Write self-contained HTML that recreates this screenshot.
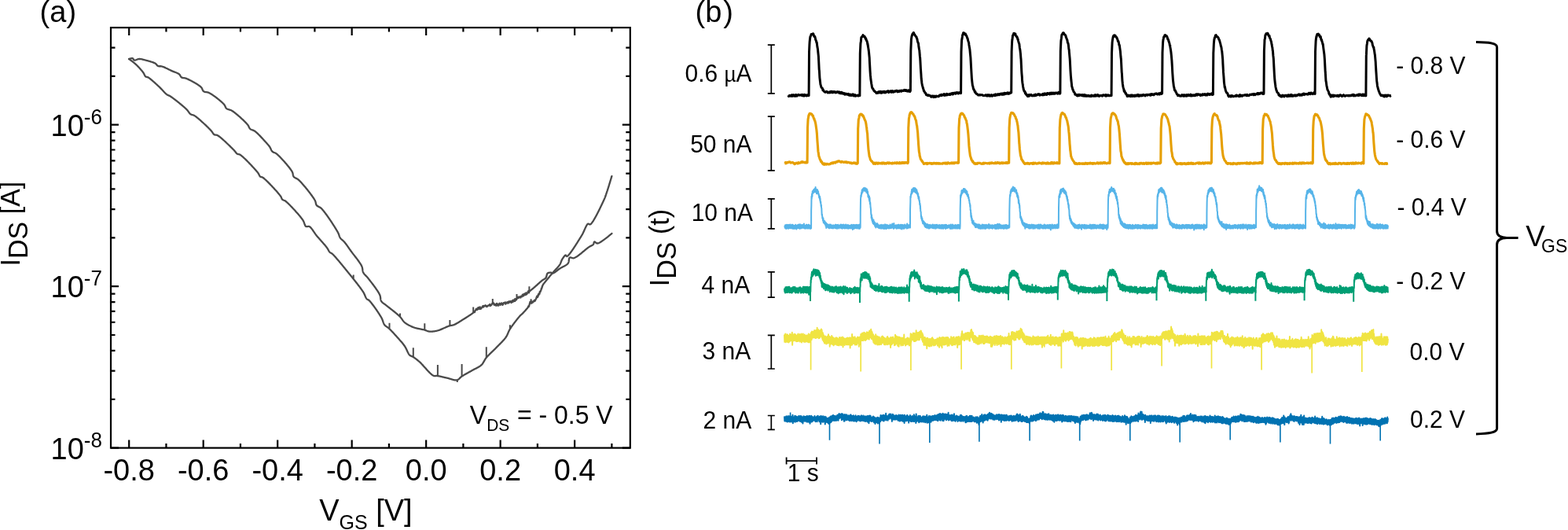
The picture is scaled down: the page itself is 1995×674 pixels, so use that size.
<!DOCTYPE html>
<html><head><meta charset="utf-8"><title>Figure</title>
<style>html,body{margin:0;padding:0;background:#fff;width:1995px;height:674px;overflow:hidden}svg{display:block}</style>
</head><body>
<svg width="1995" height="674" viewBox="0 0 1995 674">
<g stroke="#000" stroke-width="2.2" fill="none" stroke-linecap="butt">
<rect x="141" y="35.1" width="660.8" height="534.5"/>
<path d="M164.2 569.6v-10M164.2 35.1v10M211.45 569.6v-5.5M211.45 35.1v5.5M258.69 569.6v-10M258.69 35.1v10M305.94 569.6v-5.5M305.94 35.1v5.5M353.18 569.6v-10M353.18 35.1v10M400.42 569.6v-5.5M400.42 35.1v5.5M447.67 569.6v-10M447.67 35.1v10M494.92 569.6v-5.5M494.92 35.1v5.5M542.16 569.6v-10M542.16 35.1v10M589.4 569.6v-5.5M589.4 35.1v5.5M636.65 569.6v-10M636.65 35.1v10M683.89 569.6v-5.5M683.89 35.1v5.5M731.14 569.6v-10M731.14 35.1v10M778.38 569.6v-5.5M778.38 35.1v5.5M141 569.6h10M801.8 569.6h-10M141 507.75h5.5M801.8 507.75h-5.5M141 471.58h5.5M801.8 471.58h-5.5M141 445.91h5.5M801.8 445.91h-5.5M141 426h5.5M801.8 426h-5.5M141 409.73h5.5M801.8 409.73h-5.5M141 395.97h5.5M801.8 395.97h-5.5M141 384.06h5.5M801.8 384.06h-5.5M141 373.55h5.5M801.8 373.55h-5.5M141 364.15h10M801.8 364.15h-10M141 302.3h5.5M801.8 302.3h-5.5M141 266.13h5.5M801.8 266.13h-5.5M141 240.46h5.5M801.8 240.46h-5.5M141 220.55h5.5M801.8 220.55h-5.5M141 204.28h5.5M801.8 204.28h-5.5M141 190.52h5.5M801.8 190.52h-5.5M141 178.61h5.5M801.8 178.61h-5.5M141 168.1h5.5M801.8 168.1h-5.5M141 158.7h10M801.8 158.7h-10M141 96.85h5.5M801.8 96.85h-5.5M141 60.68h5.5M801.8 60.68h-5.5M141 35.01h5.5M801.8 35.01h-5.5"/>
</g>
<g stroke="#4a4a4a" stroke-width="2.3" fill="none" stroke-linejoin="round" stroke-linecap="round">
<path d="M164.1 75 164.29 74.93 164.81 74.75 165.55 74.52 166.4 74.28 167.28 74.1 168.08 74.02 168.7 74.1 169.19 74.46 169.56 75.03 169.9 75.68 170.28 76.25 170.8 76.6 171.26 76.67 171.78 76.62 172.35 76.47 172.96 76.25 173.6 76 174.27 75.73 174.95 75.46 175.64 75.24 176.32 75.07 177 75 177.55 75 178.11 75.02 178.67 75.07 179.24 75.14 179.81 75.24 180.39 75.35 180.98 75.47 181.57 75.61 182.17 75.76 182.78 75.92 183.4 76.09 184.02 76.26 184.66 76.43 185.3 76.6 185.85 76.75 186.44 76.9 187.04 77.06 187.67 77.23 188.31 77.4 188.96 77.58 189.63 77.76 190.29 77.95 190.97 78.15 191.63 78.35 192.3 78.56 192.95 78.77 193.59 78.98 194.21 79.2 194.82 79.42 195.4 79.64 195.95 79.87 196.47 80.1 196.95 80.33 197.4 80.57 197.8 80.8 198.39 81.24 198.86 81.72 199.26 82.22 199.62 82.72 199.99 83.18 200.4 83.58 200.9 83.9 201.45 84.1 202.02 84.2 202.63 84.24 203.26 84.24 203.93 84.24 204.62 84.26 205.35 84.34 206.1 84.5 206.56 84.64 207.05 84.8 207.55 84.98 208.08 85.18 208.62 85.4 209.17 85.64 209.74 85.89 210.32 86.15 210.9 86.42 211.5 86.71 212.1 86.99 212.7 87.29 213.3 87.59 213.91 87.88 214.51 88.18 215.11 88.48 215.7 88.77 216.28 89.05 216.86 89.33 217.42 89.6 217.97 89.86 218.5 90.1 219.1 90.36 219.7 90.61 220.31 90.85 220.92 91.09 221.54 91.32 222.15 91.55 222.76 91.78 223.35 92.01 223.94 92.24 224.51 92.47 225.07 92.7 225.61 92.95 226.12 93.2 226.61 93.45 227.07 93.72 227.5 94.01 227.9 94.3 228.41 94.79 228.83 95.32 229.17 95.88 229.49 96.45 229.8 97.01 230.13 97.54 230.52 98.01 231 98.4 231.49 98.67 232.01 98.86 232.56 98.99 233.14 99.08 233.75 99.16 234.38 99.23 235.05 99.32 235.74 99.45 236.45 99.64 237.2 99.9 237.6 100.07 238.03 100.25 238.48 100.45 238.96 100.66 239.45 100.89 239.97 101.13 240.5 101.39 241.04 101.66 241.61 101.93 242.18 102.22 242.76 102.52 243.36 102.83 243.96 103.15 244.56 103.47 245.17 103.8 245.79 104.14 246.4 104.48 247.01 104.83 247.62 105.18 248.22 105.53 248.82 105.88 249.41 106.24 249.99 106.59 250.56 106.95 251.12 107.3 251.66 107.66 252.18 108.01 252.69 108.35 253.18 108.69 253.65 109.03 254.09 109.36 254.51 109.69 254.9 110 255.26 110.31 255.6 110.61 255.9 110.9 256.39 111.45 256.77 112.02 257.07 112.59 257.32 113.16 257.54 113.72 257.75 114.27 257.98 114.78 258.25 115.27 258.58 115.71 259 116.1 259.46 116.4 259.96 116.63 260.48 116.8 261.05 116.93 261.63 117.03 262.25 117.12 262.88 117.21 263.54 117.32 264.21 117.46 264.9 117.64 265.6 117.88 266.3 118.2 266.69 118.41 267.11 118.63 267.54 118.88 267.99 119.14 268.46 119.43 268.94 119.73 269.43 120.04 269.93 120.38 270.45 120.72 270.98 121.08 271.51 121.45 272.05 121.83 272.6 122.22 273.15 122.62 273.71 123.03 274.27 123.44 274.83 123.87 275.39 124.29 275.95 124.72 276.51 125.16 277.06 125.59 277.61 126.03 278.15 126.47 278.69 126.9 279.21 127.34 279.73 127.77 280.23 128.2 280.73 128.62 281.21 129.04 281.67 129.45 282.12 129.86 282.55 130.25 282.97 130.64 283.36 131.02 283.74 131.38 284.09 131.73 284.42 132.07 284.72 132.39 285 132.7 285.47 133.29 285.84 133.87 286.15 134.44 286.4 134.99 286.63 135.53 286.84 136.06 287.08 136.56 287.35 137.03 287.69 137.48 288.1 137.9 288.52 138.23 288.98 138.5 289.46 138.73 289.97 138.93 290.5 139.1 291.06 139.27 291.64 139.43 292.23 139.61 292.84 139.8 293.46 140.03 294.1 140.3 294.75 140.62 295.4 141 295.76 141.23 296.14 141.49 296.54 141.76 296.95 142.05 297.37 142.36 297.81 142.69 298.26 143.03 298.72 143.38 299.19 143.75 299.68 144.13 300.16 144.53 300.66 144.93 301.17 145.35 301.68 145.77 302.19 146.21 302.71 146.65 303.23 147.09 303.76 147.55 304.28 148.01 304.81 148.47 305.33 148.94 305.85 149.41 306.37 149.88 306.89 150.35 307.4 150.82 307.91 151.29 308.41 151.76 308.91 152.22 309.39 152.68 309.87 153.14 310.34 153.59 310.79 154.04 311.24 154.48 311.67 154.91 312.09 155.33 312.5 155.75 312.88 156.15 313.26 156.54 313.61 156.92 313.95 157.28 314.27 157.64 314.57 157.97 314.84 158.3 315.1 158.6 315.56 159.21 315.94 159.81 316.25 160.38 316.51 160.93 316.74 161.46 316.97 161.98 317.21 162.46 317.48 162.93 317.8 163.38 318.2 163.8 318.65 164.17 319.14 164.48 319.66 164.75 320.21 164.99 320.78 165.21 321.37 165.43 321.98 165.67 322.6 165.93 323.23 166.22 323.87 166.58 324.5 167 324.88 167.28 325.27 167.59 325.68 167.93 326.09 168.28 326.52 168.65 326.95 169.04 327.39 169.45 327.84 169.88 328.29 170.31 328.75 170.76 329.21 171.22 329.68 171.69 330.15 172.17 330.61 172.65 331.08 173.14 331.55 173.63 332.01 174.13 332.47 174.62 332.93 175.11 333.38 175.6 333.83 176.08 334.27 176.56 334.7 177.03 335.12 177.5 335.53 177.95 335.93 178.39 336.32 178.82 336.69 179.23 337.05 179.62 337.4 180 337.89 180.54 338.37 181.06 338.83 181.56 339.28 182.05 339.71 182.53 340.13 183 340.54 183.46 340.93 183.92 341.32 184.38 341.69 184.83 342.06 185.29 342.41 185.76 342.76 186.22 343.1 186.7 343.46 187.25 343.78 187.83 344.07 188.41 344.35 189 344.62 189.59 344.88 190.17 345.15 190.74 345.44 191.28 345.76 191.79 346.11 192.27 346.5 192.7 346.94 193.08 347.41 193.38 347.89 193.62 348.4 193.83 348.93 194.03 349.48 194.24 350.05 194.48 350.65 194.77 351.26 195.14 351.9 195.6 352.2 195.84 352.51 196.11 352.84 196.39 353.18 196.7 353.54 197.02 353.91 197.37 354.29 197.73 354.69 198.11 355.09 198.51 355.51 198.92 355.93 199.35 356.37 199.79 356.81 200.24 357.26 200.71 357.71 201.18 358.18 201.67 358.64 202.17 359.11 202.67 359.58 203.19 360.06 203.71 360.54 204.23 361.02 204.76 361.49 205.3 361.97 205.84 362.45 206.38 362.92 206.93 363.4 207.48 363.86 208.02 364.33 208.57 364.79 209.11 365.24 209.65 365.68 210.19 366.12 210.73 366.55 211.26 366.98 211.78 367.39 212.3 367.79 212.81 368.18 213.32 368.56 213.81 368.92 214.29 369.27 214.77 369.61 215.23 369.93 215.68 370.24 216.11 370.53 216.53 370.8 216.94 371.05 217.33 371.29 217.71 371.51 218.06 371.7 218.4 372.04 219.09 372.29 219.75 372.48 220.38 372.61 221 372.71 221.59 372.8 222.15 372.89 222.7 373.01 223.23 373.17 223.74 373.39 224.23 373.7 224.7 374.07 225.12 374.47 225.48 374.92 225.79 375.4 226.07 375.9 226.33 376.44 226.59 377 226.85 377.57 227.14 378.16 227.46 378.77 227.84 379.38 228.28 380 228.8 380.29 229.07 380.6 229.36 380.91 229.67 381.24 230 381.59 230.34 381.94 230.7 382.3 231.09 382.67 231.48 383.06 231.89 383.45 232.32 383.85 232.76 384.25 233.21 384.67 233.68 385.09 234.15 385.52 234.64 385.95 235.14 386.38 235.65 386.82 236.17 387.27 236.69 387.71 237.22 388.16 237.76 388.61 238.3 389.07 238.85 389.52 239.41 389.97 239.96 390.42 240.52 390.88 241.09 391.33 241.65 391.77 242.22 392.22 242.78 392.66 243.35 393.1 243.91 393.53 244.47 393.95 245.03 394.38 245.58 394.79 246.13 395.2 246.68 395.6 247.22 395.99 247.75 396.38 248.27 396.75 248.79 397.12 249.3 397.47 249.8 397.81 250.29 398.15 250.77 398.47 251.24 398.77 251.69 399.07 252.13 399.35 252.56 399.61 252.97 399.86 253.37 400.1 253.75 400.31 254.12 400.52 254.47 400.7 254.8 401.07 255.56 401.34 256.29 401.54 256.97 401.68 257.62 401.8 258.24 401.91 258.84 402.04 259.4 402.22 259.95 402.46 260.48 402.8 261 403.17 261.42 403.57 261.78 404.02 262.09 404.49 262.37 404.99 262.63 405.52 262.89 406.07 263.16 406.63 263.46 407.21 263.8 407.8 264.19 408.4 264.65 409 265.2 409.27 265.47 409.55 265.77 409.84 266.08 410.14 266.42 410.45 266.77 410.77 267.14 411.1 267.53 411.43 267.93 411.77 268.35 412.12 268.79 412.48 269.24 412.84 269.7 413.21 270.18 413.59 270.67 413.96 271.18 414.35 271.69 414.74 272.21 415.13 272.75 415.52 273.29 415.92 273.85 416.33 274.41 416.73 274.98 417.13 275.55 417.54 276.13 417.95 276.72 418.36 277.31 418.77 277.9 419.18 278.5 419.59 279.1 419.99 279.7 420.4 280.3 420.81 280.91 421.21 281.51 421.61 282.12 422.01 282.72 422.4 283.32 422.79 283.91 423.18 284.51 423.56 285.09 423.93 285.68 424.3 286.26 424.67 286.83 425.03 287.39 425.38 287.95 425.73 288.5 426.06 289.04 426.4 289.57 426.72 290.09 427.03 290.6 427.34 291.1 427.63 291.59 427.92 292.06 428.19 292.52 428.46 292.97 428.71 293.4 428.95 293.81 429.18 294.21 429.4 294.59 429.61 294.95 429.8 295.3 430.17 296 430.48 296.66 430.75 297.29 430.98 297.89 431.19 298.46 431.37 299.01 431.55 299.55 431.73 300.06 431.91 300.56 432.11 301.05 432.34 301.54 432.6 302.02 432.9 302.5 433.26 302.99 433.63 303.44 434.03 303.86 434.45 304.27 434.88 304.66 435.32 305.05 435.78 305.44 436.24 305.84 436.7 306.26 437.17 306.71 437.64 307.18 438.1 307.7 438.43 308.1 438.77 308.5 439.1 308.92 439.44 309.36 439.78 309.8 440.12 310.25 440.47 310.71 440.81 311.18 441.16 311.67 441.51 312.16 441.86 312.65 442.22 313.16 442.58 313.67 442.95 314.19 443.31 314.72 443.68 315.25 444.06 315.79 444.44 316.33 444.82 316.88 445.21 317.43 445.6 317.98 446 318.54 446.4 319.1 446.72 319.54 447.04 319.98 447.38 320.44 447.73 320.9 448.09 321.38 448.46 321.86 448.84 322.35 449.22 322.84 449.61 323.35 450.01 323.85 450.41 324.37 450.82 324.89 451.22 325.41 451.63 325.94 452.04 326.46 452.46 326.99 452.87 327.53 453.28 328.06 453.69 328.59 454.09 329.13 454.5 329.66 454.89 330.19 455.29 330.72 455.67 331.24 456.05 331.77 456.43 332.29 456.79 332.8 457.15 333.31 457.49 333.81 457.82 334.31 458.15 334.8 458.46 335.28 458.75 335.76 459.03 336.22 459.3 336.68 459.55 337.13 459.79 337.56 460 337.99 460.2 338.4 460.48 339.07 460.71 339.73 460.89 340.37 461.03 340.99 461.14 341.6 461.23 342.2 461.31 342.79 461.39 343.37 461.47 343.94 461.57 344.5 461.69 345.06 461.85 345.61 462.05 346.15 462.3 346.7 462.59 347.22 462.91 347.72 463.24 348.19 463.61 348.65 463.99 349.09 464.38 349.53 464.8 349.97 465.23 350.41 465.67 350.85 466.13 351.31 466.59 351.79 467.06 352.3 467.54 352.83 468.02 353.4 468.5 354 468.79 354.37 469.09 354.76 469.4 355.17 469.73 355.58 470.07 356.02 470.41 356.46 470.77 356.92 471.14 357.39 471.51 357.88 471.89 358.37 472.28 358.87 472.67 359.38 473.07 359.9 473.47 360.42 473.87 360.95 474.28 361.49 474.69 362.03 475.1 362.57 475.51 363.12 475.91 363.67 476.32 364.22 476.72 364.78 477.13 365.33 477.52 365.88 477.92 366.43 478.3 366.98 478.68 367.53 479.06 368.07 479.42 368.6 479.78 369.13 480.13 369.66 480.46 370.18 480.79 370.69 481.1 371.19 481.41 371.68 481.69 372.16 481.97 372.63 482.23 373.09 482.47 373.54 482.7 373.98 482.91 374.4 483.1 374.8 483.38 375.49 483.61 376.16 483.78 376.82 483.91 377.46 484.02 378.09 484.1 378.71 484.17 379.31 484.24 379.9 484.32 380.47 484.42 381.03 484.55 381.57 484.71 382.1 484.93 382.61 485.2 383.1 485.53 383.59 485.9 384.03 486.29 384.44 486.7 384.83 487.14 385.19 487.61 385.55 488.09 385.9 488.6 386.25 489.13 386.61 489.67 386.99 490.23 387.39 490.81 387.83 491.4 388.3 491.77 388.6 492.15 388.92 492.55 389.24 492.98 389.58 493.41 389.92 493.86 390.28 494.32 390.64 494.8 391.01 495.29 391.4 495.78 391.78 496.29 392.18 496.8 392.58 497.32 392.98 497.85 393.39 498.38 393.8 498.91 394.22 499.45 394.64 499.99 395.06 500.52 395.49 501.06 395.91 501.59 396.33 502.12 396.76 502.64 397.18 503.16 397.6 503.67 398.02 504.17 398.44 504.66 398.85 505.15 399.26 505.62 399.66 506.08 400.06 506.52 400.45 506.95 400.84 507.37 401.21 507.76 401.59 508.14 401.95 508.5 402.3 509.01 402.83 509.48 403.35 509.91 403.88 510.31 404.4 510.69 404.91 511.05 405.42 511.4 405.92 511.75 406.42 512.09 406.91 512.43 407.39 512.79 407.87 513.16 408.34 513.55 408.79 513.96 409.24 514.41 409.68 514.9 410.1 515.35 410.46 515.81 410.81 516.28 411.16 516.77 411.5 517.27 411.84 517.79 412.17 518.31 412.49 518.85 412.8 519.39 413.11 519.94 413.42 520.5 413.71 521.07 414 521.64 414.29 522.22 414.56 522.8 414.83 523.38 415.1 523.96 415.35 524.55 415.6 525.13 415.84 525.72 416.07 526.3 416.3 526.86 416.5 527.43 416.7 528.01 416.88 528.61 417.05 529.21 417.22 529.83 417.38 530.45 417.53 531.07 417.67 531.7 417.81 532.33 417.94 532.95 418.06 533.58 418.19 534.2 418.31 534.81 418.43 535.42 418.54 536.02 418.66 536.6 418.77 537.18 418.89 537.74 419.01 538.28 419.12 538.81 419.25 539.31 419.37 539.8 419.5 540.46 419.7 541.07 419.91 541.65 420.12 542.2 420.34 542.73 420.56 543.26 420.77 543.78 420.96 544.32 421.14 544.88 421.29 545.47 421.41 546.1 421.5 546.64 421.55 547.19 421.58 547.75 421.6 548.32 421.61 548.91 421.6 549.5 421.58 550.1 421.54 550.72 421.49 551.34 421.43 551.96 421.35 552.6 421.27 553.24 421.17 553.88 421.06 554.53 420.93 555.18 420.8 555.84 420.66 556.5 420.5 557.03 420.36 557.59 420.2 558.15 420.02 558.73 419.83 559.32 419.61 559.92 419.39 560.53 419.15 561.15 418.9 561.77 418.64 562.39 418.37 563.02 418.1 563.65 417.82 564.28 417.54 564.9 417.26 565.52 416.99 566.13 416.71 566.74 416.44 567.33 416.17 567.92 415.91 568.49 415.66 569.05 415.42 569.59 415.19 570.11 414.98 570.62 414.78 571.1 414.6 571.56 414.44 572 414.3 572.76 414.1 573.44 413.96 574.06 413.87 574.65 413.8 575.23 413.72 575.83 413.61 576.48 413.44 577.2 413.2 577.63 413.03 578.07 412.84 578.53 412.63 579 412.4 579.49 412.15 579.99 411.89 580.5 411.62 581.02 411.33 581.54 411.03 582.08 410.72 582.62 410.41 583.16 410.08 583.71 409.75 584.27 409.41 584.82 409.06 585.37 408.72 585.93 408.37 586.48 408.02 587.03 407.68 587.58 407.33 588.12 406.99 588.65 406.65 589.18 406.32 589.7 406 590.23 405.67 590.77 405.34 591.31 405 591.87 404.65 592.42 404.3 592.99 403.95 593.55 403.59 594.12 403.23 594.68 402.87 595.25 402.51 595.81 402.15 596.36 401.79 596.91 401.42 597.45 401.07 597.98 400.71 598.5 400.35 599.01 400 599.5 399.66 599.98 399.31 600.44 398.98 600.89 398.65 601.31 398.32 601.72 398.01 602.1 397.7 602.67 397.19 603.16 396.55 603.58 396.38 603.97 396.99 604.36 395.14 604.75 394.81 605.19 394.61 605.7 392.97 606.3 393.54 606.74 393.64 607.21 393.88 607.72 391.55 608.25 391.94 608.82 391.08 609.4 393.02 610.01 392.47 610.63 390.31 611.27 392.93 611.92 392.68 612.57 391.56 613.23 391.26 613.89 389.7 614.55 389.09 615.2 390.45 615.84 388.87 616.47 389.08 617.08 389.06 617.68 388.25 618.25 389.37 618.8 389.12 619.45 390.1 620.1 388.89 620.74 389 621.38 388.32 622 388.55 622.62 387.69 623.23 386.91 623.83 388.84 624.41 388.62 624.98 387.96 625.54 387.4 626.08 386.1 626.6 385.74 627.1 385.87 627.83 385.23 628.47 387.45 629.08 386.55 629.7 388.09 630.39 386.88 631.2 388.67 631.64 388.35 632.11 385.8 632.62 386.41 633.15 388.48 633.71 387.12 634.29 388.6 634.88 386.79 635.5 385.75 636.13 387.34 636.78 387.7 637.43 386.08 638.09 385.44 638.75 386.07 639.41 387.85 640.07 387.12 640.73 385.08 641.38 385.34 642.03 384.77 642.66 384.52 643.27 386.6 643.87 384.61 644.45 385.61 645 385.14 645.63 384.21 646.26 385.66 646.89 383.67 647.51 385.02 648.13 383.24 648.74 383.95 649.34 383.12 649.94 383.07 650.52 384.96 651.1 384.23 651.67 382.51 652.22 384.02 652.76 381.77 653.29 382.09 653.81 383.23 654.31 382.36 654.8 380.5 655.41 382.85 655.99 380.2 656.54 380 657.07 381.21 657.59 379.53 658.09 379.09 658.59 378.09 659.09 377.8 659.59 378.96 660.1 377.63 660.69 378.36 661.27 377.35 661.84 377.28 662.41 378.48 662.99 376.74 663.57 376.7 664.17 377.25 664.8 374.85 665.32 374.48 665.85 376.45 666.4 375.88 666.96 373.88 667.52 373.4 668.1 374.74 668.67 375.02 669.25 372.47 669.82 374.4 670.39 373.85 670.95 372.67 671.5 371.76 671.98 370.48 672.46 369.96 672.93 372.39 673.39 370.66 673.85 370.32 674.31 369.97 674.76 369.61 675.23 369.24 675.7 368.86 676.17 368.47 676.66 368.07 677.16 367.66 677.67 367.24 678.2 366.8 678.61 366.46 679.03 366.11 679.46 365.73 679.91 365.34 680.37 364.94 680.84 364.52 681.32 364.1 681.81 363.66 682.3 363.22 682.79 362.78 683.29 362.33 683.79 361.88 684.29 361.42 684.79 360.98 685.29 360.53 685.78 360.09 686.26 359.66 686.74 359.24 687.2 358.82 687.66 358.43 688.11 358.04 688.54 357.67 688.96 357.32 689.36 356.99 689.74 356.68 690.1 356.4 690.75 355.93 691.38 355.55 691.98 355.21 692.56 354.91 693.1 354.6 693.6 354.26 694.07 353.87 694.5 353.4 694.81 352.9 695.06 352.31 695.25 351.66 695.41 350.98 695.56 350.29 695.71 349.61 695.88 348.96 696.09 348.38 696.36 347.89 696.7 347.5 697.23 347.16 697.86 346.92 698.55 346.77 699.26 346.68 699.97 346.65 700.62 346.66 701.2 346.7 701.95 346.97 702.61 347.36 703.4 347.5 703.77 347.42 704.18 347.28 704.62 347.07 705.08 346.81 705.58 346.51 706.09 346.17 706.62 345.79 707.17 345.38 707.73 344.95 708.29 344.51 708.87 344.05 709.45 343.6 710.03 343.15 710.61 342.7 711.18 342.28 711.75 341.87 712.3 341.5 712.81 341.18 713.34 340.86 713.89 340.55 714.46 340.24 715.04 339.93 715.62 339.63 716.21 339.33 716.8 339.02 717.39 338.71 717.98 338.4 718.55 338.09 719.11 337.77 719.65 337.44 720.18 337.11 720.68 336.77 721.15 336.42 721.59 336.06 722 335.69 722.37 335.3 722.7 334.9 723.06 334.32 723.32 333.67 723.52 332.97 723.66 332.24 723.77 331.5 723.85 330.75 723.93 330.04 724.03 329.37 724.16 328.76 724.33 328.23 724.58 327.81 724.9 327.5 725.39 327.33 725.93 327.35 726.52 327.52 727.16 327.76 727.84 328.01 728.56 328.21 729.31 328.29 730.1 328.2 730.46 328.09 730.85 327.95 731.25 327.78 731.67 327.58 732.11 327.35 732.57 327.1 733.04 326.82 733.53 326.51 734.03 326.19 734.54 325.84 735.06 325.48 735.59 325.09 736.13 324.7 736.68 324.28 737.23 323.86 737.79 323.43 738.35 322.98 738.92 322.53 739.48 322.07 740.05 321.61 740.62 321.14 741.18 320.68 741.74 320.21 742.3 319.75 742.85 319.29 743.4 318.83 743.94 318.38 744.47 317.94 744.99 317.51 745.5 317.09 746 316.69 746.48 316.3 746.95 315.92 747.4 315.56 747.84 315.23 748.26 314.91 748.66 314.61 749.04 314.34 749.4 314.1 750.09 313.67 750.77 313.29 751.41 312.95 752.03 312.65 752.61 312.36 753.16 312.08 753.66 311.8 754.12 311.5 754.54 311.17 754.9 310.8 755.28 310.11 755.49 309.3 755.64 308.51 755.84 307.87 756.2 307.5 756.61 307.51 757.07 307.77 757.59 308.18 758.16 308.66 758.79 309.1 759.47 309.41 760.2 309.5 760.55 309.45 760.95 309.35 761.38 309.19 761.86 308.99 762.37 308.75 762.91 308.47 763.48 308.15 764.08 307.8 764.7 307.41 765.34 307 766 306.57 766.66 306.11 767.34 305.63 768.03 305.14 768.72 304.64 769.41 304.13 770.09 303.61 770.77 303.1 771.44 302.58 772.1 302.06 772.75 301.56 773.37 301.06 773.98 300.57 774.55 300.11 775.1 299.66 775.62 299.23 776.11 298.83 776.56 298.46 776.96 298.12 777.32 297.81 777.64 297.55 777.9 297.32 778.12 297.14 778.27 297.01 778.37 296.93 778.4 296.9"/>
<path d="M164.1 75 164.15 75.04 164.3 75.15 164.55 75.32 164.87 75.55 165.27 75.84 165.72 76.17 166.24 76.55 166.79 76.96 167.38 77.41 168 77.88 168.64 78.36 169.28 78.86 169.92 79.37 170.56 79.87 171.17 80.38 171.75 80.87 172.3 81.35 172.8 81.8 173.22 82.2 173.65 82.61 174.09 83.04 174.53 83.47 174.98 83.92 175.42 84.38 175.87 84.85 176.32 85.32 176.77 85.8 177.22 86.28 177.66 86.76 178.1 87.25 178.53 87.73 178.95 88.21 179.37 88.69 179.77 89.16 180.16 89.63 180.54 90.09 180.91 90.53 181.26 90.97 181.59 91.39 181.9 91.8 182.2 92.2 182.6 92.79 182.96 93.39 183.27 93.99 183.55 94.59 183.82 95.16 184.08 95.7 184.35 96.21 184.64 96.66 184.95 97.07 185.3 97.4 185.85 97.71 186.41 97.86 187.01 97.95 187.67 98.09 188.4 98.4 188.73 98.59 189.07 98.81 189.44 99.05 189.83 99.32 190.24 99.62 190.66 99.93 191.1 100.27 191.55 100.63 192.01 101 192.49 101.39 192.98 101.8 193.47 102.21 193.97 102.64 194.48 103.08 195 103.53 195.51 103.99 196.03 104.45 196.55 104.91 197.07 105.37 197.58 105.84 198.09 106.31 198.6 106.77 199.1 107.23 199.59 107.68 200.08 108.12 200.55 108.56 201.02 108.99 201.46 109.4 201.9 109.8 202.37 110.24 202.84 110.69 203.31 111.16 203.78 111.63 204.25 112.11 204.72 112.6 205.18 113.09 205.64 113.58 206.1 114.08 206.55 114.57 207.01 115.05 207.45 115.53 207.89 116.01 208.33 116.47 208.76 116.93 209.18 117.37 209.6 117.79 210.01 118.2 210.41 118.59 210.81 118.96 211.19 119.31 211.57 119.63 211.94 119.93 212.3 120.2 212.94 120.62 213.51 120.91 214.04 121.14 214.58 121.34 215.14 121.57 215.77 121.87 216.5 122.3 216.81 122.5 217.14 122.72 217.5 122.96 217.87 123.22 218.26 123.5 218.67 123.79 219.1 124.1 219.54 124.42 220 124.75 220.47 125.1 220.96 125.46 221.45 125.84 221.96 126.22 222.47 126.61 223 127.01 223.53 127.42 224.07 127.84 224.61 128.27 225.16 128.7 225.71 129.13 226.26 129.57 226.82 130.01 227.37 130.46 227.92 130.9 228.48 131.35 229.02 131.8 229.57 132.24 230.11 132.69 230.64 133.13 231.17 133.57 231.69 134 232.2 134.43 232.69 134.85 233.18 135.27 233.66 135.68 234.12 136.08 234.56 136.47 235 136.86 235.41 137.23 235.81 137.59 236.19 137.94 236.55 138.27 236.88 138.59 237.2 138.9 237.74 139.46 238.23 140.01 238.68 140.56 239.09 141.09 239.47 141.62 239.83 142.13 240.18 142.63 240.52 143.1 240.86 143.56 241.21 143.99 241.58 144.39 241.97 144.76 242.4 145.1 242.93 145.43 243.45 145.68 243.98 145.86 244.52 146.01 245.07 146.15 245.65 146.32 246.26 146.53 246.91 146.81 247.6 147.2 247.92 147.41 248.27 147.64 248.63 147.89 249.01 148.16 249.4 148.45 249.81 148.76 250.23 149.09 250.67 149.44 251.12 149.8 251.58 150.18 252.06 150.57 252.54 150.97 253.03 151.39 253.53 151.81 254.04 152.25 254.55 152.7 255.07 153.15 255.59 153.62 256.12 154.09 256.65 154.56 257.18 155.04 257.72 155.53 258.25 156.01 258.78 156.5 259.31 156.99 259.83 157.48 260.36 157.97 260.88 158.46 261.39 158.95 261.9 159.43 262.4 159.91 262.89 160.38 263.37 160.84 263.84 161.3 264.3 161.75 264.75 162.19 265.19 162.63 265.61 163.05 266.02 163.45 266.41 163.85 266.79 164.23 267.15 164.6 267.49 164.95 267.82 165.28 268.12 165.6 268.4 165.9 268.92 166.49 269.37 167.06 269.77 167.62 270.13 168.16 270.46 168.68 270.78 169.18 271.09 169.64 271.4 170.07 271.73 170.46 272.1 170.8 272.5 171.1 273.04 171.36 273.58 171.49 274.13 171.54 274.7 171.57 275.31 171.64 275.98 171.79 276.7 172.1 277 172.27 277.33 172.46 277.67 172.68 278.04 172.92 278.42 173.19 278.81 173.48 279.22 173.79 279.65 174.12 280.09 174.47 280.54 174.83 281.01 175.21 281.48 175.61 281.97 176.02 282.46 176.45 282.97 176.89 283.48 177.34 283.99 177.8 284.51 178.27 285.04 178.74 285.57 179.23 286.1 179.72 286.63 180.21 287.17 180.71 287.7 181.22 288.23 181.72 288.76 182.22 289.29 182.73 289.82 183.23 290.33 183.73 290.85 184.22 291.35 184.72 291.85 185.2 292.34 185.68 292.82 186.15 293.29 186.61 293.75 187.07 294.19 187.51 294.63 187.94 295.05 188.35 295.45 188.75 295.84 189.14 296.21 189.51 296.56 189.86 296.89 190.19 297.21 190.51 297.5 190.8 298.05 191.37 298.55 191.94 299 192.48 299.41 193.01 299.79 193.51 300.16 193.99 300.52 194.43 300.87 194.84 301.23 195.2 301.6 195.53 302 195.8 302.61 196.05 303.18 196.13 303.78 196.16 304.43 196.27 305.2 196.6 305.46 196.75 305.74 196.93 306.04 197.14 306.35 197.37 306.69 197.63 307.04 197.9 307.41 198.2 307.8 198.52 308.2 198.86 308.61 199.22 309.04 199.6 309.48 199.99 309.93 200.4 310.39 200.83 310.86 201.27 311.34 201.72 311.83 202.19 312.33 202.67 312.83 203.16 313.34 203.66 313.85 204.16 314.37 204.68 314.89 205.2 315.42 205.73 315.94 206.26 316.47 206.8 317 207.34 317.52 207.88 318.05 208.43 318.57 208.97 319.09 209.52 319.6 210.06 320.11 210.6 320.62 211.14 321.11 211.67 321.6 212.2 322.08 212.72 322.56 213.24 323.02 213.75 323.47 214.25 323.91 214.74 324.34 215.21 324.75 215.68 325.16 216.13 325.54 216.57 325.91 217 326.27 217.41 326.6 217.8 326.92 218.18 327.22 218.54 327.5 218.88 327.76 219.2 328 219.5 328.48 220.16 328.88 220.8 329.22 221.41 329.51 222 329.78 222.56 330.03 223.08 330.28 223.56 330.55 223.99 330.85 224.37 331.2 224.7 331.75 225 332.3 225.12 332.89 225.19 333.55 225.34 334.3 225.7 334.55 225.86 334.81 226.05 335.1 226.26 335.4 226.5 335.73 226.76 336.07 227.04 336.42 227.35 336.8 227.67 337.18 228.02 337.59 228.38 338 228.76 338.43 229.16 338.87 229.58 339.32 230.01 339.78 230.45 340.24 230.91 340.72 231.38 341.21 231.86 341.7 232.36 342.19 232.86 342.7 233.37 343.2 233.89 343.71 234.42 344.23 234.95 344.74 235.49 345.26 236.03 345.78 236.58 346.29 237.13 346.81 237.68 347.32 238.23 347.83 238.78 348.33 239.33 348.84 239.88 349.33 240.43 349.82 240.97 350.31 241.5 350.78 242.04 351.25 242.56 351.71 243.08 352.15 243.59 352.59 244.09 353.01 244.58 353.43 245.05 353.83 245.52 354.21 245.97 354.58 246.41 354.93 246.84 355.27 247.25 355.59 247.64 355.89 248.02 356.18 248.37 356.44 248.71 356.68 249.03 356.9 249.33 357.1 249.6 357.57 250.34 357.9 251.02 358.14 251.65 358.34 252.22 358.56 252.75 358.83 253.24 359.2 253.7 359.66 254.07 360.16 254.34 360.7 254.54 361.28 254.74 361.9 254.98 362.58 255.32 363.3 255.8 363.57 256.01 363.85 256.24 364.15 256.48 364.46 256.75 364.79 257.04 365.13 257.35 365.49 257.67 365.86 258.01 366.24 258.37 366.63 258.74 367.03 259.13 367.45 259.53 367.87 259.95 368.3 260.37 368.74 260.81 369.19 261.27 369.64 261.73 370.1 262.2 370.57 262.68 371.04 263.17 371.51 263.67 371.99 264.17 372.47 264.68 372.95 265.19 373.44 265.72 373.92 266.24 374.41 266.77 374.89 267.3 375.38 267.83 375.86 268.37 376.34 268.9 376.82 269.43 377.29 269.97 377.76 270.5 378.22 271.03 378.68 271.56 379.13 272.08 379.58 272.6 380.01 273.11 380.44 273.62 380.86 274.12 381.27 274.61 381.67 275.1 382.06 275.57 382.44 276.04 382.8 276.5 383.15 276.94 383.49 277.38 383.82 277.8 384.13 278.21 384.42 278.6 384.7 278.98 384.96 279.35 385.2 279.7 385.62 280.36 385.99 281.04 386.32 281.72 386.61 282.4 386.86 283.06 387.1 283.72 387.32 284.36 387.52 284.97 387.73 285.54 387.94 286.08 388.16 286.58 388.4 287.02 388.67 287.41 388.96 287.74 389.3 288 389.93 288.21 390.59 288.17 391.29 288.01 392.02 287.85 392.75 287.8 393.5 288 393.84 288.19 394.19 288.42 394.55 288.7 394.9 289.02 395.26 289.38 395.63 289.77 396 290.19 396.37 290.64 396.74 291.12 397.12 291.62 397.5 292.14 397.88 292.68 398.27 293.24 398.66 293.8 399.05 294.38 399.45 294.96 399.84 295.54 400.24 296.13 400.65 296.71 401.05 297.29 401.46 297.86 401.86 298.42 402.27 298.96 402.69 299.49 403.1 300 403.48 300.45 403.87 300.91 404.27 301.38 404.67 301.85 405.09 302.33 405.51 302.82 405.94 303.3 406.37 303.79 406.81 304.29 407.25 304.78 407.69 305.28 408.14 305.78 408.58 306.28 409.03 306.77 409.47 307.27 409.91 307.77 410.35 308.26 410.78 308.75 411.21 309.23 411.63 309.71 412.04 310.19 412.45 310.66 412.85 311.12 413.24 311.57 413.61 312.02 413.98 312.46 414.33 312.89 414.67 313.31 415 313.72 415.31 314.11 415.6 314.5 416.04 315.11 416.45 315.72 416.82 316.32 417.17 316.91 417.49 317.48 417.81 318.04 418.11 318.57 418.41 319.08 418.72 319.56 419.03 320.01 419.35 320.42 419.7 320.8 420.18 321.21 420.64 321.49 421.11 321.72 421.6 321.96 422.16 322.3 422.8 322.8 423.03 323 423.27 323.23 423.53 323.48 423.8 323.75 424.09 324.04 424.39 324.36 424.71 324.69 425.04 325.04 425.38 325.41 425.74 325.8 426.1 326.21 426.48 326.63 426.87 327.06 427.26 327.51 427.67 327.97 428.08 328.45 428.5 328.94 428.93 329.44 429.37 329.94 429.81 330.46 430.26 330.99 430.71 331.53 431.17 332.07 431.63 332.62 432.09 333.17 432.56 333.73 433.03 334.29 433.5 334.86 433.97 335.43 434.44 336 434.91 336.57 435.38 337.15 435.85 337.72 436.32 338.29 436.79 338.86 437.25 339.42 437.71 339.98 438.16 340.54 438.61 341.09 439.05 341.64 439.49 342.17 439.92 342.71 440.35 343.23 440.76 343.74 441.17 344.24 441.57 344.74 441.96 345.22 442.34 345.69 442.71 346.14 443.07 346.58 443.42 347.01 443.75 347.42 444.07 347.82 444.38 348.19 444.68 348.55 444.96 348.89 445.22 349.22 445.47 349.52 445.7 349.8 446.2 350.41 446.64 350.93 447.02 351.39 447.36 351.81 447.68 352.2 447.99 352.58 448.31 352.98 448.66 353.43 449.05 353.92 449.5 354.5 449.77 354.85 450.06 355.21 450.36 355.6 450.68 356 451.01 356.42 451.35 356.86 451.71 357.31 452.08 357.78 452.46 358.26 452.85 358.75 453.24 359.26 453.64 359.77 454.05 360.29 454.46 360.82 454.88 361.35 455.3 361.89 455.71 362.44 456.13 362.98 456.55 363.53 456.97 364.08 457.39 364.63 457.8 365.17 458.2 365.71 458.6 366.25 458.99 366.79 459.38 367.32 459.75 367.84 460.12 368.35 460.47 368.85 460.81 369.34 461.14 369.82 461.46 370.29 461.75 370.74 462.04 371.18 462.3 371.6 462.68 372.24 463.02 372.89 463.34 373.53 463.64 374.18 463.92 374.81 464.18 375.44 464.43 376.05 464.68 376.64 464.92 377.21 465.16 377.76 465.4 378.28 465.66 378.77 465.92 379.22 466.2 379.63 466.5 380 466.98 380.44 467.45 380.73 467.94 380.95 468.45 381.18 469 381.51 469.6 382 469.84 382.24 470.1 382.5 470.37 382.8 470.66 383.11 470.96 383.46 471.28 383.82 471.61 384.21 471.94 384.62 472.29 385.05 472.65 385.49 473.02 385.96 473.39 386.44 473.78 386.94 474.16 387.45 474.56 387.97 474.96 388.51 475.37 389.06 475.78 389.61 476.19 390.18 476.6 390.75 477.02 391.33 477.43 391.91 477.85 392.5 478.26 393.09 478.68 393.69 479.09 394.28 479.5 394.87 479.9 395.47 480.3 396.06 480.69 396.64 481.08 397.22 481.46 397.8 481.83 398.36 482.2 398.92 482.55 399.47 482.9 400.01 483.23 400.54 483.55 401.05 483.86 401.55 484.16 402.03 484.44 402.5 484.71 402.95 484.96 403.39 485.2 403.8 485.55 404.44 485.86 405.08 486.14 405.71 486.4 406.33 486.64 406.94 486.85 407.54 487.06 408.13 487.25 408.71 487.45 409.27 487.64 409.82 487.83 410.36 488.03 410.88 488.24 411.38 488.47 411.87 488.72 412.33 489 412.78 489.3 413.2 489.7 413.68 490.13 414.1 490.56 414.47 491.01 414.82 491.48 415.14 491.96 415.45 492.45 415.76 492.95 416.09 493.46 416.45 493.97 416.85 494.5 417.3 494.86 417.64 495.24 417.99 495.62 418.35 496.01 418.73 496.41 419.12 496.81 419.52 497.22 419.94 497.64 420.36 498.06 420.8 498.48 421.24 498.91 421.69 499.34 422.14 499.77 422.61 500.2 423.07 500.64 423.54 501.08 424.01 501.51 424.49 501.95 424.97 502.38 425.44 502.81 425.92 503.24 426.39 503.66 426.87 504.08 427.34 504.5 427.8 504.91 428.25 505.32 428.71 505.73 429.17 506.14 429.63 506.56 430.1 506.98 430.56 507.41 431.03 507.83 431.51 508.25 431.98 508.67 432.46 509.1 432.93 509.52 433.41 509.93 433.9 510.35 434.38 510.76 434.86 511.17 435.35 511.57 435.83 511.97 436.32 512.36 436.8 512.75 437.29 513.13 437.77 513.5 438.26 513.86 438.75 514.22 439.23 514.56 439.72 514.9 440.2 515.26 440.75 515.61 441.32 515.94 441.9 516.27 442.5 516.58 443.11 516.89 443.73 517.18 444.35 517.48 444.97 517.76 445.59 518.04 446.2 518.32 446.8 518.6 447.39 518.87 447.97 519.15 448.52 519.43 449.05 519.71 449.56 520 450.04 520.29 450.49 520.58 450.9 520.89 451.27 521.2 451.6 521.76 452.07 522.32 452.41 522.88 452.66 523.45 452.87 524.04 453.08 524.65 453.34 525.3 453.7 525.72 453.97 526.14 454.24 526.58 454.53 527.02 454.84 527.48 455.15 527.94 455.48 528.41 455.83 528.89 456.18 529.38 456.55 529.88 456.93 530.39 457.33 530.9 457.74 531.42 458.16 531.96 458.6 532.5 459.05 533.04 459.52 533.6 460 533.97 460.33 534.34 460.67 534.73 461.05 535.13 461.44 535.54 461.85 535.96 462.28 536.38 462.72 536.81 463.18 537.25 463.66 537.7 464.14 538.15 464.64 538.61 465.15 539.07 465.66 539.54 466.18 540.01 466.71 540.48 467.24 540.96 467.78 541.43 468.31 541.91 468.84 542.39 469.37 542.86 469.9 543.34 470.43 543.81 470.94 544.28 471.45 544.75 471.95 545.21 472.44 545.67 472.92 546.13 473.39 546.58 473.84 547.02 474.28 547.46 474.69 547.88 475.09 548.3 475.47 548.72 475.83 549.12 476.16 549.51 476.47 549.89 476.75 550.26 477.01 550.62 477.24 550.97 477.43 551.3 477.6 552.02 477.87 552.68 478.01 553.29 478.06 553.88 478.03 554.47 477.98 555.09 477.94 555.76 477.93 556.5 478 556.98 478.07 557.48 478.16 558 478.25 558.53 478.36 559.09 478.47 559.66 478.59 560.24 478.72 560.84 478.85 561.45 478.99 562.06 479.13 562.68 479.27 563.31 479.42 563.94 479.57 564.57 479.71 565.2 479.86 565.83 480.01 566.46 480.16 567.08 480.3 567.7 480.44 568.3 480.57 568.9 480.7 569.5 480.84 570.11 480.99 570.73 481.16 571.35 481.34 571.98 481.54 572.62 481.73 573.25 481.93 573.89 482.13 574.52 482.33 575.15 482.52 575.78 482.7 576.4 482.87 577.01 483.02 577.61 483.15 578.2 483.27 578.78 483.35 579.34 483.41 579.88 483.44 580.41 483.43 580.92 483.39 581.4 483.3 582.02 483.12 582.58 482.86 583.11 482.55 583.6 482.19 584.08 481.79 584.54 481.35 585 480.89 585.46 480.42 585.95 479.95 586.46 479.48 587 479.03 587.6 478.6 588.03 478.32 588.48 478.03 588.94 477.74 589.41 477.45 589.9 477.16 590.4 476.87 590.91 476.57 591.42 476.27 591.95 475.97 592.48 475.67 593.02 475.37 593.56 475.06 594.11 474.76 594.66 474.45 595.21 474.15 595.77 473.84 596.32 473.54 596.87 473.23 597.42 472.92 597.97 472.62 598.51 472.31 599.05 472.01 599.58 471.7 600.1 471.4 600.65 471.09 601.2 470.78 601.76 470.48 602.33 470.18 602.9 469.88 603.48 469.59 604.06 469.3 604.64 469 605.22 468.71 605.8 468.42 606.37 468.12 606.94 467.82 607.5 467.52 608.06 467.21 608.6 466.9 609.14 466.58 609.67 466.25 610.18 465.92 610.68 465.57 611.16 465.22 611.62 464.86 612.07 464.49 612.5 464.1 612.95 463.65 613.37 463.19 613.77 462.71 614.13 462.22 614.48 461.73 614.81 461.22 615.12 460.71 615.42 460.18 615.72 459.66 616.02 459.12 616.32 458.58 616.62 458.04 616.94 457.5 617.27 456.96 617.62 456.42 617.98 455.87 618.38 455.34 618.8 454.8 619.15 454.38 619.51 453.97 619.87 453.55 620.25 453.13 620.64 452.71 621.04 452.29 621.45 451.86 621.86 451.44 622.28 451.01 622.71 450.59 623.14 450.16 623.58 449.73 624.03 449.3 624.47 448.87 624.92 448.44 625.37 448 625.83 447.57 626.28 447.13 626.74 446.7 627.2 446.26 627.65 445.83 628.11 445.39 628.56 444.95 629.01 444.51 629.46 444.07 629.9 443.63 630.34 443.19 630.77 442.74 631.2 442.3 631.62 441.86 632.05 441.42 632.49 440.98 632.93 440.53 633.37 440.09 633.82 439.64 634.27 439.19 634.72 438.74 635.17 438.29 635.63 437.84 636.08 437.38 636.53 436.93 636.98 436.48 637.43 436.02 637.88 435.57 638.32 435.11 638.75 434.66 639.19 434.2 639.61 433.75 640.03 433.29 640.44 432.84 640.85 432.39 641.24 431.93 641.63 431.48 642 431.03 642.37 430.58 642.72 430.13 643.06 429.69 643.39 429.24 643.7 428.8 644.07 428.25 644.41 427.7 644.72 427.16 645 426.63 645.27 426.09 645.52 425.56 645.76 425.03 645.99 424.5 646.21 423.97 646.43 423.44 646.65 422.9 646.88 422.36 647.12 421.82 647.36 421.27 647.63 420.71 647.91 420.15 648.21 419.58 648.54 418.99 648.9 418.4 649.18 417.95 649.49 417.49 649.81 417 650.15 416.5 650.5 415.98 650.87 415.45 651.25 414.91 651.64 414.36 652.05 413.79 652.46 413.23 652.88 412.65 653.31 412.07 653.75 411.49 654.19 410.9 654.63 410.32 655.07 409.74 655.52 409.16 655.96 408.58 656.4 408.02 656.84 407.46 657.28 406.9 657.71 406.36 658.13 405.84 658.54 405.32 658.95 404.83 659.34 404.34 659.72 403.88 660.09 403.44 660.44 403.02 660.78 402.62 661.1 402.25 661.4 401.9 661.68 401.58 661.94 401.29 662.18 401.03 662.4 400.8 663.02 400.24 663.5 399.91 664.1 399.4 664.37 399.13 664.68 398.82 665.03 398.46 665.4 398.08 665.8 397.66 666.23 397.21 666.67 396.74 667.13 396.24 667.6 395.73 668.07 395.2 668.55 394.66 669.03 394.12 669.51 393.57 669.98 393.02 670.43 392.47 670.88 391.93 671.3 391.39 671.7 390.87 672.07 389.74 672.42 390.38 672.73 388.85 673 389.78 673.37 388.52 673.67 387.02 673.92 385.95 674.13 386.48 674.33 384.19 674.51 383.92 674.71 384.19 674.94 384.53 675.2 383.77 675.74 383.32 676.31 385.62 677 384.29 677.26 383.78 677.54 384.25 677.85 384.48 678.18 383.3 678.53 383.26 678.9 383.36 679.28 383.44 679.68 381.93 680.08 382 680.5 382.74 680.92 382.41 681.34 381.06 681.77 380.55 682.19 379.69 682.62 378.01 683.03 377.14 683.44 376.48 683.84 378.01 684.22 376.9 684.6 376.94 684.95 374.11 685.29 375.04 685.6 374.16 685.92 374.21 686.22 372.65 686.52 373.7 686.8 370.88 687.08 371.4 687.35 371.23 687.62 370.99 687.87 369.97 688.12 369.26 688.36 368.84 688.6 368.51 688.83 366.54 689.06 366.74 689.29 366.67 689.51 366.03 689.73 364.4 689.94 364.77 690.16 363.58 690.37 363.12 690.59 362.69 690.8 362.3 691.17 361.69 691.5 361.2 691.81 360.77 692.15 360.36 692.53 359.89 693 359.3 693.25 358.98 693.52 358.63 693.82 358.27 694.13 357.88 694.45 357.47 694.8 357.05 695.16 356.61 695.53 356.15 695.91 355.68 696.31 355.2 696.71 354.71 697.12 354.21 697.54 353.7 697.97 353.19 698.39 352.67 698.83 352.16 699.26 351.63 699.69 351.11 700.13 350.6 700.56 350.08 700.98 349.57 701.41 349.07 701.82 348.57 702.23 348.09 702.63 347.61 703.02 347.15 703.4 346.7 703.82 346.21 704.25 345.72 704.69 345.23 705.13 344.74 705.57 344.25 706.02 343.77 706.47 343.29 706.91 342.81 707.36 342.34 707.8 341.86 708.23 341.39 708.66 340.93 709.08 340.46 709.5 340 709.9 339.54 710.29 339.08 710.67 338.63 711.03 338.17 711.37 337.73 711.7 337.28 712.01 336.84 712.3 336.4 712.65 335.81 712.95 335.23 713.22 334.64 713.46 334.06 713.68 333.49 713.89 332.92 714.09 332.36 714.29 331.81 714.51 331.26 714.74 330.73 715 330.21 715.3 329.7 715.65 329.14 716.04 328.54 716.45 327.92 716.88 327.29 717.32 326.68 717.77 326.11 718.2 325.59 718.62 325.15 719.01 324.81 719.38 324.59 719.7 324.5 720.2 324.89 720.63 325.63 721.2 326 721.37 325.97 721.55 325.9 721.75 325.79 721.97 325.65 722.2 325.48 722.45 325.28 722.71 325.04 722.98 324.77 723.27 324.47 723.57 324.15 723.88 323.8 724.2 323.42 724.53 323.02 724.87 322.6 725.23 322.15 725.59 321.68 725.95 321.2 726.33 320.69 726.71 320.17 727.1 319.63 727.5 319.07 727.9 318.5 728.3 317.92 728.71 317.32 729.13 316.72 729.54 316.1 729.96 315.48 730.38 314.84 730.8 314.21 731.23 313.56 731.65 312.92 732.07 312.27 732.49 311.62 732.91 310.97 733.33 310.31 733.74 309.67 734.15 309.02 734.56 308.38 734.96 307.74 735.36 307.11 735.75 306.48 736.14 305.87 736.52 305.26 736.89 304.67 737.25 304.09 737.6 303.52 737.95 302.96 738.29 302.43 738.61 301.9 738.93 301.4 739.23 300.91 739.52 300.45 739.8 300 740.16 299.4 740.52 298.78 740.87 298.15 741.21 297.5 741.55 296.85 741.88 296.18 742.2 295.51 742.51 294.83 742.82 294.15 743.13 293.48 743.43 292.81 743.72 292.15 744.01 291.5 744.29 290.86 744.57 290.23 744.85 289.63 745.12 289.04 745.39 288.48 745.66 287.94 745.92 287.44 746.18 286.96 746.44 286.52 746.69 286.11 746.95 285.75 747.2 285.42 747.45 285.14 747.7 284.91 747.95 284.73 748.2 284.6 748.88 284.62 749.51 285.01 750.17 285.4 750.9 285.4 751.1 285.3 751.31 285.17 751.53 285.01 751.76 284.81 752 284.58 752.25 284.32 752.51 284.04 752.77 283.72 753.05 283.38 753.33 283.01 753.62 282.61 753.92 282.19 754.22 281.75 754.53 281.29 754.84 280.8 755.16 280.29 755.48 279.77 755.81 279.23 756.14 278.67 756.48 278.09 756.82 277.5 757.16 276.9 757.51 276.28 757.86 275.65 758.21 275.01 758.56 274.36 758.91 273.71 759.26 273.04 759.61 272.37 759.97 271.69 760.32 271.01 760.67 270.32 761.02 269.64 761.37 268.95 761.71 268.26 762.06 267.57 762.4 266.88 762.73 266.2 763.07 265.52 763.4 264.84 763.72 264.17 764.04 263.51 764.36 262.86 764.67 262.21 764.97 261.58 765.27 260.95 765.56 260.34 765.84 259.74 766.12 259.16 766.39 258.59 766.65 258.03 766.9 257.5 767.14 256.98 767.37 256.48 767.59 256 767.81 255.54 768.01 255.11 768.2 254.7 768.51 254.03 768.8 253.38 769.06 252.77 769.31 252.19 769.54 251.62 769.76 251.08 769.96 250.54 770.16 250.03 770.34 249.51 770.52 249 770.7 248.5 770.87 247.99 771.05 247.47 771.22 246.94 771.4 246.39 771.59 245.83 771.78 245.25 771.98 244.64 772.2 244 772.38 243.48 772.56 242.92 772.76 242.33 772.96 241.69 773.18 241.03 773.4 240.34 773.63 239.62 773.86 238.88 774.1 238.13 774.34 237.36 774.58 236.58 774.82 235.8 775.06 235.01 775.31 234.22 775.55 233.44 775.78 232.66 776.02 231.9 776.25 231.15 776.47 230.41 776.69 229.7 776.89 229.02 777.09 228.36 777.28 227.73 777.46 227.15 777.62 226.6 777.77 226.09 777.91 225.63 778.04 225.22 778.14 224.86 778.23 224.56 778.3 224.32 778.36 224.14 778.39 224.04 778.4 224"/>
<path d="M509 402.5V398.5M540.3 419.8V411.2M572.4 414.2V407M602.2 397.5V390.4M626.8 386.4V380M657.5 380.4V374.1M673.4 370.5V364.2M449.7 354V349.6M495.5 417.6V410.8M525.8 453.9V442.3M556.9 478.1V464.1M581.8 483.4V486M587.6 478.6V463.1M618.8 454.8V441.3M648.9 418.4V413.2M675.6 383.5V380.2" stroke-linecap="butt" stroke-width="2"/>
</g>
<g font-family='"Liberation Sans", Arial, Helvetica, sans-serif' fill="#000">
<text x="50.6" y="28.4" font-size="38">(a)</text>
<text transform="translate(64.6 173) scale(1 1.035)" font-size="38" text-anchor="start">10</text>
<text transform="translate(106.8 158.2) scale(1 1.035)" font-size="26" text-anchor="start">-6</text>
<text transform="translate(64.6 378) scale(1 1.035)" font-size="38" text-anchor="start">10</text>
<text transform="translate(106.8 363.2) scale(1 1.035)" font-size="26" text-anchor="start">-7</text>
<text transform="translate(64.6 583.8) scale(1 1.035)" font-size="38" text-anchor="start">10</text>
<text transform="translate(106.8 569) scale(1 1.035)" font-size="26" text-anchor="start">-8</text>
<text transform="translate(164.2 611.2) scale(1 1.035)" font-size="38" text-anchor="middle">-0.8</text>
<text transform="translate(258.69 611.2) scale(1 1.035)" font-size="38" text-anchor="middle">-0.6</text>
<text transform="translate(353.18 611.2) scale(1 1.035)" font-size="38" text-anchor="middle">-0.4</text>
<text transform="translate(447.67 611.2) scale(1 1.035)" font-size="38" text-anchor="middle">-0.2</text>
<text transform="translate(542.16 611.2) scale(1 1.035)" font-size="38" text-anchor="middle">0.0</text>
<text transform="translate(636.65 611.2) scale(1 1.035)" font-size="38" text-anchor="middle">0.2</text>
<text transform="translate(731.14 611.2) scale(1 1.035)" font-size="38" text-anchor="middle">0.4</text>
<text transform="translate(406.2 662) scale(1 1.035)" font-size="38">V<tspan font-size="25" dy="10.6">GS</tspan><tspan dy="-10.6"> [V]</tspan></text>
<text transform="translate(24.9 338.4) rotate(-90) scale(1 1.045)" font-size="34">I<tspan dy="9.6">DS</tspan><tspan dy="-9.6"> [A]</tspan></text>
<text transform="translate(597.8 539) scale(1 1.03)" font-size="32">V<tspan font-size="21" dy="8.6">DS</tspan></text>
<text transform="translate(657.9 539) scale(1 1.03)" font-size="32">= - 0.5 V</text>
</g>
<path d="M1002.9 121.17 1003.4 122.57 1003.9 122.38 1004.4 121.34 1004.9 121.79 1005.4 121.68 1005.9 122.05 1006.4 122.3 1006.9 120.89 1007.4 120.73 1007.9 122.32 1008.4 121.49 1008.9 122.13 1009.4 120.58 1009.9 121.44 1010.4 121.97 1010.9 120.96 1011.4 122.37 1011.9 122.26 1012.4 120.49 1012.9 120.46 1013.4 121.46 1013.9 122.23 1014.4 121.09 1014.9 120.74 1015.4 121.14 1015.9 120.34 1016.4 120.71 1016.9 121.13 1017.4 121.24 1017.9 120.7 1018.4 120.68 1018.9 120.65 1019.4 121.12 1019.9 120.77 1020.4 120.22 1020.9 121.84 1021.4 121.27 1021.9 121.43 1022.4 120.5 1022.9 122.1 1023.4 121.83 1023.9 120.34 1024.4 120.75 1024.9 121.51 1025.4 121.48 1025.9 121.92 1026.4 120.88 1026.9 121.69 1027.4 121.35 1027.9 120.61 1028.4 121.1 1028.9 121.6 1029.1 121.49 1029.15 113.12 1029.4 80.33 1029.5 66.03 1029.9 57.16 1030.1 53.62 1030.4 50.75 1030.9 46.77 1031 46.82 1031.4 46.07 1031.9 44.7 1032.1 43.58 1032.4 43.54 1032.9 43.42 1033.2 43.8 1033.4 43.35 1033.9 43.28 1034.4 43.65 1034.6 42.81 1034.9 43.21 1035.4 45.16 1035.9 46.34 1036.2 45.94 1036.4 46.05 1036.9 46.88 1037.4 48.83 1037.6 50.3 1037.9 50.83 1038.4 51.95 1038.9 54.18 1039.2 53.88 1039.4 55.68 1039.9 59.67 1040.4 62.02 1040.9 67.07 1041.4 71.97 1041.9 82.04 1042.2 88.56 1042.4 89.69 1042.9 98.83 1043.4 103.04 1043.9 107.3 1044.4 108.84 1044.9 110.8 1045.1 110.95 1045.4 111.56 1045.9 112.15 1046.4 112.28 1046.9 114.77 1047.1 114.52 1047.4 114.19 1047.9 115.47 1048.4 116.11 1048.9 116.52 1049.1 116.79 1049.4 117.19 1049.9 117.37 1050.4 117.36 1050.9 117.06 1051.4 116.21 1051.9 116.62 1052.4 116.53 1052.9 117.36 1053.4 117.92 1053.9 117.81 1054.4 117.81 1054.9 117.86 1055.4 116.75 1055.9 117.94 1056.4 117.61 1056.9 116.44 1057.4 116.32 1057.9 116.33 1058.4 117.82 1058.9 116.82 1059.4 116.55 1059.9 117.59 1060.4 117.04 1060.9 116.5 1061.4 116.69 1061.9 117.44 1062.4 116.73 1062.9 116.95 1063.4 117.84 1063.9 117.34 1064.4 117.09 1064.9 117.4 1065.4 116.51 1065.9 117.25 1066.4 117.33 1066.9 116.87 1067.4 116.81 1067.9 118.5 1068.4 117.84 1068.9 117.35 1069.4 118.25 1069.9 118.79 1070.4 117.31 1070.9 117.41 1071.4 117.78 1071.9 119.04 1072.4 118.04 1072.9 119.24 1073.4 119.3 1073.9 119.14 1074.4 118.61 1074.9 120.23 1075.4 119.99 1075.9 119.54 1076.4 119.06 1076.9 120.02 1077.4 119.63 1077.9 120.1 1078.4 119.71 1078.9 120.44 1079.4 119.36 1079.9 119.9 1080.4 121.3 1080.9 121.17 1081.4 120.09 1081.9 121.25 1082.4 120.21 1082.9 121.53 1083.4 121.2 1083.9 120.6 1084.4 120.33 1084.9 119.9 1085.4 121.7 1085.9 120.07 1086.4 121.69 1086.9 122.04 1087.4 121.31 1087.9 120.57 1088.4 122.02 1088.9 122.29 1089.4 121.81 1089.9 121.48 1090.4 121.27 1090.9 121.27 1091.4 121.04 1091.9 122.04 1092.4 121.49 1092.9 120.92 1093.4 120.64 1093.9 121.67 1093.95 113.39 1094.3 68.53 1094.4 65.9 1094.9 55.59 1095.4 52.21 1095.8 47.69 1095.9 47.8 1096.4 46.76 1096.9 46.78 1097.4 46.11 1097.9 44.95 1098 44.65 1098.4 45.71 1098.9 46.21 1099.4 46.57 1099.9 46.01 1100.4 47.7 1100.9 47.92 1101 47.63 1101.4 49.64 1101.9 49.38 1102.4 51.62 1102.9 51.89 1103.4 53.61 1103.9 56.65 1104 55.56 1104.4 59.09 1104.9 61.82 1105.2 64.12 1105.4 65.25 1105.9 70.37 1106.2 73.38 1106.4 78.26 1106.9 87.06 1107 89.62 1107.4 95.44 1107.7 98.4 1107.9 100.85 1108.4 104.01 1108.7 106.3 1108.9 107.09 1109.4 110.46 1109.9 112.09 1110.4 113.02 1110.9 112.89 1111.4 114.29 1111.9 115.47 1112.4 115.37 1112.9 116.47 1113.4 116.5 1113.9 116.94 1114.4 117.27 1114.9 118.49 1115.4 117.8 1115.9 118.49 1116.4 117.52 1116.9 117.13 1117.4 118.11 1117.9 118.16 1118.4 116.5 1118.9 117.78 1119.4 116.59 1119.9 116.6 1120.4 118.11 1120.9 116.39 1121.4 116.75 1121.9 118.22 1122.4 117.05 1122.9 116.4 1123.4 116.47 1123.9 116.59 1124.4 117.56 1124.9 116.25 1125.4 117.83 1125.9 116.73 1126.4 117.88 1126.9 117.73 1127.4 116.46 1127.9 116.35 1128.4 116.76 1128.9 115.97 1129.4 117.04 1129.9 115.79 1130.4 115.69 1130.9 117.6 1131.4 116.19 1131.9 116.76 1132.4 116.43 1132.9 116.12 1133.4 115.59 1133.9 117.25 1134.4 117.33 1134.9 117.3 1135.4 115.54 1135.9 115.72 1136.4 116.49 1136.9 117.18 1137.4 116.27 1137.9 116.52 1138.4 116.44 1138.9 115.6 1139.4 116.13 1139.9 115.62 1140.4 115.46 1140.9 115.1 1141.4 115.46 1141.9 116.83 1142.4 115.73 1142.9 116.1 1143.4 116.05 1143.9 116.61 1144.4 115.47 1144.9 115.27 1145.4 115.28 1145.9 115.22 1146.4 116.25 1146.9 116.3 1147.4 115.09 1147.9 115.12 1148.4 115.5 1148.9 115.53 1149.4 115.53 1149.9 114.8 1150.4 114.35 1150.9 114.81 1151.4 114.48 1151.9 115.46 1152.4 114.51 1152.9 114.53 1153.4 115.67 1153.9 114.99 1154.4 116.01 1154.9 115.43 1155.4 116.18 1155.9 114.78 1156.4 115.49 1156.9 116.09 1157.4 114.75 1157.9 116.61 1158.4 115.17 1158.45 108.97 1158.8 64.93 1158.9 62.4 1159.4 50.38 1159.9 46.77 1160.3 45.04 1160.4 45.64 1160.9 43.32 1161.4 43.45 1161.9 41.9 1162.4 43.38 1162.5 41.61 1162.9 42.49 1163.4 44.04 1163.9 44.22 1164.4 45.24 1164.9 45.92 1165.4 46.54 1165.5 46.59 1165.9 46.72 1166.4 48.67 1166.9 49.57 1167.4 52.42 1167.9 54.07 1168.4 54.97 1168.5 54.95 1168.9 59.31 1169.4 62.21 1169.7 63.62 1169.9 65.73 1170.4 71.66 1170.7 74.05 1170.9 77.69 1171.4 86.97 1171.5 88.69 1171.9 94.25 1172.2 100.02 1172.4 101.24 1172.9 105.74 1173.2 107.25 1173.4 108.62 1173.9 110.16 1174.4 112.1 1174.9 113.42 1175.4 115.6 1175.9 115.78 1176.4 116.83 1176.9 118.11 1177.4 118.21 1177.9 118.62 1178.4 120.52 1178.9 120.58 1179.4 121.02 1179.9 120.76 1180.4 121.41 1180.9 121.66 1181.4 120.83 1181.9 121.5 1182.4 121.62 1182.9 121.27 1183.4 121.8 1183.9 122.25 1184.4 123.1 1184.9 123.28 1185.4 122.15 1185.9 123.05 1186.4 122.01 1186.9 122.21 1187.4 123.05 1187.9 123.69 1188.4 122.16 1188.9 123.28 1189.4 123.42 1189.9 122.19 1190.4 122.86 1190.9 123.08 1191.4 122.03 1191.9 122.6 1192.4 122.58 1192.9 122.2 1193.4 122.63 1193.9 122.62 1194.4 122.65 1194.9 121.78 1195.4 120.9 1195.9 120.96 1196.4 120.8 1196.9 121.41 1197.4 121.7 1197.9 120.19 1198.4 121.36 1198.9 121.34 1199.4 120.51 1199.9 120.75 1200.4 119.98 1200.9 121.05 1201.4 119.61 1201.9 121.43 1202.4 121.02 1202.9 120.6 1203.4 119.81 1203.9 121.04 1204.4 121.07 1204.9 119.37 1205.4 120.58 1205.9 120.65 1206.4 120.23 1206.9 120.25 1207.4 119.67 1207.9 120.57 1208.4 120.6 1208.9 119.36 1209.4 120.14 1209.9 119.34 1210.4 118.74 1210.9 119 1211.4 118.54 1211.9 120.04 1212.4 120.08 1212.9 118.34 1213.4 119.24 1213.9 118.8 1214.4 118.15 1214.9 118.45 1215.4 118.29 1215.9 119.23 1216.4 117.68 1216.9 117.99 1217.4 118.42 1217.9 117.53 1218.4 118.68 1218.9 118.57 1219.4 118.97 1219.9 117.65 1220.4 117.74 1220.9 118.2 1221.4 117.68 1221.9 118.35 1222.4 117.72 1222.6 118.61 1222.65 111.2 1222.9 78.59 1223 65.85 1223.4 55.88 1223.6 51.22 1223.9 49.94 1224.4 46.42 1224.5 45.36 1224.9 44.05 1225.4 42.68 1225.6 41.86 1225.9 43.18 1226.4 41.67 1226.7 42.85 1226.9 42.58 1227.4 43.73 1227.9 43.64 1228.1 44.19 1228.4 42.97 1228.9 44.46 1229.4 45.36 1229.7 45.29 1229.9 46.24 1230.4 47.35 1230.9 49.1 1231.1 48.61 1231.4 50.52 1231.9 52.24 1232.4 53.66 1232.7 54.88 1232.9 56.94 1233.4 59.96 1233.9 62.8 1234.4 68.49 1234.9 73.33 1235.4 82.55 1235.7 87.9 1235.9 91.51 1236.4 99.82 1236.9 104.63 1237.4 108.76 1237.9 110.07 1238.4 112.97 1238.6 112.7 1238.9 114.05 1239.4 114.19 1239.9 115.86 1240.4 117.34 1240.6 116.38 1240.9 116.59 1241.4 118.3 1241.9 118.92 1242.4 119.39 1242.6 119 1242.9 119.79 1243.4 119.91 1243.9 119.91 1244.4 120.87 1244.9 120.36 1245.4 120.71 1245.9 121.09 1246.4 120.84 1246.9 120.38 1247.4 120.93 1247.9 120.77 1248.4 120.84 1248.9 120.85 1249.4 120.45 1249.9 120.95 1250.4 121.01 1250.9 121.66 1251.4 121.4 1251.9 121.58 1252.4 121.47 1252.9 121.62 1253.4 121.25 1253.9 120.79 1254.4 120.67 1254.9 121.61 1255.4 121.99 1255.9 121.38 1256.4 120.64 1256.9 122.06 1257.4 121.41 1257.9 121.42 1258.4 120.63 1258.9 121.61 1259.4 122.13 1259.9 121.54 1260.4 121.35 1260.9 121.88 1261.4 120.54 1261.9 121.44 1262.4 122.25 1262.9 121.66 1263.4 121.01 1263.9 121.52 1264.4 121.28 1264.9 120.41 1265.4 120.34 1265.9 121.62 1266.4 120.32 1266.9 119.86 1267.4 121.3 1267.9 120.61 1268.4 120.23 1268.9 120.44 1269.4 120.82 1269.9 119.61 1270.4 120.51 1270.9 120.56 1271.4 120.69 1271.9 119.53 1272.4 120.13 1272.9 119.31 1273.4 119.89 1273.9 119.04 1274.4 120.21 1274.9 120.29 1275.4 119.14 1275.9 118.86 1276.4 120.27 1276.9 119.68 1277.4 119.88 1277.9 118.18 1278.4 119.85 1278.9 119.22 1279.4 118.54 1279.9 118.7 1280.4 119.29 1280.9 119.26 1281.4 118 1281.9 118.8 1282.4 117.81 1282.9 119.35 1283.4 118.22 1283.9 119.08 1284.4 118.64 1284.9 118.33 1285.4 117.7 1285.9 118.32 1286.4 117.63 1286.7 117.68 1286.75 111.25 1286.9 91.02 1287.1 65.78 1287.4 57.97 1287.7 52.14 1287.9 50.82 1288.4 46.71 1288.6 45 1288.9 44.91 1289.4 43.98 1289.7 42.52 1289.9 42.66 1290.4 42.32 1290.8 43.34 1290.9 43.99 1291.4 43.01 1291.9 43.01 1292.2 44.56 1292.4 45.11 1292.9 46.21 1293.4 46.31 1293.8 46.41 1293.9 47.69 1294.4 47.7 1294.9 50.3 1295.2 49.97 1295.4 51.28 1295.9 53.22 1296.4 54.74 1296.8 55.73 1296.9 56.5 1297.4 60.94 1297.9 63.48 1298 64.37 1298.4 67.96 1298.9 74.38 1299 74.69 1299.4 82.89 1299.8 91.19 1299.9 92.9 1300.4 98.7 1300.5 101.74 1300.9 105.27 1301.4 108.47 1301.5 109.45 1301.9 111.44 1302.4 114.11 1302.7 114.26 1302.9 115.64 1303.4 116.44 1303.9 116.26 1304.4 118.83 1304.7 117.65 1304.9 118.26 1305.4 120.14 1305.9 119.78 1306.4 121.17 1306.7 121.1 1306.9 121.74 1307.4 122.45 1307.9 122.54 1308.4 120.75 1308.9 120.76 1309.4 122.27 1309.9 120.63 1310.4 121.04 1310.9 120.69 1311.4 120.59 1311.9 120.41 1312.4 121.59 1312.9 121.76 1313.4 121.6 1313.9 121.87 1314.4 121.46 1314.9 120.86 1315.4 121.3 1315.9 121.93 1316.4 121.23 1316.9 120.39 1317.4 119.98 1317.9 121.68 1318.4 120.94 1318.9 120.42 1319.4 120.88 1319.9 120.75 1320.4 120.62 1320.9 119.66 1321.4 120.19 1321.9 120.27 1322.4 119.8 1322.9 121.11 1323.4 120.15 1323.9 120.58 1324.4 120.64 1324.9 120.65 1325.4 120.56 1325.9 120.58 1326.4 119.53 1326.9 120.94 1327.4 119.24 1327.9 120.73 1328.4 120.56 1328.9 120.51 1329.4 118.86 1329.9 118.89 1330.4 120.29 1330.9 119.56 1331.4 119.31 1331.9 120.5 1332.4 118.56 1332.9 119.5 1333.4 119.28 1333.9 118.6 1334.4 119.09 1334.9 119.67 1335.4 119.97 1335.9 118.21 1336.4 119.16 1336.9 118.25 1337.4 119.62 1337.9 118.15 1338.4 118 1338.9 118.65 1339.4 119.31 1339.9 118.42 1340.4 118.01 1340.9 119.29 1341.4 119.27 1341.9 119.32 1342.4 118.17 1342.9 118.37 1343.4 117.97 1343.9 118.54 1344.4 118.04 1344.9 118.02 1345.4 118.86 1345.9 119.16 1346.4 118.37 1346.9 117.36 1347.4 118.41 1347.9 118.05 1348.4 119.2 1348.9 118.73 1348.95 111.33 1349.3 65.34 1349.4 62.74 1349.9 52.08 1350.4 48.63 1350.8 44.89 1350.9 44.39 1351.4 43.67 1351.9 42.82 1352.4 41.87 1352.9 42.26 1353 42.7 1353.4 41.91 1353.9 43.79 1354.4 43.8 1354.9 43.91 1355.4 44.66 1355.9 45.55 1356 45.65 1356.4 47.64 1356.9 48.57 1357.4 50.05 1357.9 51.03 1358.4 54.3 1358.9 54.86 1359 55.21 1359.4 57.29 1359.9 62.35 1360.2 63.3 1360.4 66.33 1360.9 71.77 1361.2 75.09 1361.4 78.63 1361.9 88.45 1362 90.36 1362.4 96.28 1362.7 99.56 1362.9 102.04 1363.4 106.41 1363.7 109.8 1363.9 110.17 1364.4 111.99 1364.9 114.05 1365.4 114.3 1365.9 116.48 1366.4 116.9 1366.9 117.44 1367.4 118.39 1367.9 120.25 1368.4 120.19 1368.9 120.29 1369.4 120.32 1369.9 121.46 1370.4 121.24 1370.9 121.94 1371.4 120.51 1371.9 120.98 1372.4 121.63 1372.9 120.29 1373.4 120.4 1373.9 121.31 1374.4 120.76 1374.9 120.46 1375.4 120.79 1375.9 121.54 1376.4 121.34 1376.9 120.46 1377.4 120.47 1377.9 122.04 1378.4 121.64 1378.9 120.71 1379.4 122.11 1379.9 120.44 1380.4 121.15 1380.9 122.12 1381.4 121.86 1381.9 121.02 1382.4 122.25 1382.9 121.68 1383.4 122.23 1383.9 122.3 1384.4 121.38 1384.9 121.9 1385.4 121.65 1385.9 122.47 1386.4 122.19 1386.9 122.06 1387.4 122.25 1387.9 122.63 1388.4 121.17 1388.9 121.07 1389.4 122.18 1389.9 122.24 1390.4 121.71 1390.9 121.64 1391.4 121.46 1391.9 122.4 1392.4 122.21 1392.9 121.77 1393.4 120.66 1393.9 122.27 1394.4 121.46 1394.9 120.91 1395.4 121.11 1395.9 121.88 1396.4 120.49 1396.9 120.7 1397.4 121.05 1397.9 122.2 1398.4 121.9 1398.9 122.33 1399.4 121.46 1399.9 121.5 1400.4 121.44 1400.9 121.37 1401.4 121.39 1401.9 121.92 1402.4 122.18 1402.9 121.07 1403.4 121.49 1403.9 120.83 1404.4 120.8 1404.9 121.19 1405.4 121.34 1405.9 121.25 1406.4 122.08 1406.9 120.44 1407.4 121.37 1407.9 122.07 1408.4 121.53 1408.9 121.17 1409.4 120.76 1409.9 120.81 1410.4 121.86 1410.9 121.76 1411.4 121.3 1411.9 121.74 1412.4 121.77 1412.9 121.6 1413.4 120.69 1413.9 120.87 1414.1 121.54 1414.15 113.1 1414.4 81.32 1414.5 67.77 1414.9 58.38 1415.1 54.07 1415.4 51.38 1415.9 48.5 1416 47.95 1416.4 46.21 1416.9 45.33 1417.1 45.04 1417.4 46.14 1417.9 45.46 1418.2 44.76 1418.4 46.3 1418.9 45.11 1419.4 45.92 1419.6 46.49 1419.9 46.83 1420.4 47.05 1420.9 48.47 1421.2 48.33 1421.4 49.34 1421.9 50.27 1422.4 52.61 1422.6 52.65 1422.9 52.42 1423.4 54.18 1423.9 57.53 1424.2 57.07 1424.4 57.94 1424.9 61.58 1425.4 65.22 1425.9 71.5 1426.4 75.74 1426.9 85.9 1427.2 91.83 1427.4 93.39 1427.9 102.05 1428.4 107.02 1428.9 110.33 1429.4 112.22 1429.9 113.77 1430.1 115.73 1430.4 116.36 1430.9 115.6 1431.4 117.47 1431.9 118.18 1432.1 119.07 1432.4 118.44 1432.9 119.51 1433.4 120.32 1433.9 121.51 1434.1 122.45 1434.4 122.59 1434.9 122.47 1435.4 122.24 1435.9 121.04 1436.4 121.62 1436.9 122.16 1437.4 121.39 1437.9 121.8 1438.4 122.57 1438.9 120.98 1439.4 122.43 1439.9 120.92 1440.4 121.46 1440.9 122.47 1441.4 121.05 1441.9 121.67 1442.4 121.44 1442.9 122.36 1443.4 122.55 1443.9 121.12 1444.4 121.51 1444.9 122.29 1445.4 121.57 1445.9 120.89 1446.4 121.96 1446.9 121.1 1447.4 121.38 1447.9 120.4 1448.4 122.34 1448.9 121.66 1449.4 122.18 1449.9 122.24 1450.4 120.82 1450.9 121.35 1451.4 121.12 1451.9 121.74 1452.4 121.89 1452.9 120.64 1453.4 120.71 1453.9 121.56 1454.4 120.95 1454.9 120.36 1455.4 120.47 1455.9 121.19 1456.4 121.24 1456.9 121.94 1457.4 121.07 1457.9 121.2 1458.4 120.26 1458.9 120.77 1459.4 120.48 1459.9 121.29 1460.4 120.39 1460.9 120.23 1461.4 120.49 1461.9 120.64 1462.4 120.32 1462.9 120.8 1463.4 119.9 1463.9 121.25 1464.4 120.82 1464.9 120.45 1465.4 119.44 1465.9 119.93 1466.4 120.6 1466.9 120.46 1467.4 120.74 1467.9 120.85 1468.4 119.64 1468.9 119.95 1469.4 119.56 1469.9 119.11 1470.4 119.08 1470.9 119.26 1471.4 118.87 1471.9 119.72 1472.4 119.99 1472.9 119.66 1473.4 119.85 1473.9 118.88 1474.4 118.77 1474.9 119.46 1475.4 120.04 1475.9 119.06 1476.4 118.17 1476.9 118.15 1477.4 118.76 1477.9 119.43 1478.4 118.43 1478.6 118.73 1478.65 112.22 1478.9 81.02 1479 67.01 1479.4 58.66 1479.6 54.06 1479.9 51.13 1480.4 48.49 1480.5 47.46 1480.9 46.79 1481.4 46.7 1481.6 46.07 1481.9 44.73 1482.4 44.69 1482.7 45.91 1482.9 44.8 1483.4 45.55 1483.9 45.77 1484.1 45.46 1484.4 45.88 1484.9 46.85 1485.4 48.12 1485.7 49.64 1485.9 49.6 1486.4 50.19 1486.9 52.45 1487.1 52.19 1487.4 53.69 1487.9 54.98 1488.4 57.92 1488.7 57.73 1488.9 59.89 1489.4 62.72 1489.9 66.28 1490.4 71.06 1490.9 76.84 1491.4 85.25 1491.7 91.41 1491.9 94.28 1492.4 101.58 1492.9 105.8 1493.4 109.88 1493.9 111.51 1494.4 114.44 1494.6 114.67 1494.9 115.09 1495.4 115.09 1495.9 116.98 1496.4 117.3 1496.6 117.77 1496.9 118.69 1497.4 119.72 1497.9 119.92 1498.4 120.76 1498.6 121.6 1498.9 121.52 1499.4 121.44 1499.9 120.9 1500.4 121.43 1500.9 121.97 1501.4 121.73 1501.9 121.71 1502.4 122.29 1502.9 122.03 1503.4 121.93 1503.9 120.6 1504.4 121.14 1504.9 121.87 1505.4 120.8 1505.9 122.29 1506.4 120.73 1506.9 122.18 1507.4 120.84 1507.9 122.07 1508.4 122.06 1508.9 121.01 1509.4 122.1 1509.9 120.62 1510.4 121.98 1510.9 121.03 1511.4 121.12 1511.9 120.46 1512.4 121.41 1512.9 120.72 1513.4 121.5 1513.9 121.74 1514.4 121.33 1514.9 120.12 1515.4 121.99 1515.9 121.9 1516.4 121.33 1516.9 120.78 1517.4 121.13 1517.9 121.75 1518.4 120.88 1518.9 121.5 1519.4 121.12 1519.9 120.75 1520.4 121.75 1520.9 120.67 1521.4 121.04 1521.9 119.9 1522.4 120.71 1522.9 119.82 1523.4 121.12 1523.9 119.69 1524.4 119.74 1524.9 119.85 1525.4 119.88 1525.9 120.59 1526.4 120.26 1526.9 120.07 1527.4 121.46 1527.9 121.29 1528.4 120.75 1528.9 121.02 1529.4 121.03 1529.9 119.85 1530.4 120.95 1530.9 119.79 1531.4 120.4 1531.9 119.97 1532.4 119.54 1532.9 120.75 1533.4 121 1533.9 119.77 1534.4 120.87 1534.9 119.78 1535.4 120.38 1535.9 121.02 1536.4 120.55 1536.9 119.09 1537.4 119.82 1537.9 119.68 1538.4 119.48 1538.9 120.5 1539.4 119.72 1539.9 120.21 1540.4 120.06 1540.9 119.8 1541.4 118.84 1541.9 120.05 1542.4 120.53 1542.9 119.14 1543.4 120.14 1543.45 112.35 1543.8 67.18 1543.9 65.69 1544.4 55.04 1544.9 49.86 1545.3 49 1545.4 47.74 1545.9 47.5 1546.4 45.05 1546.9 46.02 1547.4 44.67 1547.5 45.12 1547.9 46.64 1548.4 46.34 1548.9 46.92 1549.4 47.03 1549.9 47.8 1550.4 48.6 1550.5 49.31 1550.9 50.33 1551.4 50.66 1551.9 52.54 1552.4 54.44 1552.9 56.19 1553.4 58.59 1553.5 58.75 1553.9 59.91 1554.4 63.54 1554.7 64.91 1554.9 66.86 1555.4 72.25 1555.7 75.64 1555.9 80.57 1556.4 89.79 1556.5 91.93 1556.9 96.94 1557.2 101.2 1557.4 104.5 1557.9 108.38 1558.2 111.13 1558.4 110.04 1558.9 112.72 1559.4 115.12 1559.9 116.32 1560.4 117.66 1560.9 117.9 1561.4 118.6 1561.9 118.63 1562.4 121.03 1562.9 122.19 1563.4 122.84 1563.9 122.4 1564.4 121.82 1564.9 121.67 1565.4 122.73 1565.9 123.02 1566.4 123.05 1566.9 121.45 1567.4 122.25 1567.9 122.08 1568.4 121.88 1568.9 122.59 1569.4 122.84 1569.9 122.39 1570.4 122.32 1570.9 122.27 1571.4 122.17 1571.9 121.91 1572.4 121.31 1572.9 122.35 1573.4 121 1573.9 122.02 1574.4 121.49 1574.9 121.81 1575.4 121.94 1575.9 121.59 1576.4 122.56 1576.9 121.06 1577.4 120.58 1577.9 122.44 1578.4 121.13 1578.9 121.03 1579.4 121.28 1579.9 121.62 1580.4 122.37 1580.9 121.79 1581.4 120.98 1581.9 121.39 1582.4 121.19 1582.9 121.27 1583.4 121.08 1583.9 120.55 1584.4 120.98 1584.9 120.94 1585.4 120.54 1585.9 121.75 1586.4 120.81 1586.9 120.36 1587.4 121.17 1587.9 121.7 1588.4 121.54 1588.9 121.2 1589.4 121.39 1589.9 120.58 1590.4 120.13 1590.9 120.28 1591.4 120.4 1591.9 120.18 1592.4 120.49 1592.9 119.78 1593.4 119.67 1593.9 119.84 1594.4 119.65 1594.9 120.79 1595.4 120.19 1595.9 119.44 1596.4 119.83 1596.9 120.64 1597.4 119.98 1597.9 119.86 1598.4 119.46 1598.9 119 1599.4 119.78 1599.9 118.61 1600.4 119.96 1600.9 118.43 1601.4 119.73 1601.9 118.93 1602.4 119.46 1602.9 119.21 1603.4 118.21 1603.9 118.96 1604.4 117.95 1604.9 118.22 1605.4 118.42 1605.9 118.16 1606.4 118.84 1606.9 119.54 1607.4 118.36 1607.9 119.4 1608 118.19 1608.05 111.49 1608.4 64.78 1608.9 53.72 1609 50.54 1609.4 49.36 1609.9 44.79 1610.4 44.15 1610.9 42.67 1611 43.48 1611.4 42.96 1611.9 42.91 1612.1 43.16 1612.4 42.37 1612.9 42.33 1613.4 44.22 1613.5 43.26 1613.9 44.9 1614.4 45.98 1614.9 46.13 1615.1 45.39 1615.4 47.76 1615.9 48.77 1616.4 49.45 1616.5 49.66 1616.9 51.67 1617.4 52.65 1617.9 55.98 1618.1 56.28 1618.4 58.47 1618.9 60.88 1619.3 64.58 1619.4 64.09 1619.9 70.7 1620.3 74.14 1620.4 75.57 1620.9 85.48 1621.1 89.51 1621.4 95.28 1621.8 100.71 1621.9 101.78 1622.4 106.34 1622.8 109.09 1622.9 110.23 1623.4 112.3 1623.9 114.79 1624 114.35 1624.4 115.89 1624.9 117.15 1625.4 117.79 1625.9 118.14 1626 118.04 1626.4 118.37 1626.9 120.69 1627.4 120.13 1627.9 121.83 1628 121.79 1628.4 121.04 1628.9 121.46 1629.4 122.75 1629.9 122.26 1630.4 123.02 1630.9 122.96 1631.4 121.3 1631.9 122.43 1632.4 121.13 1632.9 121.86 1633.4 121.86 1633.9 122.86 1634.4 122.1 1634.9 121.26 1635.4 121.87 1635.9 121.86 1636.4 121.18 1636.9 121.47 1637.4 122.47 1637.9 122.65 1638.4 122.21 1638.9 120.75 1639.4 122.4 1639.9 121.47 1640.4 122.19 1640.9 120.85 1641.4 120.75 1641.9 122.24 1642.4 120.97 1642.9 120.45 1643.4 121.33 1643.9 122.28 1644.4 121.93 1644.9 121.02 1645.4 122.19 1645.9 121.76 1646.4 121.82 1646.9 121.39 1647.4 120.86 1647.9 121.85 1648.4 120.95 1648.9 121.84 1649.4 121.04 1649.9 121.73 1650.4 120.81 1650.9 120.65 1651.4 120.92 1651.9 120.32 1652.4 119.93 1652.9 120.75 1653.4 121.22 1653.9 120.02 1654.4 121.14 1654.9 120.93 1655.4 120.85 1655.9 120.07 1656.4 121.18 1656.9 120.71 1657.4 120.23 1657.9 119.25 1658.4 120.11 1658.9 118.94 1659.4 120.66 1659.9 119.47 1660.4 119.48 1660.9 119.79 1661.4 119.9 1661.9 119.74 1662.4 119.49 1662.9 119.73 1663.4 120.1 1663.9 119.24 1664.4 119.29 1664.9 119.86 1665.4 118.19 1665.9 118.45 1666.4 118.72 1666.9 118.44 1667.4 119.75 1667.9 118.2 1668.4 118.06 1668.9 118.42 1669.4 118.75 1669.9 119.32 1670.4 119.61 1670.9 119.27 1671.4 118.73 1671.9 117.64 1672.4 117.78 1672.9 119 1673.1 119.42 1673.15 110.74 1673.4 79.71 1673.5 65.9 1673.9 56.92 1674.1 52.5 1674.4 49.45 1674.9 46.36 1675 47.23 1675.4 45 1675.9 43.51 1676.1 43.46 1676.4 44.3 1676.9 43.28 1677.2 43.13 1677.4 43.4 1677.9 44.17 1678.4 45.04 1678.6 44.31 1678.9 45.93 1679.4 46.93 1679.9 47.42 1680.2 46.4 1680.4 47.46 1680.9 50.12 1681.4 51.43 1681.6 50.55 1681.9 52.21 1682.4 53.8 1682.9 56.31 1683.2 55.92 1683.4 57.79 1683.9 61.9 1684.4 65.42 1684.9 69.12 1685.4 75.6 1685.9 85.31 1686.2 91.47 1686.4 93.63 1686.9 102.39 1687.4 105.1 1687.9 109.19 1688.4 111.2 1688.9 114.09 1689.1 113.95 1689.4 114.86 1689.9 115.75 1690.4 116.51 1690.9 119.35 1691.1 118.51 1691.4 120.28 1691.9 120.64 1692.4 120.48 1692.9 122.74 1693.1 121.21 1693.4 123.15 1693.9 121.23 1694.4 121.65 1694.9 122.23 1695.4 121.12 1695.9 122.61 1696.4 121.23 1696.9 122.67 1697.4 121.09 1697.9 122.06 1698.4 121.4 1698.9 121.54 1699.4 121.92 1699.9 121.66 1700.4 121.68 1700.9 122.18 1701.4 121.25 1701.9 121.2 1702.4 122.18 1702.9 121.39 1703.4 122.64 1703.9 121.61 1704.4 121.68 1704.9 120.76 1705.4 120.73 1705.9 120.88 1706.4 121.9 1706.9 121.96 1707.4 122.52 1707.9 121.46 1708.4 121.99 1708.9 121.24 1709.4 120.68 1709.9 121.35 1710.4 121.89 1710.9 122.08 1711.4 122.35 1711.9 122.09 1712.4 121.53 1712.9 121.49 1713.4 121.37 1713.9 121.3 1714.4 121.69 1714.9 121.46 1715.4 122 1715.9 121.18 1716.4 121.2 1716.9 121.91 1717.4 121.58 1717.9 121.27 1718.4 121.33 1718.9 121.8 1719.4 121.39 1719.9 120.68 1720.4 120.77 1720.9 121.34 1721.4 120.21 1721.9 121.02 1722.4 121.88 1722.9 120.54 1723.4 120.95 1723.9 121.45 1724.4 121.89 1724.9 121.42 1725.4 121.26 1725.9 120.76 1726.4 120.86 1726.9 121.25 1727.4 120.67 1727.9 121.51 1728.4 119.94 1728.9 121.41 1729.4 121.38 1729.9 120.5 1730.4 119.9 1730.9 120.53 1731.4 121.02 1731.9 121.4 1732.4 121.56 1732.9 120.22 1733.4 119.95 1733.9 120.01 1734.4 121.74 1734.9 121.04 1735.4 119.99 1735.9 121.1 1736.4 121.62 1736.9 120.94 1737.4 120.22 1737.9 121.71 1737.95 114.07 1738.3 70.34 1738.4 69.38 1738.9 58.21 1739.4 55.21 1739.8 52.29 1739.9 51.93 1740.4 51.08 1740.9 50.18 1741.4 49.92 1741.9 50.6 1742 48.99 1742.4 49.46 1742.9 51.23 1743.4 50.85 1743.9 51.57 1744.4 52.29 1744.9 52.21 1745 52.65 1745.4 53.32 1745.9 54.51 1746.4 57.48 1746.9 58.58 1747.4 60.43 1747.9 60.27 1748 61.99 1748.4 63.59 1748.9 66.97 1749.2 69.12 1749.4 69.84 1749.9 75.53 1750.2 78.9 1750.4 83.11 1750.9 91.32 1751 92.71 1751.4 99 1751.7 103.25 1751.9 104.24 1752.4 108.7 1752.7 110.52 1752.9 110.72 1753.4 113.12 1753.9 114.49 1754.4 116.21 1754.9 117.15 1755.4 118.81 1755.9 119.48 1756.4 120.23 1756.9 121.45 1757.4 120.72 1757.9 121.66 1758.4 121.38 1758.9 121.13 1759.4 121.97 1759.9 121.97 1760.4 121.21 1760.9 122.81 1761.4 122.92 1761.9 121.11 1762.4 120.99 1762.9 121.11 1763.4 122.46 1763.9 122.71 1764.4 121.15 1764.9 121.04 1765.4 122.11 1765.9 121.7 1766.4 121.08 1766.9 121.07 1767.4 121.48 1767.9 121.47 1768.4 121.67 1768.9 122.18 1769.4 121.59 1769.9 121.57" stroke="#000" stroke-width="3" fill="none" stroke-linejoin="round"/>
<path d="M998.4 208.14 998.9 208.01 999.4 206.65 999.9 206.58 1000.4 207.52 1000.9 207.26 1001.4 207.06 1001.9 206.44 1002.4 206.74 1002.9 206.63 1003.4 206.48 1003.9 205.77 1004.4 206.04 1004.9 205.87 1005.4 206.45 1005.9 207.01 1006.4 207.12 1006.9 206.73 1007.4 206.77 1007.9 206.7 1008.4 206.55 1008.9 206.72 1009.4 207.51 1009.9 207.48 1010.4 207.74 1010.9 208.64 1011.4 208.3 1011.9 208.28 1012.4 207.69 1012.9 207.25 1013.4 207.54 1013.9 207.14 1014.4 207.53 1014.9 208.08 1015.4 207.49 1015.9 206.66 1016.4 207.53 1016.9 207.25 1017.4 207.03 1017.9 207.14 1018.4 206.8 1018.9 206.7 1019.4 205.96 1019.9 206.7 1020.4 206.68 1020.9 205.59 1021.4 206.46 1021.9 206.45 1022.4 206.13 1022.9 206.27 1023.4 206.25 1023.9 206.89 1024.4 206.34 1024.9 206.84 1025.4 206.21 1025.9 206.99 1026.4 207.05 1026.9 206.48 1027.1 206.65 1027.15 200.9 1027.4 173.83 1027.5 162.79 1027.9 154.95 1028.1 151.36 1028.4 150.25 1028.9 146.77 1029 147.26 1029.4 145.61 1029.9 145.56 1030.1 144.34 1030.4 145.19 1030.9 144.74 1031.2 144.41 1031.4 144.53 1031.9 144.99 1032.4 145.18 1032.6 144.9 1032.9 145.13 1033.4 146.2 1033.9 147.42 1034.2 147.37 1034.4 147.07 1034.9 149.28 1035.4 150.31 1035.6 151.03 1035.9 150.88 1036.4 153.07 1036.9 153.53 1037.2 155.21 1037.4 155.74 1037.9 158.33 1038.4 161.89 1038.9 165.24 1039.4 170.25 1039.9 178.59 1040.2 182.46 1040.4 184.93 1040.9 192.17 1041.4 195.02 1041.9 198.92 1042.4 199.58 1042.9 201.65 1043.1 202.03 1043.4 203.23 1043.9 203.23 1044.4 205.29 1044.9 204.82 1045.1 206.13 1045.4 205.55 1045.9 206.55 1046.4 208 1046.9 207.76 1047.1 208.07 1047.4 208.8 1047.9 208.42 1048.4 207.99 1048.9 209.36 1049.4 208.23 1049.9 208.11 1050.4 208.59 1050.9 209.01 1051.4 209.23 1051.9 208.4 1052.4 208.75 1052.9 208.27 1053.4 208.73 1053.9 209.05 1054.4 208.89 1054.9 209 1055.4 208.67 1055.9 208.7 1056.4 208.36 1056.9 207.91 1057.4 207.44 1057.9 207.93 1058.4 207.32 1058.9 206.9 1059.4 207.26 1059.9 207.74 1060.4 206.57 1060.9 207.09 1061.4 206.69 1061.9 206.74 1062.4 206.1 1062.9 207.12 1063.4 206.02 1063.9 206.38 1064.4 206 1064.9 205.31 1065.4 205.94 1065.9 205.24 1066.4 205 1066.9 204.84 1067.4 204.9 1067.9 204.76 1068.4 205.58 1068.9 205.47 1069.4 206.21 1069.9 206.21 1070.4 206.36 1070.9 205.36 1071.4 205.73 1071.9 205.52 1072.4 206.07 1072.9 206.18 1073.4 206.5 1073.9 206.44 1074.4 205.87 1074.9 206.17 1075.4 206.38 1075.9 205.72 1076.4 205.83 1076.9 206.42 1077.4 206.07 1077.9 207 1078.4 206.39 1078.9 206.26 1079.4 206.45 1079.9 206.58 1080.4 206.62 1080.9 207.08 1081.4 207.04 1081.9 206.87 1082.4 207.37 1082.9 206.81 1083.4 207.82 1083.9 207.94 1084.4 207.65 1084.9 207.27 1085.4 207.42 1085.9 207.56 1086.4 206.85 1086.9 207.41 1087.4 207.59 1087.9 207.15 1088.4 207.07 1088.9 208.1 1089.4 207.53 1089.9 207.78 1090.4 208.38 1090.9 207.95 1091.3 207.51 1091.35 202.24 1091.4 196.03 1091.7 163.45 1091.9 160.64 1092.3 152.33 1092.4 152.06 1092.9 150.04 1093.2 148.14 1093.4 146.82 1093.9 146.44 1094.3 145.59 1094.4 145.66 1094.9 145.13 1095.4 145.52 1095.9 145.03 1096.4 145.54 1096.8 145.85 1096.9 146.75 1097.4 146.13 1097.9 147.67 1098.4 147.47 1098.9 149.11 1099.4 149.97 1099.8 150.96 1099.9 151.64 1100.4 152.51 1100.9 153.49 1101.4 154.85 1101.9 157.4 1102.4 161.07 1102.6 161.82 1102.9 164.89 1103.4 168.88 1103.6 169.69 1103.9 175.26 1104.4 183.23 1104.9 189.39 1105.1 191.57 1105.4 193.44 1105.9 197.01 1106.1 198.86 1106.4 199.05 1106.9 200.97 1107.3 202.15 1107.4 202.98 1107.9 203.55 1108.4 204.5 1108.9 205.15 1109.3 205.02 1109.4 205.05 1109.9 206.04 1110.4 206.33 1110.9 207.18 1111.3 208.03 1111.4 208.36 1111.9 207.89 1112.4 208.2 1112.9 207.18 1113.4 207.54 1113.9 208.43 1114.4 207.23 1114.9 207.6 1115.4 207.1 1115.9 207.11 1116.4 208.24 1116.9 208.36 1117.4 207.87 1117.9 207.14 1118.4 207.36 1118.9 207.26 1119.4 207.87 1119.9 207.88 1120.4 207.53 1120.9 207.64 1121.4 207.05 1121.9 207.64 1122.4 208.21 1122.9 207.93 1123.4 206.99 1123.9 207.57 1124.4 207.84 1124.9 207.19 1125.4 208.08 1125.9 207.46 1126.4 207.79 1126.9 207.36 1127.4 208.18 1127.9 207.87 1128.4 207.57 1128.9 206.96 1129.4 207.37 1129.9 206.78 1130.4 207.57 1130.9 207.96 1131.4 206.97 1131.9 207.42 1132.4 207.37 1132.9 207.26 1133.4 207.67 1133.9 207.98 1134.4 207.65 1134.9 207.31 1135.4 207.99 1135.9 207.1 1136.4 207.67 1136.9 207.54 1137.4 207.67 1137.9 207.79 1138.4 206.9 1138.9 207.45 1139.4 207.14 1139.9 207.5 1140.4 207.92 1140.9 207.43 1141.4 206.55 1141.9 207.18 1142.4 207.51 1142.9 207.75 1143.4 207.41 1143.9 207.63 1144.4 206.51 1144.9 207.79 1145.4 207.48 1145.9 207.3 1146.4 207.71 1146.9 207.68 1147.4 206.57 1147.9 207.56 1148.4 207.48 1148.9 206.68 1149.4 207.43 1149.9 207.2 1150.4 206.64 1150.9 207.49 1151.4 206.55 1151.9 207.2 1152.4 206.95 1152.9 206.68 1153.4 207.11 1153.9 206.96 1154.4 206.59 1154.9 207.67 1155.4 206.45 1155.45 199.95 1155.8 162.21 1155.9 160.79 1156.4 150.96 1156.9 148.27 1157.3 145.63 1157.4 145.7 1157.9 144.23 1158.4 143.14 1158.9 143.35 1159.4 142.56 1159.5 142.61 1159.9 143.76 1160.4 143.2 1160.9 144.26 1161.4 144.93 1161.9 145.02 1162.4 146.03 1162.5 146.31 1162.9 147.35 1163.4 147.5 1163.9 148.71 1164.4 150.44 1164.9 151.98 1165.4 153.17 1165.5 153.05 1165.9 155.97 1166.4 159.24 1166.7 160.02 1166.9 162.06 1167.4 166.35 1167.7 169.14 1167.9 172.95 1168.4 180.19 1168.5 182.27 1168.9 187.19 1169.2 191.12 1169.4 193.06 1169.9 195.44 1170.2 198.61 1170.4 198.54 1170.9 200.64 1171.4 202.47 1171.9 203.1 1172.4 203.56 1172.9 205.01 1173.4 204.79 1173.9 206.21 1174.4 206.54 1174.9 207.4 1175.4 208.48 1175.9 208.4 1176.4 208.15 1176.9 207.7 1177.4 207.58 1177.9 207.89 1178.4 207.56 1178.9 207.62 1179.4 208.56 1179.9 207.37 1180.4 208.35 1180.9 207.72 1181.4 207.69 1181.9 207.62 1182.4 207.27 1182.9 207.8 1183.4 207.38 1183.9 207.76 1184.4 207.54 1184.9 208.37 1185.4 208.4 1185.9 207.72 1186.4 207.99 1186.9 208.38 1187.4 207.53 1187.9 207.2 1188.4 207.39 1188.9 207.31 1189.4 207.99 1189.9 207.55 1190.4 207.52 1190.9 208.12 1191.4 207.32 1191.9 208.12 1192.4 207.87 1192.9 207.53 1193.4 208.11 1193.9 207.43 1194.4 208.17 1194.9 208.23 1195.4 207.63 1195.9 207.88 1196.4 208.23 1196.9 207.94 1197.4 207.94 1197.9 208.1 1198.4 208.18 1198.9 207.92 1199.4 208.22 1199.9 207.25 1200.4 207.7 1200.9 207.76 1201.4 207.33 1201.9 207.36 1202.4 207.04 1202.9 208.13 1203.4 207.27 1203.9 207.44 1204.4 208.01 1204.9 207.01 1205.4 208.09 1205.9 206.91 1206.4 206.76 1206.9 207.2 1207.4 207.21 1207.9 207.98 1208.4 207.92 1208.9 207.74 1209.4 207.28 1209.9 207.42 1210.4 206.98 1210.9 207.81 1211.4 207.18 1211.9 207.02 1212.4 207.51 1212.9 206.81 1213.4 207.04 1213.9 207.88 1214.4 206.71 1214.9 206.77 1215.4 206.84 1215.9 206.9 1216.4 207.13 1216.9 206.88 1217.4 207 1217.9 206.86 1218.4 206.84 1218.9 207.37 1219.4 207 1219.6 207.06 1219.65 201.29 1219.9 173.21 1220 162.49 1220.4 155.9 1220.6 151.53 1220.9 150.34 1221.4 146.64 1221.5 146.63 1221.9 146.29 1222.4 144.6 1222.6 144.8 1222.9 144.51 1223.4 144.08 1223.7 144.85 1223.9 144.1 1224.4 144.46 1224.9 144.91 1225.1 144.58 1225.4 145.68 1225.9 145.95 1226.4 146.55 1226.7 146.85 1226.9 147.93 1227.4 149.09 1227.9 150.03 1228.1 149.94 1228.4 150.73 1228.9 152.29 1229.4 153.02 1229.7 153.95 1229.9 156.25 1230.4 157.69 1230.9 161.48 1231.4 165.56 1231.9 170.34 1232.4 177.09 1232.7 182.16 1232.9 185.39 1233.4 190.62 1233.9 194.26 1234.4 198.1 1234.9 199.45 1235.4 201.01 1235.6 202.38 1235.9 202.06 1236.4 204.1 1236.9 204.46 1237.4 204.43 1237.6 205.94 1237.9 205.41 1238.4 206.4 1238.9 207.16 1239.4 207.22 1239.6 207.99 1239.9 207.38 1240.4 207.57 1240.9 208.56 1241.4 208.42 1241.9 207.99 1242.4 208.2 1242.9 208.46 1243.4 207.42 1243.9 207.9 1244.4 207.38 1244.9 207.35 1245.4 207.32 1245.9 207.46 1246.4 207.22 1246.9 207.44 1247.4 207.66 1247.9 207.99 1248.4 208.3 1248.9 208.36 1249.4 208.08 1249.9 207.78 1250.4 208.34 1250.9 207.27 1251.4 207.18 1251.9 208.16 1252.4 207.89 1252.9 207.29 1253.4 207.51 1253.9 207.39 1254.4 207.56 1254.9 207.55 1255.4 207.5 1255.9 208.04 1256.4 208.05 1256.9 207.69 1257.4 207.55 1257.9 207.28 1258.4 207.94 1258.9 208.24 1259.4 207.16 1259.9 207.82 1260.4 207.8 1260.9 207.73 1261.4 206.84 1261.9 207.56 1262.4 207.06 1262.9 207.03 1263.4 207.56 1263.9 207.64 1264.4 207.6 1264.9 207.75 1265.4 207.69 1265.9 207.36 1266.4 206.75 1266.9 207.75 1267.4 207.81 1267.9 207.81 1268.4 207.47 1268.9 206.67 1269.4 206.88 1269.9 206.75 1270.4 207.47 1270.9 207.33 1271.4 206.82 1271.9 207.89 1272.4 207.91 1272.9 207.78 1273.4 207.16 1273.9 206.91 1274.4 206.78 1274.9 207.63 1275.4 207.45 1275.9 206.84 1276.4 207.71 1276.9 207.23 1277.4 207 1277.9 206.99 1278.4 207.41 1278.9 207.02 1279.4 207.3 1279.9 206.53 1280.4 207.33 1280.9 206.72 1281.4 207.6 1281.9 206.61 1282.4 206.77 1282.9 207.07 1283.4 206.89 1283.7 207.09 1283.75 201.28 1283.9 183.91 1284.1 162.89 1284.4 157.07 1284.7 151.48 1284.9 149.89 1285.4 147.09 1285.6 145.81 1285.9 145.4 1286.4 144.1 1286.7 143.42 1286.9 143.77 1287.4 143.25 1287.8 143.54 1287.9 143.73 1288.4 143.61 1288.9 143.67 1289.2 144.43 1289.4 145.03 1289.9 144.76 1290.4 145.93 1290.8 146.48 1290.9 147.03 1291.4 147.91 1291.9 148.54 1292.2 149.1 1292.4 150.54 1292.9 151.21 1293.4 152.22 1293.8 154.55 1293.9 154.15 1294.4 156.98 1294.9 159.66 1295 160.11 1295.4 164.35 1295.9 168.29 1296 169.32 1296.4 175.68 1296.8 182.64 1296.9 182.78 1297.4 189.95 1297.5 190.6 1297.9 193.45 1298.4 197.61 1298.5 197.99 1298.9 198.84 1299.4 201.19 1299.7 202.62 1299.9 202.57 1300.4 203.17 1300.9 204.42 1301.4 205.4 1301.7 204.82 1301.9 205.29 1302.4 206.88 1302.9 207.48 1303.4 207.13 1303.7 208.23 1303.9 208.48 1304.4 208.1 1304.9 208.28 1305.4 208.03 1305.9 207.61 1306.4 207.57 1306.9 207.35 1307.4 208.19 1307.9 207.44 1308.4 208.11 1308.9 207.77 1309.4 207.83 1309.9 208.57 1310.4 207.75 1310.9 207.85 1311.4 207.71 1311.9 207.47 1312.4 207.47 1312.9 207.9 1313.4 208.28 1313.9 207.26 1314.4 208.44 1314.9 208.06 1315.4 207.18 1315.9 208.08 1316.4 207.64 1316.9 207.79 1317.4 207.21 1317.9 207.77 1318.4 207.77 1318.9 208.13 1319.4 207.84 1319.9 208 1320.4 208.04 1320.9 207.31 1321.4 207.02 1321.9 207.65 1322.4 207.15 1322.9 207.16 1323.4 207.4 1323.9 207.69 1324.4 207.79 1324.9 207.83 1325.4 208.23 1325.9 207.04 1326.4 207.67 1326.9 207 1327.4 207.81 1327.9 207.48 1328.4 207.05 1328.9 207.28 1329.4 207.76 1329.9 207.49 1330.4 208.14 1330.9 207.3 1331.4 207.27 1331.9 208.08 1332.4 207.63 1332.9 206.92 1333.4 207.86 1333.9 207.26 1334.4 208.07 1334.9 207.62 1335.4 207.85 1335.9 207.97 1336.4 207.41 1336.9 208.05 1337.4 206.72 1337.9 207.15 1338.4 207.84 1338.9 206.67 1339.4 207.59 1339.9 208.03 1340.4 207.63 1340.9 207.82 1341.4 206.71 1341.9 207.35 1342.4 207.44 1342.9 207.19 1343.4 207.16 1343.9 207.67 1344.4 206.78 1344.9 206.6 1345.4 207.36 1345.9 207.87 1346.4 207.67 1346.9 207.44 1347.4 206.93 1347.9 207.8 1347.95 200.27 1348.3 162.63 1348.4 161.49 1348.9 152.18 1349.4 148.69 1349.8 147.17 1349.9 145.85 1350.4 145.54 1350.9 143.82 1351.4 143.92 1351.9 143.73 1352 143.45 1352.4 144.2 1352.9 144.58 1353.4 144.52 1353.9 145.65 1354.4 145.42 1354.9 146.68 1355 146.82 1355.4 147.56 1355.9 149.42 1356.4 149.46 1356.9 151.28 1357.4 152.73 1357.9 154.01 1358 155.13 1358.4 156.69 1358.9 159.26 1359.2 160.75 1359.4 162.52 1359.9 167.69 1360.2 170.14 1360.4 173.1 1360.9 180.34 1361 182.53 1361.4 186.95 1361.7 191.06 1361.9 192 1362.4 196.45 1362.7 198.93 1362.9 199.09 1363.4 200.6 1363.9 201.75 1364.4 202.82 1364.9 203.66 1365.4 204.41 1365.9 205.01 1366.4 205.58 1366.9 206.98 1367.4 207.91 1367.9 208.38 1368.4 208.11 1368.9 207.3 1369.4 207.7 1369.9 208.47 1370.4 208.65 1370.9 208.05 1371.4 208.07 1371.9 208.22 1372.4 207.6 1372.9 208.24 1373.4 207.74 1373.9 208.41 1374.4 207.86 1374.9 208.13 1375.4 207.97 1375.9 207.93 1376.4 207.82 1376.9 208.5 1377.4 208.21 1377.9 207.73 1378.4 207.84 1378.9 208.38 1379.4 208.16 1379.9 208.02 1380.4 208.44 1380.9 207.25 1381.4 207.91 1381.9 207.94 1382.4 207.69 1382.9 208.4 1383.4 208.39 1383.9 207.58 1384.4 207.88 1384.9 208.08 1385.4 207.97 1385.9 207.5 1386.4 208.1 1386.9 207.46 1387.4 207.17 1387.9 207.88 1388.4 207.85 1388.9 207.5 1389.4 207.62 1389.9 208.29 1390.4 208.03 1390.9 207.46 1391.4 208.16 1391.9 207.67 1392.4 207.43 1392.9 207.76 1393.4 207.94 1393.9 208.09 1394.4 207.76 1394.9 207.75 1395.4 207.37 1395.9 206.85 1396.4 207.42 1396.9 206.94 1397.4 208.08 1397.9 207.26 1398.4 207.59 1398.9 207.76 1399.4 206.98 1399.9 207.88 1400.4 207.16 1400.9 206.81 1401.4 207.53 1401.9 207.24 1402.4 207.95 1402.9 207.28 1403.4 206.78 1403.9 206.66 1404.4 206.67 1404.9 207.31 1405.4 207.61 1405.9 206.67 1406.4 207.05 1406.9 207.25 1407.4 207.83 1407.9 207.92 1408.4 207.78 1408.9 207.44 1409.4 207.34 1409.9 206.83 1410.4 207.37 1410.9 206.73 1411.4 206.94 1411.9 207.7 1412.1 207.34 1412.15 201.24 1412.4 173.78 1412.5 162.68 1412.9 155.42 1413.1 151.73 1413.4 149.6 1413.9 147.65 1414 147.28 1414.4 145.37 1414.9 144.47 1415.1 144.88 1415.4 144.68 1415.9 143.86 1416.2 144.29 1416.4 143.9 1416.9 145.02 1417.4 144.89 1417.6 144.88 1417.9 144.76 1418.4 145.71 1418.9 146.42 1419.2 146.63 1419.4 146.84 1419.9 148.01 1420.4 149.87 1420.6 150.64 1420.9 151.37 1421.4 152.45 1421.9 154.1 1422.2 154.03 1422.4 155.2 1422.9 158.54 1423.4 160.22 1423.9 164.78 1424.4 170.2 1424.9 177.31 1425.2 182.05 1425.4 184.89 1425.9 191.85 1426.4 194.19 1426.9 198.9 1427.4 199.7 1427.9 201.68 1428.1 202.18 1428.4 202.18 1428.9 204.16 1429.4 203.88 1429.9 205.57 1430.1 206 1430.4 205.79 1430.9 207.16 1431.4 206.55 1431.9 207.32 1432.1 208.06 1432.4 207.5 1432.9 208.54 1433.4 208.17 1433.9 208.57 1434.4 207.88 1434.9 207.53 1435.4 208.74 1435.9 207.77 1436.4 208.06 1436.9 207.64 1437.4 208.27 1437.9 208.09 1438.4 207.71 1438.9 207.48 1439.4 207.89 1439.9 208.5 1440.4 207.61 1440.9 207.7 1441.4 208.24 1441.9 208.25 1442.4 208.48 1442.9 208.25 1443.4 208.53 1443.9 207.54 1444.4 208.61 1444.9 207.35 1445.4 207.46 1445.9 207.43 1446.4 208.36 1446.9 207.97 1447.4 208.55 1447.9 208.61 1448.4 208.57 1448.9 208.09 1449.4 207.71 1449.9 208.55 1450.4 208.23 1450.9 207.46 1451.4 207.95 1451.9 207.2 1452.4 207.18 1452.9 208.05 1453.4 208.15 1453.9 208.34 1454.4 208.18 1454.9 207.3 1455.4 208.14 1455.9 208.47 1456.4 208.03 1456.9 207.75 1457.4 207.48 1457.9 207.14 1458.4 207.92 1458.9 208.38 1459.4 207.18 1459.9 208.16 1460.4 208.26 1460.9 207.49 1461.4 208.17 1461.9 207.19 1462.4 207.39 1462.9 207.75 1463.4 208.18 1463.9 207.69 1464.4 207.05 1464.9 208.22 1465.4 207.71 1465.9 207.99 1466.4 207.21 1466.9 207.35 1467.4 206.99 1467.9 207.12 1468.4 207.46 1468.9 207.41 1469.4 207.75 1469.9 207.99 1470.4 207.28 1470.9 208.1 1471.4 207.7 1471.9 207.26 1472.4 207.03 1472.9 208.1 1473.4 207.67 1473.9 206.8 1474.4 207.69 1474.9 207.25 1475.4 207.3 1475.9 207.77 1476.4 207.03 1476.8 207.1 1476.85 201.24 1476.9 196.4 1477.2 163.16 1477.4 160.47 1477.8 152.83 1477.9 151.52 1478.4 149.44 1478.7 147.73 1478.9 147.46 1479.4 146.25 1479.8 145.15 1479.9 145.39 1480.4 144.89 1480.9 145.07 1481.4 145.24 1481.9 145.07 1482.3 145.43 1482.4 145.71 1482.9 146.38 1483.4 147.22 1483.9 148.08 1484.4 148.53 1484.9 150.07 1485.3 150.67 1485.4 150.8 1485.9 152.06 1486.4 154.59 1486.9 155.93 1487.4 158.41 1487.9 160.1 1488.1 161.12 1488.4 163.69 1488.9 168.35 1489.1 170.28 1489.4 174.38 1489.9 182.78 1490.4 189.42 1490.6 192.12 1490.9 193.29 1491.4 196.48 1491.6 198.97 1491.9 199.33 1492.4 200.82 1492.8 201.86 1492.9 202.18 1493.4 202.97 1493.9 203.75 1494.4 204.52 1494.8 205.55 1494.9 206.1 1495.4 206.03 1495.9 206.82 1496.4 207.56 1496.8 208.57 1496.9 208.47 1497.4 208.79 1497.9 207.67 1498.4 208.57 1498.9 207.88 1499.4 208.29 1499.9 208.23 1500.4 208.29 1500.9 207.93 1501.4 207.57 1501.9 207.46 1502.4 208.74 1502.9 208.67 1503.4 208.06 1503.9 207.53 1504.4 208.56 1504.9 208.08 1505.4 208.03 1505.9 208.25 1506.4 207.56 1506.9 207.64 1507.4 208.46 1507.9 208.33 1508.4 208.67 1508.9 207.89 1509.4 208.63 1509.9 208.5 1510.4 207.95 1510.9 208.48 1511.4 207.45 1511.9 207.3 1512.4 208.33 1512.9 207.38 1513.4 207.89 1513.9 208.19 1514.4 208.1 1514.9 207.44 1515.4 208.22 1515.9 207.17 1516.4 207.88 1516.9 208.34 1517.4 207.84 1517.9 207.48 1518.4 208.44 1518.9 208.05 1519.4 208.13 1519.9 208.26 1520.4 208.31 1520.9 207.79 1521.4 208.13 1521.9 207.66 1522.4 207.3 1522.9 207.32 1523.4 207.29 1523.9 206.95 1524.4 207.77 1524.9 207.45 1525.4 208.15 1525.9 206.93 1526.4 207.94 1526.9 207.11 1527.4 207.28 1527.9 207.22 1528.4 208.14 1528.9 207.69 1529.4 207.43 1529.9 207.02 1530.4 206.82 1530.9 207.25 1531.4 208.09 1531.9 207.33 1532.4 207.65 1532.9 207.92 1533.4 206.74 1533.9 207.11 1534.4 207.24 1534.9 206.95 1535.4 207.16 1535.9 207.57 1536.4 206.79 1536.9 207.56 1537.4 206.99 1537.9 207.48 1538.4 206.79 1538.9 207.64 1539.4 207.11 1539.9 207.68 1540.4 207.86 1540.9 207.33 1541.4 206.57 1541.45 200.83 1541.8 164.35 1541.9 162.04 1542.4 152.87 1542.9 149.73 1543.3 148.18 1543.4 147.94 1543.9 146.56 1544.4 145.56 1544.9 144.76 1545.4 144.5 1545.5 144.75 1545.9 145.67 1546.4 146.09 1546.9 146.22 1547.4 146.99 1547.9 146.4 1548.4 147 1548.5 147.44 1548.9 148.01 1549.4 149.94 1549.9 151.55 1550.4 152.89 1550.9 153.16 1551.4 155.32 1551.5 155.61 1551.9 157.68 1552.4 159.95 1552.7 161.27 1552.9 163.93 1553.4 168.34 1553.7 170.7 1553.9 173.58 1554.4 180.66 1554.5 182.56 1554.9 187.51 1555.2 191.26 1555.4 192.6 1555.9 196.67 1556.2 198.76 1556.4 198.68 1556.9 201.27 1557.4 201.59 1557.9 203.72 1558.4 204 1558.9 204.89 1559.4 205.18 1559.9 206.39 1560.4 207.29 1560.9 207 1561.4 207.54 1561.9 208.48 1562.4 207.74 1562.9 207.56 1563.4 208.12 1563.9 207.72 1564.4 207.77 1564.9 207.89 1565.4 207.61 1565.9 208.62 1566.4 208.26 1566.9 208.37 1567.4 207.85 1567.9 208.51 1568.4 208.76 1568.9 208.8 1569.4 207.45 1569.9 207.81 1570.4 207.49 1570.9 208.02 1571.4 208.26 1571.9 208.18 1572.4 207.81 1572.9 208.65 1573.4 208.17 1573.9 208.68 1574.4 207.86 1574.9 208.16 1575.4 207.38 1575.9 207.98 1576.4 208.12 1576.9 207.53 1577.4 208.07 1577.9 207.37 1578.4 207.82 1578.9 208.01 1579.4 207.82 1579.9 207.34 1580.4 207.39 1580.9 207.63 1581.4 208.01 1581.9 207.69 1582.4 207.35 1582.9 207.53 1583.4 207.48 1583.9 207.23 1584.4 207.85 1584.9 207.67 1585.4 207.45 1585.9 206.99 1586.4 208.25 1586.9 207.02 1587.4 207.11 1587.9 207.35 1588.4 208.03 1588.9 208.22 1589.4 207.96 1589.9 207.17 1590.4 208.05 1590.9 206.91 1591.4 207.01 1591.9 206.99 1592.4 207.61 1592.9 207.64 1593.4 207.68 1593.9 208.11 1594.4 207.83 1594.9 207.8 1595.4 206.99 1595.9 208.01 1596.4 208.01 1596.9 207.87 1597.4 206.81 1597.9 207.69 1598.4 207.4 1598.9 207.41 1599.4 207.03 1599.9 207.72 1600.4 207.76 1600.9 207.69 1601.4 207.02 1601.9 207.62 1602.4 206.7 1602.9 207.52 1603.4 206.59 1603.9 206.55 1604.4 206.67 1604.9 207.43 1605.4 207.88 1605.9 207.17 1606.2 207.43 1606.25 201.13 1606.4 185.49 1606.6 164.34 1606.9 158.54 1607.2 152.28 1607.4 150.82 1607.9 149.22 1608.1 147.26 1608.4 147.36 1608.9 146.54 1609.2 144.98 1609.4 144.97 1609.9 145.17 1610.3 145.66 1610.4 145.72 1610.9 146.17 1611.4 145.4 1611.7 146.04 1611.9 146.63 1612.4 146.54 1612.9 147.44 1613.3 147.42 1613.4 148.53 1613.9 149.08 1614.4 150.28 1614.7 151.2 1614.9 151.28 1615.4 153.35 1615.9 154.24 1616.3 155.31 1616.4 156.24 1616.9 158.78 1617.4 161.45 1617.5 162.21 1617.9 165.62 1618.4 169.43 1618.5 170.64 1618.9 177.19 1619.3 182.3 1619.4 184.39 1619.9 190.45 1620 191.53 1620.4 193.89 1620.9 197.57 1621 198.9 1621.4 200.35 1621.9 202.08 1622.2 202.7 1622.4 203.19 1622.9 203.92 1623.4 203.79 1623.9 205.33 1624.2 206.06 1624.4 206.15 1624.9 206.13 1625.4 207.37 1625.9 207.58 1626.2 208.03 1626.4 208.45 1626.9 208.4 1627.4 207.66 1627.9 208.39 1628.4 207.57 1628.9 207.77 1629.4 208.62 1629.9 208.73 1630.4 207.8 1630.9 208.5 1631.4 207.67 1631.9 208.1 1632.4 207.88 1632.9 207.5 1633.4 207.98 1633.9 208.13 1634.4 208.54 1634.9 207.48 1635.4 207.72 1635.9 207.32 1636.4 207.59 1636.9 207.66 1637.4 208.42 1637.9 208.58 1638.4 207.55 1638.9 207.91 1639.4 207.96 1639.9 207.9 1640.4 208.54 1640.9 208.52 1641.4 207.23 1641.9 207.74 1642.4 207.89 1642.9 208.05 1643.4 207.87 1643.9 208.27 1644.4 207.24 1644.9 207.74 1645.4 208.24 1645.9 207.31 1646.4 207.3 1646.9 207.91 1647.4 207.24 1647.9 207.78 1648.4 207.18 1648.9 207.26 1649.4 207.45 1649.9 208.07 1650.4 207.82 1650.9 207.8 1651.4 207.82 1651.9 207.48 1652.4 208.28 1652.9 207.73 1653.4 207.77 1653.9 206.97 1654.4 207.21 1654.9 207.67 1655.4 208.18 1655.9 207.81 1656.4 206.89 1656.9 207.93 1657.4 207.09 1657.9 207.61 1658.4 207.03 1658.9 206.84 1659.4 207.83 1659.9 207.41 1660.4 207.57 1660.9 207.69 1661.4 207.53 1661.9 207.27 1662.4 207.12 1662.9 207.4 1663.4 206.99 1663.9 207 1664.4 207.76 1664.9 207.09 1665.4 207.61 1665.9 207.54 1666.4 207.23 1666.9 207.66 1667.4 207.01 1667.9 206.54 1668.4 207.71 1668.9 207.56 1669.4 207.54 1669.9 207.81 1670.3 207.11 1670.35 200.95 1670.4 195.91 1670.7 164.49 1670.9 159.96 1671.3 153.22 1671.4 152.96 1671.9 149.25 1672.2 147.28 1672.4 147.1 1672.9 146.81 1673.3 145.44 1673.4 146.44 1673.9 145.12 1674.4 146.13 1674.9 145.61 1675.4 146.65 1675.8 146.03 1675.9 145.83 1676.4 147.22 1676.9 147.29 1677.4 148.79 1677.9 149.75 1678.4 150.09 1678.8 151.31 1678.9 151.67 1679.4 153.36 1679.9 154.02 1680.4 155.82 1680.9 158.35 1681.4 161.04 1681.6 162.04 1681.9 164.47 1682.4 168.76 1682.6 170.51 1682.9 176 1683.4 183.09 1683.9 188.71 1684.1 191.6 1684.4 194.17 1684.9 197.47 1685.1 198 1685.4 199.41 1685.9 201.03 1686.3 202.83 1686.4 202.18 1686.9 203.89 1687.4 204.54 1687.9 204.22 1688.3 205.52 1688.4 205.7 1688.9 206.48 1689.4 207.48 1689.9 207.16 1690.3 208.54 1690.4 207.4 1690.9 208.58 1691.4 207.8 1691.9 207.49 1692.4 208.61 1692.9 208.86 1693.4 208.41 1693.9 208.57 1694.4 208.03 1694.9 207.81 1695.4 208.38 1695.9 208.58 1696.4 207.81 1696.9 207.95 1697.4 207.79 1697.9 207.78 1698.4 208.61 1698.9 207.39 1699.4 207.41 1699.9 207.62 1700.4 208.45 1700.9 208.14 1701.4 208.4 1701.9 208.3 1702.4 208.56 1702.9 208.13 1703.4 207.33 1703.9 207.43 1704.4 207.85 1704.9 207.43 1705.4 207.69 1705.9 207.63 1706.4 208.62 1706.9 208.58 1707.4 208.16 1707.9 207.8 1708.4 207.78 1708.9 207.29 1709.4 207.81 1709.9 207.37 1710.4 207.91 1710.9 208.29 1711.4 207.7 1711.9 208.12 1712.4 208.26 1712.9 208.39 1713.4 207.7 1713.9 207.42 1714.4 208.33 1714.9 207.77 1715.4 207.45 1715.9 208.01 1716.4 208.25 1716.9 208.41 1717.4 207.55 1717.9 207.39 1718.4 207.35 1718.9 207.41 1719.4 207.29 1719.9 208.26 1720.4 207.85 1720.9 207.03 1721.4 207.08 1721.9 207.2 1722.4 208.28 1722.9 207.4 1723.4 208.04 1723.9 207.21 1724.4 207.16 1724.9 208.2 1725.4 206.97 1725.9 207.56 1726.4 207.59 1726.9 207.31 1727.4 207.89 1727.9 208.01 1728.4 207.13 1728.9 207.22 1729.4 207.47 1729.9 207.45 1730.4 207.66 1730.9 207.84 1731.4 207.23 1731.9 208.06 1732.4 207.37 1732.9 206.76 1733.4 207.3 1733.9 207.44 1734.4 206.97 1734.9 207.97 1734.95 201.33 1735.3 163.77 1735.4 161.57 1735.9 152.02 1736.4 149.46 1736.8 147.77 1736.9 147.63 1737.4 146.66 1737.9 144.77 1738.4 145.69 1738.9 145.45 1739 145.41 1739.4 145.38 1739.9 146.09 1740.4 146.48 1740.9 146.55 1741.4 146.95 1741.9 147.7 1742 148.19 1742.4 148.92 1742.9 150.2 1743.4 150.68 1743.9 152.47 1744.4 153.34 1744.9 155.21 1745 154.7 1745.4 157.52 1745.9 160.41 1746.2 162.24 1746.4 163.4 1746.9 168.33 1747.2 170.02 1747.4 172.89 1747.9 181.47 1748 182.74 1748.4 187.82 1748.7 191.87 1748.9 193.47 1749.4 197.07 1749.7 198.39 1749.9 199.38 1750.4 201.03 1750.9 202.68 1751.4 203.34 1751.9 203.97 1752.4 205.26 1752.9 204.95 1753.4 206.67 1753.9 206.44 1754.4 207.11 1754.9 208.44 1755.4 208.13 1755.9 207.96 1756.4 207.58 1756.9 207.54 1757.4 207.83 1757.9 207.58 1758.4 208.41 1758.9 207.71 1759.4 207.95 1759.9 208 1760.4 208.39 1760.9 208.54 1761.4 208.27 1761.9 207.68 1762.4 207.56 1762.9 208.14 1763.4 207.86 1763.9 208.35 1764.4 207.63 1764.9 208.29 1765.4 207.81 1765.9 207.69" stroke="#E69F00" stroke-width="3.1" fill="none" stroke-linejoin="round"/>
<path d="M998.4 286.84 998.75 289.79 999.1 286.16 999.45 289.17 999.8 286.8 1000.15 290.89 1000.5 285.79 1000.85 290.27 1001.2 286.14 1001.55 290.06 1001.9 286.08 1002.25 290.48 1002.6 285.84 1002.95 290.66 1003.3 285.99 1003.65 290.4 1004 286.56 1004.35 289.93 1004.7 285.71 1005.05 289.38 1005.4 285.56 1005.75 290.24 1006.1 286.36 1006.45 289.76 1006.8 286.23 1007.15 290.34 1007.5 285.75 1007.85 290.32 1008.2 285.74 1008.55 290.73 1008.9 286 1009.25 290.6 1009.6 286.75 1009.95 290.64 1010.3 287.1 1010.65 289.87 1011 286.74 1011.35 290.68 1011.7 286.18 1012.05 290.41 1012.4 285.71 1012.75 290.03 1013.1 286.71 1013.45 291.4 1013.8 286.91 1014.15 290.22 1014.5 287.18 1014.85 289.7 1015.2 285.68 1015.55 289.95 1015.9 286.12 1016.25 290.13 1016.6 285.6 1016.95 289.9 1017.3 286.84 1017.65 290.86 1018 285.15 1018.35 289.87 1018.7 287.22 1019.05 290.25 1019.4 286.15 1019.75 290.34 1020.1 286.01 1020.45 289.18 1020.8 286.07 1021.15 289.59 1021.5 286.21 1021.85 289.78 1022.2 286.61 1022.55 289.67 1022.9 284.52 1023.25 290.14 1023.6 286.71 1023.95 290.56 1024.3 286.93 1024.65 290.37 1025 286.69 1025.35 290.61 1025.7 285.75 1026.05 289.74 1026.4 285.7 1026.75 289.54 1027.1 286.33 1027.45 290.56 1027.8 286.93 1028.15 290.56 1028.5 285.84 1028.85 289.37 1029.2 285.86 1029.55 289.75 1029.9 286.52 1030.25 290.76 1030.6 287.25 1030.95 290.69 1031.3 286.49 1031.65 290.77 1032 285.95 1032.1 290.31 1032.15 267.99 1032.35 260.6 1032.5 249.64 1032.7 253.05 1033.05 246.51 1033.4 249.96 1033.75 243.23 1034.1 245.08 1034.45 242.49 1034.8 245.46 1035.15 241.31 1035.5 244.62 1035.85 240.83 1036.2 243.62 1036.55 239.9 1036.7 243.18 1036.9 240.15 1037.25 244.13 1037.6 237.92 1037.95 243.97 1038.3 241.06 1038.6 243.65 1038.65 240.6 1039 246.36 1039.35 242 1039.7 244.57 1040.05 241.13 1040.4 245.25 1040.75 243.03 1040.8 246.14 1041.1 243.58 1041.45 247.97 1041.8 246.67 1042.15 251.17 1042.5 249.02 1042.85 252.84 1043.2 250.06 1043.4 255.38 1043.55 252.25 1043.9 257.92 1044.25 256.57 1044.6 262.17 1044.95 260.68 1045 263.94 1045.3 264.84 1045.65 273.39 1046 272.55 1046.35 277.65 1046.7 276.25 1047.05 280.69 1047.4 277.42 1047.75 283.16 1048.1 280.98 1048.45 283.51 1048.8 280.71 1049.15 284.58 1049.5 281.44 1049.85 285.37 1050.2 283.68 1050.55 287.42 1050.9 283.13 1051.25 289.96 1051.6 284.37 1051.7 288.99 1051.95 284.6 1052.3 288 1052.65 285.11 1053 288.5 1053.35 285.84 1053.7 289.58 1054.05 285.82 1054.4 289.06 1054.75 286.5 1055.1 290.33 1055.45 285.51 1055.8 290.02 1056.15 285.82 1056.5 289.84 1056.85 285.61 1057.1 289.31 1057.2 285.65 1057.55 289.92 1057.9 286.93 1058.25 289.49 1058.6 286.7 1058.95 290.36 1059.3 286.74 1059.65 289.87 1060 286.23 1060.35 290.32 1060.7 286.41 1061.05 289.45 1061.4 286.69 1061.75 289.4 1062.1 286.41 1062.45 289.97 1062.8 285.81 1063.15 289.99 1063.5 285.75 1063.85 290.43 1064.2 286.43 1064.55 289.56 1064.9 286.07 1065.25 290.64 1065.6 286.92 1065.95 289.47 1066.3 285.75 1066.65 289.59 1067 286.7 1067.35 290.42 1067.7 287.09 1068.05 289.66 1068.4 286.24 1068.75 289.16 1069.1 286.49 1069.45 289.51 1069.8 285.58 1070.15 290.1 1070.5 286.77 1070.85 289.34 1071.2 285.66 1071.55 290.8 1071.9 285.9 1072.25 289.66 1072.6 286.11 1072.95 289.61 1073.3 285.57 1073.65 290.09 1074 286.39 1074.35 290.41 1074.7 286.26 1075.05 290.28 1075.4 286.94 1075.75 290.3 1076.1 285.62 1076.45 289.73 1076.8 286.21 1077.15 290.28 1077.5 286.71 1077.85 289.27 1078.2 285.93 1078.55 290.44 1078.9 286.79 1079.25 290.68 1079.6 286.37 1079.95 290.49 1080.3 286.67 1080.65 290.1 1081 286.64 1081.35 289.34 1081.7 287.08 1082.05 290.51 1082.4 286.93 1082.75 289.88 1083.1 285.82 1083.45 290.18 1083.8 286.56 1084.15 290.07 1084.5 286.9 1084.85 291.91 1085.2 285.85 1085.55 290.81 1085.9 286.29 1086.25 290.26 1086.6 286.05 1086.95 290.65 1087.3 286.2 1087.65 289.15 1088 286.09 1088.35 290.06 1088.7 286.92 1089.05 289.21 1089.4 286.12 1089.75 290.14 1090.1 285.69 1090.45 290.54 1090.8 287.17 1091.15 289.55 1091.5 286.31 1091.85 289.71 1092.2 286.04 1092.55 290.65 1092.9 285.63 1093.25 290.44 1093.6 285.84 1093.95 290.66 1094.3 285.93 1094.65 289.34 1094.7 287.12 1094.75 270.27 1095 253.87 1095.1 252.52 1095.35 248.16 1095.7 250.24 1096.05 245.03 1096.4 246.82 1096.7 241.58 1096.75 245.11 1097.1 241.78 1097.45 244.66 1097.8 240.21 1098.15 242.88 1098.5 239.53 1098.85 241.79 1099.2 239.17 1099.3 241.98 1099.55 238.69 1099.9 242.78 1100.25 239.13 1100.6 241.95 1100.95 239.8 1101.2 243.04 1101.3 239.33 1101.65 242.91 1102 239.91 1102.35 244.84 1102.7 240.31 1103.05 244.66 1103.4 241.28 1103.75 246.36 1104.1 243.83 1104.45 250.31 1104.8 247.3 1105.15 251.45 1105.5 249.58 1105.85 254.3 1106 249.62 1106.2 255.89 1106.55 251.58 1106.9 259.41 1107.25 257.53 1107.6 263.79 1107.95 265.55 1108.3 272.58 1108.6 272.21 1108.65 277.2 1109 273.74 1109.35 279.92 1109.7 276.88 1110.05 282.06 1110.4 279.53 1110.7 284.18 1110.75 279.85 1111.1 284.31 1111.45 279.46 1111.8 285.2 1112.15 281.77 1112.5 285.73 1112.85 282.76 1113.2 287.78 1113.55 283.25 1113.9 287.76 1114.25 285.63 1114.3 289.39 1114.6 284.9 1114.95 288.02 1115.3 285.66 1115.65 288.34 1116 284.06 1116.35 288.66 1116.7 286.07 1117.05 289.18 1117.4 285.58 1117.75 289.57 1118.1 286.52 1118.45 290.26 1118.8 286.97 1119.15 289.35 1119.5 287.05 1119.7 289.54 1119.85 286.17 1120.2 290.48 1120.55 286.65 1120.9 289.93 1121.25 285.79 1121.6 290.57 1121.95 286.31 1122.3 290.42 1122.65 286.65 1123 289.27 1123.35 285.96 1123.7 290.28 1124.05 286.88 1124.4 290.89 1124.75 286.5 1125.1 289.53 1125.45 285.62 1125.8 290.68 1126.15 286.18 1126.5 290.09 1126.85 285.59 1127.2 290.81 1127.55 285.9 1127.9 290.9 1128.25 286.74 1128.6 289.47 1128.95 285.99 1129.3 290.06 1129.65 287.18 1130 289.63 1130.35 286.65 1130.7 290.46 1131.05 287.07 1131.4 289.87 1131.75 286.99 1132.1 290.37 1132.45 285.54 1132.8 289.8 1133.15 286.71 1133.5 290.07 1133.85 286.62 1134.2 289.65 1134.55 285.7 1134.9 289.67 1135.25 284.42 1135.6 289.38 1135.95 286.31 1136.3 289.23 1136.65 285.9 1137 290.86 1137.35 283.94 1137.7 290.23 1138.05 286.5 1138.4 289.23 1138.75 287.09 1139.1 289.58 1139.45 286.52 1139.8 289.22 1140.15 286.15 1140.5 290.75 1140.85 286.82 1141.2 290.48 1141.55 286.36 1141.9 290.11 1142.25 286.21 1142.6 290.27 1142.95 285.66 1143.3 290.31 1143.65 285.83 1144 289.87 1144.35 286.96 1144.7 290.35 1145.05 286.29 1145.4 289.76 1145.75 285.85 1146.1 290.83 1146.45 286.7 1146.8 289.87 1147.15 285.8 1147.5 291.43 1147.85 286.25 1148.2 290 1148.55 286.01 1148.9 289.32 1149.25 286.6 1149.6 290.72 1149.95 286.13 1150.3 290.76 1150.65 286.58 1151 289.7 1151.35 285.59 1151.7 289.7 1152.05 286.76 1152.4 289.58 1152.75 287.12 1153.1 289.5 1153.45 286.33 1153.8 290.62 1154.15 284.39 1154.5 289.64 1154.85 287.13 1155.2 289.99 1155.55 286.3 1155.9 289.56 1156.25 287 1156.6 289.46 1156.95 286.07 1157.3 289.39 1157.65 285.92 1158 289.48 1158.05 266.8 1158.35 256.5 1158.4 249.69 1158.7 251.52 1159.05 246.79 1159.4 247.78 1159.75 243.36 1160 244.82 1160.1 241.04 1160.45 245.91 1160.8 241.3 1161.15 244.28 1161.5 239.71 1161.85 243.27 1162.2 239.02 1162.55 242.71 1162.6 239.18 1162.9 243.46 1163.25 239.24 1163.6 243.83 1163.95 238.94 1164.3 242.99 1164.5 240.55 1164.65 244.67 1165 239.91 1165.35 243.73 1165.7 240.8 1166.05 245.66 1166.4 241.6 1166.7 246.1 1166.75 243.17 1167.1 247.03 1167.45 245.07 1167.8 249.39 1168.15 246.29 1168.5 252.56 1168.85 249.8 1169.2 253.82 1169.3 250.9 1169.55 255.82 1169.9 255.01 1170.25 260.36 1170.6 258.92 1170.9 265.33 1170.95 261.55 1171.3 268.64 1171.65 269.45 1171.9 276.01 1172 273.67 1172.35 278.06 1172.7 275.75 1173.05 280.54 1173.4 277.83 1173.75 282.68 1174 280.41 1174.1 284.27 1174.45 280.67 1174.8 284.43 1175.15 281.54 1175.5 285.11 1175.85 282.18 1176.2 286.83 1176.55 283.52 1176.9 288.26 1177.25 283.77 1177.6 288.92 1177.95 284.38 1178.3 288.74 1178.65 285.61 1179 289.54 1179.35 285.49 1179.7 289.83 1180.05 285.02 1180.4 288.94 1180.75 285.77 1181.1 289.75 1181.45 286.08 1181.8 290.55 1182.15 286.89 1182.5 290.34 1182.85 286.46 1183 289.99 1183.2 285.69 1183.55 289.73 1183.9 286.23 1184.25 289.5 1184.6 287.1 1184.95 289.19 1185.3 286.34 1185.65 289.29 1186 286.43 1186.35 290.09 1186.7 285.53 1187.05 290.07 1187.4 286.73 1187.75 289.38 1188.1 286.17 1188.45 290.49 1188.8 285.75 1189.15 289.5 1189.5 286.5 1189.85 289.49 1190.2 286.88 1190.55 290.79 1190.9 285.65 1191.25 289.52 1191.6 287.19 1191.95 289.82 1192.3 285.79 1192.65 289.85 1193 286.94 1193.35 289.61 1193.7 286.66 1194.05 289.53 1194.4 286.26 1194.75 290.37 1195.1 286.08 1195.45 289.45 1195.8 286.56 1196.15 290.19 1196.5 286.48 1196.85 290.53 1197.2 286.39 1197.55 289.62 1197.9 286.05 1198.25 290.58 1198.6 286.65 1198.95 289.99 1199.3 286 1199.65 290.43 1200 287.07 1200.35 290.64 1200.7 286.31 1201.05 289.93 1201.4 286.23 1201.75 289.5 1202.1 285.92 1202.45 289.68 1202.8 285.7 1203.15 290.88 1203.5 285.94 1203.85 289.16 1204.2 285.96 1204.55 289.99 1204.9 286.82 1205.25 290.13 1205.6 287.06 1205.95 289.71 1206.3 286.95 1206.65 289.49 1207 286.24 1207.35 289.24 1207.7 286.9 1208.05 289.44 1208.4 286.31 1208.75 290.67 1209.1 286.56 1209.45 289.63 1209.8 285.6 1210.15 290.81 1210.5 286.49 1210.85 290.83 1211.2 286.25 1211.55 289.5 1211.9 285.53 1212.25 290.43 1212.6 287.08 1212.95 290.46 1213.3 286.45 1213.65 289.72 1214 286.96 1214.35 289.62 1214.7 286.6 1215.05 290.45 1215.4 286.05 1215.75 290.56 1216.1 286.3 1216.45 289.83 1216.8 286.96 1217.15 289.52 1217.5 286.37 1217.85 290.63 1218.2 286.6 1218.55 290.12 1218.9 285.64 1219.25 289.42 1219.6 285.96 1219.95 290.44 1220.3 286.3 1220.65 290.2 1221 287.01 1221.35 290.7 1221.6 287.24 1221.65 271.92 1221.7 265.33 1222 253.95 1222.05 248.22 1222.4 251.51 1222.75 246.45 1223.1 248.67 1223.45 242.54 1223.6 246.84 1223.8 241.92 1224.15 246.02 1224.5 242.19 1224.85 245.5 1225.2 241.42 1225.55 243.51 1225.9 240.07 1226.2 243.69 1226.25 240.14 1226.6 243.44 1226.95 240.12 1227.3 244.52 1227.65 240.3 1228 244.44 1228.1 241.14 1228.35 245.23 1228.7 242.14 1229.05 245.6 1229.4 242.29 1229.75 247.07 1230.1 243.16 1230.3 246.11 1230.45 243.65 1230.8 249.13 1231.15 246.73 1231.5 249.77 1231.85 247.47 1232.2 252.1 1232.55 250.72 1232.9 254.8 1233.25 254.28 1233.6 258.7 1233.95 258.71 1234.3 263.15 1234.5 260.84 1234.65 267.2 1235 267.08 1235.35 275.49 1235.5 270.97 1235.7 276.91 1236.05 274.44 1236.4 280.36 1236.75 277.7 1237.1 283.7 1237.45 280.18 1237.6 283.55 1237.8 281.02 1238.15 284.95 1238.5 280.69 1238.85 285.07 1239.2 283.17 1239.55 286.64 1239.9 283.76 1240.25 286.7 1240.6 284.21 1240.95 288.98 1241.2 285.26 1241.3 287.85 1241.65 284.66 1242 289.23 1242.35 285.77 1242.7 288.48 1243.05 285.21 1243.4 288.5 1243.75 285.68 1244.1 289.38 1244.45 286.35 1244.8 289.81 1245.15 285.27 1245.5 290.42 1245.85 285.81 1246.2 289.28 1246.55 285.66 1246.6 290.19 1246.9 286.74 1247.25 290.74 1247.6 287 1247.95 290.6 1248.3 286.7 1248.65 290.77 1249 287.22 1249.35 289.7 1249.7 285.54 1250.05 289.3 1250.4 286.83 1250.75 290.79 1251.1 285.67 1251.45 289.68 1251.8 286.3 1252.15 289.84 1252.5 286.73 1252.85 290.78 1253.2 285.82 1253.55 289.58 1253.9 286.98 1254.25 290.73 1254.6 286.28 1254.95 289.89 1255.3 285.67 1255.65 289.65 1256 286.9 1256.35 289.69 1256.7 287.07 1257.05 289.84 1257.4 286.11 1257.75 289.59 1258.1 285.07 1258.45 290.67 1258.8 286.96 1259.15 289.34 1259.5 286.3 1259.85 289.73 1260.2 286.4 1260.55 289.91 1260.9 286.41 1261.25 289.44 1261.6 286.41 1261.95 290.05 1262.3 286.6 1262.65 290.74 1263 286.3 1263.35 290.02 1263.7 286.43 1264.05 289.47 1264.4 287.05 1264.75 289.45 1265.1 286.8 1265.45 290.09 1265.8 285.77 1266.15 290.86 1266.5 286.59 1266.85 290.47 1267.2 285.95 1267.55 290.9 1267.9 285.72 1268.25 289.29 1268.6 287.1 1268.95 290.6 1269.3 284.83 1269.65 289.51 1270 287.19 1270.35 290.79 1270.7 286.02 1271.05 290.23 1271.4 284.73 1271.75 289.48 1272.1 285.55 1272.45 290.17 1272.8 285.77 1273.15 290.06 1273.5 287.02 1273.85 290.55 1274.2 286.76 1274.55 289.43 1274.9 286.49 1275.25 290.06 1275.6 286.7 1275.95 290.49 1276.3 286.74 1276.65 290.77 1277 286.21 1277.35 290.83 1277.7 286.87 1278.05 289.76 1278.4 286.62 1278.75 290.29 1279.1 286.1 1279.45 290.23 1279.8 286.34 1280.15 290.6 1280.5 285.88 1280.85 290.63 1281.2 286.4 1281.55 290.39 1281.9 286.79 1282.25 290.13 1282.6 287.25 1282.95 289.5 1283.3 286.46 1283.65 289.65 1284 285.83 1284.3 289.15 1284.35 267.24 1284.7 253.17 1285.05 247.7 1285.4 249.46 1285.75 243.36 1286.1 245.68 1286.3 241.26 1286.45 244.89 1286.8 241.09 1287.15 243.46 1287.5 239.41 1287.85 242.82 1288.2 239.02 1288.55 242.95 1288.9 237.6 1289.25 241.92 1289.6 238.19 1289.95 242.79 1290.3 239.31 1290.65 242.23 1290.8 238.84 1291 243.65 1291.35 239.2 1291.7 243.72 1292.05 241.36 1292.4 244.11 1292.75 241.74 1293 245.93 1293.1 241.56 1293.45 246.56 1293.8 244.61 1294.15 249.95 1294.5 246.05 1294.85 251.36 1295.2 248.69 1295.55 253.7 1295.6 250.25 1295.9 258.15 1296.25 254.28 1296.6 259.85 1296.95 258.99 1297.2 264.83 1297.3 261.11 1297.65 269.17 1298 269.89 1298.2 277.07 1298.35 273.99 1298.7 277.81 1299.05 275.74 1299.4 280.46 1299.75 277.56 1300.1 282.9 1300.3 280.26 1300.45 284.02 1300.8 279.97 1301.15 285.38 1301.5 282.28 1301.85 286.42 1302.2 283.18 1302.55 286.83 1302.9 283.45 1303.25 287.98 1303.6 283.69 1303.9 288.71 1303.95 284.68 1304.3 290.78 1304.65 284.63 1305 289.03 1305.35 285.12 1305.7 289.11 1306.05 284.76 1306.4 289.2 1306.75 285.9 1307.1 288.84 1307.45 285.42 1307.8 288.89 1308.15 286.93 1308.5 289.79 1308.85 286.4 1309.2 290.21 1309.3 285.83 1309.55 290.72 1309.9 287.12 1310.25 289.27 1310.6 285.9 1310.95 290.1 1311.3 286.22 1311.65 290.48 1312 286.24 1312.35 289.71 1312.7 285.51 1313.05 289.15 1313.4 286.86 1313.75 289.5 1314.1 285.91 1314.45 290.86 1314.8 285.68 1315.15 289.51 1315.5 286.53 1315.85 289.23 1316.2 286.27 1316.55 290.61 1316.9 286.47 1317.25 289.76 1317.6 286.38 1317.95 289.56 1318.3 286.77 1318.65 289.25 1319 286.16 1319.35 289.77 1319.7 286.95 1320.05 289.19 1320.4 285.88 1320.75 290.65 1321.1 286.28 1321.45 290.37 1321.8 285.49 1322.15 289.3 1322.5 286.45 1322.85 290.85 1323.2 285.96 1323.55 289.54 1323.9 285.57 1324.25 289.37 1324.6 285.69 1324.95 289.86 1325.3 287.06 1325.65 289.88 1326 287.1 1326.35 289.2 1326.7 286.84 1327.05 290.58 1327.4 286.43 1327.75 289.66 1328.1 287.06 1328.45 290.18 1328.8 285.6 1329.15 289.26 1329.5 287.21 1329.85 290.39 1330.2 286.15 1330.55 290.59 1330.9 286.58 1331.25 289.42 1331.6 286.9 1331.95 289.71 1332.3 286.3 1332.65 289.42 1333 286.05 1333.35 290.32 1333.7 286.57 1334.05 290.22 1334.4 286.33 1334.75 290.34 1335.1 286.35 1335.45 289.96 1335.8 285.66 1336.15 290.57 1336.5 286.02 1336.85 292.35 1337.2 286.95 1337.55 289.8 1337.9 286.22 1338.25 289.91 1338.6 285.53 1338.95 290.53 1339.3 286.01 1339.65 290.45 1340 287.11 1340.35 290.22 1340.7 286.44 1341.05 289.55 1341.4 286.01 1341.75 289.43 1342.1 286.59 1342.45 290.39 1342.8 285.96 1343.15 289.65 1343.5 287.13 1343.85 289.47 1344.2 286.42 1344.55 290.22 1344.9 285.62 1345.25 290.14 1345.6 285.57 1345.95 289.33 1346.3 286.03 1346.65 289.8 1346.9 286.64 1346.95 272.05 1347 264.85 1347.3 253.11 1347.35 249.3 1347.7 251.55 1348.05 246.8 1348.4 250.72 1348.75 243.43 1348.9 245.2 1349.1 241.93 1349.45 246.8 1349.8 240.7 1350.15 245.33 1350.5 241.2 1350.85 243.22 1351.2 240.51 1351.5 242.45 1351.55 239.95 1351.9 243.23 1352.25 240 1352.6 243.39 1352.95 239.56 1353.3 243.44 1353.4 240.74 1353.65 244.89 1354 241.35 1354.35 245.73 1354.7 242.08 1355.05 245.34 1355.4 243.2 1355.6 246.62 1355.75 243.24 1356.1 247.49 1356.45 244.82 1356.8 249.87 1357.15 248.32 1357.5 252.8 1357.85 249.94 1358.2 255.69 1358.55 253.63 1358.9 259.67 1359.25 258.41 1359.6 264.28 1359.8 260.54 1359.95 265.73 1360.3 266.44 1360.65 274.72 1360.8 273.35 1361 278.19 1361.35 274.72 1361.7 280.23 1362.05 277.46 1362.4 281.91 1362.75 279.05 1362.9 283.23 1363.1 280.52 1363.45 284.36 1363.8 281.75 1364.15 285.16 1364.5 282.71 1364.85 285.9 1365.2 283.93 1365.55 287.42 1365.9 284.12 1366.25 287.96 1366.5 284.27 1366.6 288.49 1366.95 284.96 1367.3 289.7 1367.65 285.2 1368 288.9 1368.35 285.83 1368.7 289.71 1369.05 286.48 1369.4 288.65 1369.75 286.44 1370.1 290.17 1370.45 286.4 1370.8 290.09 1371.15 286.64 1371.5 289.93 1371.85 286.09 1371.9 290.73 1372.2 286.87 1372.55 289.37 1372.9 285.71 1373.25 289.92 1373.6 285.56 1373.95 289.57 1374.3 286.37 1374.65 289.75 1375 286.83 1375.35 290.2 1375.7 286.43 1376.05 291.63 1376.4 285.77 1376.75 289.75 1377.1 285.93 1377.45 289.19 1377.8 286.48 1378.15 289.32 1378.5 286.81 1378.85 290.07 1379.2 285.81 1379.55 289.29 1379.9 287.16 1380.25 290.74 1380.6 286.11 1380.95 289.57 1381.3 286.6 1381.65 289.18 1382 286.51 1382.35 290.6 1382.7 286.2 1383.05 289.94 1383.4 287.16 1383.75 290.03 1384.1 286.82 1384.45 289.76 1384.8 286.76 1385.15 289.84 1385.5 286.69 1385.85 290.03 1386.2 287.1 1386.55 289.68 1386.9 285.61 1387.25 290.37 1387.6 287.06 1387.95 290.74 1388.3 286.14 1388.65 290.12 1389 286.11 1389.35 290.65 1389.7 286.89 1390.05 290.18 1390.4 285.74 1390.75 290.35 1391.1 286.03 1391.45 290.56 1391.8 285.67 1392.15 289.63 1392.5 286.2 1392.85 290.37 1393.2 285.72 1393.55 289.92 1393.9 286.19 1394.25 289.66 1394.6 287.2 1394.95 290.59 1395.3 287.1 1395.65 289.8 1396 286.22 1396.35 289.7 1396.7 287.25 1397.05 289.69 1397.4 286.72 1397.75 289.81 1398.1 286.69 1398.45 290.51 1398.8 285.93 1399.15 289.56 1399.5 285.62 1399.85 289.37 1400.2 285.62 1400.55 290.52 1400.9 285.87 1401.25 289.97 1401.6 286.11 1401.95 289.66 1402.3 287.1 1402.65 290.89 1403 285.68 1403.35 289.38 1403.7 285.59 1404.05 290.88 1404.4 286.01 1404.75 290.75 1405.1 287.2 1405.45 289.17 1405.8 286.22 1406.15 289.58 1406.5 286.63 1406.85 290.18 1407.2 287.13 1407.55 289.28 1407.9 286.15 1408.25 292 1408.6 285.67 1408.95 290.25 1409.3 285.95 1409.65 289.63 1409.7 285.98 1409.75 270.26 1410 254.1 1410.1 252.82 1410.35 247.57 1410.7 249.44 1411.05 243.69 1411.4 245.6 1411.7 240.9 1411.75 245.34 1412.1 240.84 1412.45 244.34 1412.8 240.65 1413.15 244.01 1413.5 239.62 1413.85 243.03 1414.2 237.93 1414.3 242.55 1414.55 238.82 1414.9 242.22 1415.25 239.83 1415.6 243.22 1415.95 240.08 1416.2 242.57 1416.3 240.09 1416.65 243.66 1417 239.68 1417.35 244.35 1417.7 241.24 1418.05 245.89 1418.4 241.75 1418.75 246.84 1419.1 244.9 1419.45 249.66 1419.8 245.63 1420.15 252.15 1420.5 249.19 1420.85 254.28 1421 249.92 1421.2 255.43 1421.55 253.34 1421.9 259.38 1422.25 257.52 1422.6 263.3 1422.95 264.61 1423.3 273.61 1423.6 272.62 1423.65 276.83 1424 273.6 1424.35 278.76 1424.7 275.89 1425.05 280.82 1425.4 278.72 1425.7 284.16 1425.75 278.26 1426.1 284.66 1426.45 280.79 1426.8 285.82 1427.15 281.44 1427.5 285.5 1427.85 282.25 1428.2 287.07 1428.55 283.62 1428.9 288 1429.25 285.62 1429.3 287.99 1429.6 284.97 1429.95 289 1430.3 284.43 1430.65 288.9 1431 284.62 1431.35 289.71 1431.7 285.88 1432.05 288.92 1432.4 285.52 1432.75 289.86 1433.1 286.03 1433.45 290.31 1433.8 286.79 1434.15 290.33 1434.5 285.64 1434.7 290.35 1434.85 286.83 1435.2 290.25 1435.55 286.32 1435.9 290.83 1436.25 286.95 1436.6 290.19 1436.95 285.65 1437.3 290.04 1437.65 286.91 1438 289.94 1438.35 285.9 1438.7 290.85 1439.05 286.6 1439.4 289.29 1439.75 287.14 1440.1 290.03 1440.45 287.08 1440.8 290.89 1441.15 285.65 1441.5 289.69 1441.85 286.72 1442.2 289.79 1442.55 287.18 1442.9 290.63 1443.25 286.64 1443.6 290.1 1443.95 286.72 1444.3 290.11 1444.65 285.71 1445 289.85 1445.35 286.95 1445.7 289.38 1446.05 286.16 1446.4 289.94 1446.75 286.57 1447.1 290.63 1447.45 285.92 1447.8 290.19 1448.15 286.26 1448.5 290.36 1448.85 286.11 1449.2 289.96 1449.55 286.7 1449.9 290.14 1450.25 286.93 1450.6 289.35 1450.95 286.46 1451.3 290.65 1451.65 286.85 1452 289.97 1452.35 287.18 1452.7 289.55 1453.05 286.72 1453.4 289.65 1453.75 286.32 1454.1 290.47 1454.45 285.62 1454.8 290.34 1455.15 285.98 1455.5 289.48 1455.85 286.1 1456.2 290.31 1456.55 285.88 1456.9 290.85 1457.25 286.04 1457.6 289.39 1457.95 286.92 1458.3 289.19 1458.65 285.76 1459 290.54 1459.35 286.99 1459.7 290.72 1460.05 286.67 1460.4 289.92 1460.75 286.8 1461.1 290.26 1461.45 286.95 1461.8 290.39 1462.15 286.13 1462.5 290.47 1462.85 285.95 1463.2 289.74 1463.55 286.59 1463.9 290.46 1464.25 286.3 1464.6 290.19 1464.95 285.91 1465.3 289.24 1465.65 286.95 1466 290.87 1466.35 286.74 1466.7 290.74 1467.05 285.56 1467.4 289.78 1467.75 286.63 1468.1 289.89 1468.45 286.7 1468.8 290.14 1469.15 286.43 1469.5 290.12 1469.85 285.97 1470.2 290.21 1470.55 286.53 1470.9 290.2 1471.25 285.61 1471.6 289.66 1471.95 286.31 1472.2 290.19 1472.25 267.65 1472.3 268.1 1472.6 249.05 1472.65 253.6 1473 246.91 1473.35 249.56 1473.7 245.06 1474.05 245.78 1474.2 241.16 1474.4 245.48 1474.75 240.91 1475.1 244.2 1475.45 240.23 1475.8 243.37 1476.15 240.56 1476.5 243.33 1476.8 238.94 1476.85 242.03 1477.2 238.76 1477.55 243.49 1477.9 238.75 1478.25 244.7 1478.6 239.29 1478.7 243.56 1478.95 240.74 1479.3 243.69 1479.65 241.04 1480 245.17 1480.35 241.41 1480.7 245.13 1480.9 242.84 1481.05 246.52 1481.4 243.54 1481.75 248.12 1482.1 245.76 1482.45 250.87 1482.8 248.08 1483.15 253.18 1483.5 248.94 1483.85 257.15 1484.2 254.6 1484.55 260.96 1484.9 260.27 1485.1 264.76 1485.25 263.47 1485.6 270.46 1485.95 271.34 1486.1 276.23 1486.3 274.27 1486.65 279.15 1487 276.49 1487.35 280.91 1487.7 278.2 1488.05 283.24 1488.2 280.31 1488.4 284.92 1488.75 280.96 1489.1 285.68 1489.45 282.03 1489.8 285.92 1490.15 283.2 1490.5 286.92 1490.85 284.58 1491.2 287.59 1491.55 283.87 1491.8 288.15 1491.9 284.52 1492.25 289.57 1492.6 284.97 1492.95 288.89 1493.3 284.86 1493.65 289.16 1494 284.79 1494.35 288.81 1494.7 285.57 1495.05 289.13 1495.4 286.76 1495.75 290.01 1496.1 286.54 1496.45 290.19 1496.8 285.42 1497.15 290.39 1497.2 285.56 1497.5 290.26 1497.85 285.79 1498.2 289.37 1498.55 287.05 1498.9 290.1 1499.25 286.61 1499.6 289.91 1499.95 286.53 1500.3 290.63 1500.65 285.94 1501 289.88 1501.35 286.63 1501.7 289.52 1502.05 286.67 1502.4 290.58 1502.75 287.24 1503.1 289.93 1503.45 286.57 1503.8 290.7 1504.15 285.86 1504.5 289.79 1504.85 287.21 1505.2 289.63 1505.55 286.07 1505.9 289.75 1506.25 286.14 1506.6 289.88 1506.95 286.81 1507.3 290.45 1507.65 287.21 1508 289.61 1508.35 285.93 1508.7 289.59 1509.05 285.7 1509.4 289.76 1509.75 287.21 1510.1 290.57 1510.45 286.12 1510.8 290.46 1511.15 286.03 1511.5 289.29 1511.85 286.11 1512.2 289.21 1512.55 285.99 1512.9 289.93 1513.25 286.01 1513.6 289.93 1513.95 286.41 1514.3 290.41 1514.65 286.45 1515 290.14 1515.35 286.78 1515.7 289.95 1516.05 285.87 1516.4 290.13 1516.75 286.61 1517.1 289.79 1517.45 285.59 1517.8 289.52 1518.15 287.25 1518.5 290.13 1518.85 286.72 1519.2 292.43 1519.55 286.52 1519.9 290.88 1520.25 286.83 1520.6 289.8 1520.95 285.68 1521.3 290.43 1521.65 286.09 1522 289.55 1522.35 286.76 1522.7 290.8 1523.05 285.62 1523.4 289.91 1523.75 286.2 1524.1 289.41 1524.45 286.66 1524.8 290.57 1525.15 285.67 1525.5 289.47 1525.85 285.8 1526.2 290.13 1526.55 286.33 1526.9 290.73 1527.25 287.22 1527.6 290.49 1527.95 286.17 1528.3 290.6 1528.65 285.99 1529 289.91 1529.35 286.7 1529.7 289.35 1530.05 286.77 1530.4 290.14 1530.75 286.51 1531.1 289.55 1531.45 285.62 1531.8 292.15 1532.15 285.55 1532.5 289.41 1532.85 287.04 1533.2 289.2 1533.55 286.43 1533.9 290.17 1534.25 287.07 1534.6 289.71 1534.95 286.16 1535.3 289.38 1535.4 286.75 1535.45 270.72 1535.65 257.13 1535.8 252.84 1536 248.73 1536.35 250.4 1536.7 245.21 1537.05 247.26 1537.4 241.91 1537.75 245.46 1538.1 240.98 1538.45 243.98 1538.8 240.05 1539.15 242.86 1539.5 239.34 1539.85 242.92 1540 239.22 1540.2 242.67 1540.55 239.61 1540.9 242.46 1541.25 238.67 1541.6 243.54 1541.9 238.87 1541.95 242.93 1542.3 239.88 1542.65 243.4 1543 241.38 1543.35 244.09 1543.7 240.79 1544.05 246.04 1544.1 242.58 1544.4 246.13 1544.75 244.14 1545.1 248.87 1545.45 245.82 1545.8 250.53 1546.15 249.34 1546.5 252.87 1546.7 250.29 1546.85 255.73 1547.2 253.89 1547.55 259.86 1547.9 257.76 1548.25 263.96 1548.3 259.81 1548.6 268.42 1548.95 268.97 1549.3 277.36 1549.65 274.54 1550 279.37 1550.35 277.22 1550.7 281.79 1551.05 279.62 1551.4 282.92 1551.75 281.16 1552.1 284.46 1552.45 281.48 1552.8 284.85 1553.15 282.65 1553.5 285.95 1553.85 283.29 1554.2 287.23 1554.55 282.09 1554.9 287.85 1555 285.41 1555.25 288.37 1555.6 284.98 1555.95 288.28 1556.3 284.81 1556.65 289.38 1557 284.71 1557.35 289.29 1557.7 285.15 1558.05 289.92 1558.4 286.21 1558.75 290.03 1559.1 286.29 1559.45 289.03 1559.8 285.36 1560.15 291.91 1560.4 286.72 1560.5 289.69 1560.85 285.57 1561.2 289.39 1561.55 285.86 1561.9 289.88 1562.25 286.05 1562.6 289.96 1562.95 286.77 1563.3 289.88 1563.65 286.53 1564 289.54 1564.35 285.61 1564.7 290.5 1565.05 286.85 1565.4 290.61 1565.75 287.05 1566.1 290.57 1566.45 287.25 1566.8 290.06 1567.15 287 1567.5 290.37 1567.85 286.7 1568.2 289.18 1568.55 286.77 1568.9 290.62 1569.25 286.75 1569.6 289.98 1569.95 286.57 1570.3 289.34 1570.65 286.03 1571 289.27 1571.35 286.59 1571.7 290.28 1572.05 285.94 1572.4 289.77 1572.75 286.68 1573.1 289.22 1573.45 286.77 1573.8 289.23 1574.15 286.77 1574.5 290.71 1574.85 286.86 1575.2 290.24 1575.55 285.66 1575.9 289.8 1576.25 286.75 1576.6 289.21 1576.95 286.72 1577.3 289.16 1577.65 286.01 1578 290.61 1578.35 285.72 1578.7 290.66 1579.05 286.56 1579.4 289.53 1579.75 286.34 1580.1 289.83 1580.45 285.53 1580.8 289.99 1581.15 286.28 1581.5 290.79 1581.85 285.61 1582.2 289.98 1582.55 285.56 1582.9 289.54 1583.25 286.84 1583.6 289.79 1583.95 286.46 1584.3 289.76 1584.65 286.95 1585 289.55 1585.35 285.62 1585.7 289.81 1586.05 286.41 1586.4 290.05 1586.75 287.12 1587.1 291.94 1587.45 286.23 1587.8 290.47 1588.15 285.71 1588.5 289.3 1588.85 286.27 1589.2 289.5 1589.55 286.51 1589.9 290.82 1590.25 285.75 1590.6 290.36 1590.95 286.56 1591.3 289.38 1591.65 286.53 1592 290.63 1592.35 286.15 1592.7 290.17 1593.05 287.12 1593.4 290 1593.75 286.69 1594.1 290.28 1594.45 286.5 1594.8 289.77 1595.15 285.66 1595.5 289.91 1595.85 285.73 1596.2 290.46 1596.55 287.11 1596.9 289.33 1597.25 286.96 1597.6 289.15 1597.95 286.11 1598.1 289.34 1598.15 267.83 1598.3 262.24 1598.5 248.23 1598.65 252.22 1599 246.46 1599.35 248.41 1599.7 240.84 1600.05 244.98 1600.1 240.52 1600.4 244.38 1600.75 240.74 1601.1 242.98 1601.45 238.61 1601.8 242.24 1602.15 236.27 1602.5 241.83 1602.7 238.62 1602.85 241.96 1603.2 238.45 1603.55 242.03 1603.9 238.31 1604.25 242 1604.6 239.4 1604.95 243.14 1605.3 239.09 1605.65 243.35 1606 240.13 1606.35 243.6 1606.7 241.34 1606.8 245.06 1607.05 240.95 1607.4 247.7 1607.75 244.2 1608.1 249.7 1608.45 247.26 1608.8 252.48 1609.15 248.64 1609.4 253.32 1609.5 250.53 1609.85 256.72 1610.2 255.22 1610.55 260.56 1610.9 258.83 1611 264.16 1611.25 263.59 1611.6 270.55 1611.95 271.32 1612 275.95 1612.3 274.1 1612.65 278.05 1613 276.87 1613.35 281.34 1613.7 279.33 1614.05 283.16 1614.1 280.45 1614.4 283.26 1614.75 280.31 1615.1 285.3 1615.45 282.58 1615.8 286.98 1616.15 282.78 1616.5 286.7 1616.85 283.1 1617.2 287.55 1617.55 284.27 1617.7 288.77 1617.9 284.58 1618.25 289.35 1618.6 285.93 1618.95 289.06 1619.3 284.92 1619.65 288.85 1620 285.34 1620.35 288.7 1620.7 286.2 1621.05 289.17 1621.4 285.11 1621.75 291.21 1622.1 285.76 1622.45 290.33 1622.8 286.04 1623.1 290.52 1623.15 285.81 1623.5 290.07 1623.85 286.02 1624.2 290.85 1624.55 286.38 1624.9 289.33 1625.25 284.95 1625.6 289.16 1625.95 285.88 1626.3 289.86 1626.65 286.41 1627 290.25 1627.35 286.89 1627.7 290.66 1628.05 285.63 1628.4 289.7 1628.75 286.81 1629.1 289.83 1629.45 285.98 1629.8 289.81 1630.15 286.74 1630.5 290.54 1630.85 287.12 1631.2 289.97 1631.55 285.9 1631.9 289.8 1632.25 287.03 1632.6 289.87 1632.95 287.23 1633.3 289.83 1633.65 286.1 1634 289.65 1634.35 286.23 1634.7 290.51 1635.05 285.8 1635.4 290.34 1635.75 286.91 1636.1 290.81 1636.45 286.38 1636.8 290.63 1637.15 286.87 1637.5 290.64 1637.85 286.01 1638.2 289.71 1638.55 286 1638.9 290.57 1639.25 287.15 1639.6 289.54 1639.95 287.09 1640.3 290.09 1640.65 285.58 1641 290.32 1641.35 285.61 1641.7 289.7 1642.05 286.61 1642.4 289.35 1642.75 287.22 1643.1 289.57 1643.45 286.81 1643.8 290.4 1644.15 285.78 1644.5 289.4 1644.85 285.5 1645.2 290.12 1645.55 285.59 1645.9 289.25 1646.25 285.84 1646.6 290.04 1646.95 286.65 1647.3 290.72 1647.65 286.48 1648 290.46 1648.35 287.11 1648.7 289.15 1649.05 285.82 1649.4 289.79 1649.75 286.04 1650.1 290.1 1650.45 286.04 1650.8 289.15 1651.15 285.57 1651.5 289.2 1651.85 285.93 1652.2 290.88 1652.55 286.37 1652.9 290 1653.25 286.42 1653.6 290.82 1653.95 285.52 1654.3 289.98 1654.65 285.66 1655 289.67 1655.35 286.64 1655.7 289.97 1656.05 286.32 1656.4 290.62 1656.75 286.73 1657.1 289.29 1657.45 287.11 1657.8 290.7 1658.15 285.51 1658.5 290.06 1658.85 286.4 1659.2 289.74 1659.55 286.72 1659.9 289.48 1660.25 287.05 1660.6 290.15 1660.95 286.01 1661.1 290.4 1661.15 268.32 1661.3 263.71 1661.5 251.08 1661.65 253.72 1662 248.09 1662.35 252.28 1662.7 244.59 1663.05 247.25 1663.1 242.39 1663.4 245.85 1663.75 242.15 1664.1 245.79 1664.45 241.87 1664.8 244.32 1665.15 241.78 1665.5 243.92 1665.7 240.79 1665.85 244.21 1666.2 240.77 1666.55 244.54 1666.9 240.28 1667.25 244.26 1667.6 241.01 1667.95 245.57 1668.3 242.61 1668.65 246.61 1669 243.57 1669.35 246.72 1669.7 243.2 1669.8 246.91 1670.05 245.08 1670.4 249.42 1670.75 247.35 1671.1 250.74 1671.45 248.73 1671.8 252.83 1672.15 252 1672.4 255.66 1672.5 253.08 1672.85 257.88 1673.2 255.96 1673.55 261.93 1673.9 261.15 1674 265.76 1674.25 264.42 1674.6 272.38 1674.95 272.15 1675 276.85 1675.3 275 1675.65 279.21 1676 277.04 1676.35 281.23 1676.7 279.5 1677.05 285.02 1677.1 280.72 1677.4 283.93 1677.75 281.98 1678.1 285.19 1678.45 283 1678.8 286.05 1679.15 283.02 1679.5 287.17 1679.85 284.66 1680.2 287.58 1680.55 284.76 1680.7 289.51 1680.9 284.66 1681.25 288.32 1681.6 285.54 1681.95 288.45 1682.3 285.76 1682.65 288.81 1683 285 1683.35 290.12 1683.7 286.48 1684.05 289.21 1684.4 283.45 1684.75 290.03 1685.1 286.54 1685.45 290.5 1685.8 286.02 1686.1 290.5 1686.15 284.83 1686.5 289.2 1686.85 286.65 1687.2 289.51 1687.55 286.53 1687.9 289.77 1688.25 286.96 1688.6 289.48 1688.95 286.51 1689.3 289.56 1689.65 286.87 1690 290.3 1690.35 285.52 1690.7 289.45 1691.05 287.08 1691.4 290.76 1691.75 287.18 1692.1 289.76 1692.45 285.82 1692.8 290.05 1693.15 285.66 1693.5 289.79 1693.85 286.52 1694.2 289.82 1694.55 287.19 1694.9 290.77 1695.25 285.97 1695.6 290.42 1695.95 287 1696.3 290.26 1696.65 285.6 1697 290.13 1697.35 285.97 1697.7 289.33 1698.05 286.54 1698.4 289.37 1698.75 287.21 1699.1 290.8 1699.45 284.3 1699.8 289.5 1700.15 285.97 1700.5 290.49 1700.85 285.99 1701.2 291 1701.55 285.86 1701.9 289.96 1702.25 285.52 1702.6 289.82 1702.95 285.77 1703.3 289.94 1703.65 285.53 1704 290 1704.35 285.69 1704.7 290.2 1705.05 285.77 1705.4 289.81 1705.75 285.98 1706.1 289.35 1706.45 286.07 1706.8 290.71 1707.15 287.17 1707.5 289.58 1707.85 285.84 1708.2 289.34 1708.55 286.91 1708.9 289.41 1709.25 286 1709.6 290.17 1709.95 287.16 1710.3 289.28 1710.65 286.06 1711 289.6 1711.35 286.05 1711.7 289.69 1712.05 285.79 1712.4 290.49 1712.75 286.71 1713.1 289.55 1713.45 286.56 1713.8 290.3 1714.15 286.7 1714.5 289.57 1714.85 287.04 1715.2 289.89 1715.55 286.37 1715.9 289.48 1716.25 286.08 1716.6 290.2 1716.95 287.2 1717.3 289.57 1717.65 286.47 1718 289.43 1718.35 285.59 1718.7 290.77 1719.05 285.95 1719.4 290.31 1719.75 286.01 1720.1 290.22 1720.45 285.85 1720.8 289.56 1721.15 287.24 1721.5 289.46 1721.85 286.96 1722.2 289.44 1722.55 286.49 1722.9 290.76 1723.25 285.94 1723.6 289.75 1723.9 285.64 1723.95 271.97 1724.3 251.1 1724.65 253.97 1725 248.14 1725.35 250.34 1725.7 245.86 1725.9 247.62 1726.05 243.66 1726.4 247.77 1726.75 243.24 1727.1 245.99 1727.45 241.97 1727.8 246.3 1728.15 242.38 1728.5 244.9 1728.85 240.94 1729.2 245.16 1729.55 242.66 1729.9 245.93 1730.25 242.48 1730.4 246.33 1730.6 242.71 1730.95 246.31 1731.3 243.31 1731.65 246.84 1732 243.28 1732.35 248.82 1732.6 245.13 1732.7 249.26 1733.05 246.42 1733.4 249.89 1733.75 247.77 1734.1 252.88 1734.45 250.03 1734.8 255.84 1735.15 251.72 1735.2 256.03 1735.5 254.81 1735.85 260.74 1736.2 258.42 1736.55 264.95 1736.8 262.88 1736.9 266.17 1737.25 268.08 1737.6 277 1737.8 273.81 1737.95 278.23 1738.3 275.11 1738.65 279.92 1739 278.25 1739.35 282.18 1739.7 280.4 1739.9 284.72 1740.05 280.73 1740.4 284.04 1740.75 281.36 1741.1 286.55 1741.45 281.72 1741.8 286.88 1742.15 282.71 1742.5 287.12 1742.85 282.1 1743.2 288.11 1743.5 285.39 1743.55 288.42 1743.9 284.55 1744.25 288.7 1744.6 285.46 1744.95 288.64 1745.3 286.05 1745.65 289.18 1746 285.32 1746.35 290.01 1746.7 285.08 1747.05 289.11 1747.4 286.27 1747.75 290.52 1748.1 286.04 1748.45 289.13 1748.8 286.49 1748.9 290.15 1749.15 286.25 1749.5 290.61 1749.85 285.94 1750.2 289.49 1750.55 286.43 1750.9 290.32 1751.25 286.25 1751.6 289.84 1751.95 284.73 1752.3 290.07 1752.65 287.01 1753 290.66 1753.35 285.57 1753.7 290.09 1754.05 287.24 1754.4 290.46 1754.75 285.56 1755.1 289.64 1755.45 285.62 1755.8 289.6 1756.15 285.05 1756.5 290.66 1756.85 285.92 1757.2 289.65 1757.55 286.05 1757.9 289.87 1758.25 286.81 1758.6 289.16 1758.95 285.55 1759.3 290.44 1759.65 286.59 1760 290.69 1760.35 287.18 1760.7 290.17 1761.05 286.43 1761.4 290.4 1761.75 286.8 1762.1 289.25 1762.45 286.07 1762.8 289.95 1763.15 286.8 1763.5 290.79 1763.85 286.04 1764.2 290.1 1764.55 286.94 1764.9 289.34 1765.25 286.42 1765.6 290.48 1765.95 286.62" stroke="#56B4E9" stroke-width="2" fill="none" stroke-linejoin="round"/>
<path d="M998 366.59 998.35 371.03 998.7 367.03 999.05 372.39 999.4 365.21 999.75 371.4 1000.1 366.75 1000.45 370.56 1000.8 365.04 1001.15 372.08 1001.5 366.39 1001.85 371.9 1002.2 364.91 1002.55 371.58 1002.9 365.88 1003.25 371.23 1003.6 364.77 1003.95 371.42 1004.3 364.84 1004.65 372.29 1005 365.88 1005.35 371.56 1005.7 366.78 1006.05 372.11 1006.4 367.08 1006.75 370.73 1007.1 365.97 1007.45 372.59 1007.8 366.13 1008.15 371.64 1008.5 366.27 1008.85 370.83 1009.2 364.85 1009.55 370.16 1009.9 365.21 1010.25 370.62 1010.6 366.74 1010.95 370.11 1011.3 364.87 1011.65 371.91 1012 367.15 1012.35 372.51 1012.7 366.13 1013.05 371.61 1013.4 366.44 1013.75 371.15 1014.1 366.21 1014.45 372.22 1014.8 367.08 1015.15 372.04 1015.5 366.45 1015.85 372.55 1016.2 366.66 1016.55 370.14 1016.9 365.44 1017.25 370.11 1017.6 366.55 1017.95 370.32 1018.3 365.19 1018.65 372.57 1019 366.57 1019.35 370.1 1019.7 366.55 1020.05 372.16 1020.4 367.12 1020.75 370.63 1021.1 366.6 1021.45 370.37 1021.8 364.79 1022.15 372.58 1022.5 364.86 1022.85 372.06 1023.2 365.91 1023.55 370.55 1023.9 364.86 1024.25 370.88 1024.6 365.12 1024.95 372.12 1025.3 365.5 1025.65 370.7 1026 364.71 1026.35 372.52 1026.7 365.46 1027.05 372.34 1027.4 364.68 1027.75 370.16 1028.1 365.55 1028.45 371.94 1028.8 365.45 1029.15 374.68 1029.5 364.92 1029.85 372.11 1030.2 364.92 1030.55 372.28 1030.7 365.45 1030.9 372.32 1031.25 365.97 1031.3 370.95 1031.6 356.17 1031.7 359.6 1031.95 352.46 1032.3 355.21 1032.65 347.97 1032.7 352.6 1033 345.79 1033.35 351.53 1033.7 345.55 1034.05 350.94 1034.4 344.81 1034.7 349.76 1034.75 343.52 1035.1 349.42 1035.45 342.25 1035.8 348.08 1036.15 343.34 1036.5 347.62 1036.85 343.87 1037.2 348.36 1037.55 342.81 1037.7 350.8 1037.9 343.45 1038.25 348.43 1038.6 343.22 1038.95 348.02 1039.3 343.76 1039.65 350.16 1040 343.15 1040.35 348.63 1040.7 343.91 1041.05 349.16 1041.4 343.96 1041.75 350.4 1042.1 344.89 1042.45 351.86 1042.7 347.44 1042.8 352.94 1043.15 347.03 1043.5 355.01 1043.85 350.44 1044.2 357.25 1044.55 354.38 1044.9 359.95 1045.25 356.81 1045.6 364.46 1045.7 357.53 1045.95 365.26 1046.3 358.99 1046.65 365.32 1047 359.58 1047.35 365.18 1047.7 360.84 1048.05 367.19 1048.4 362.19 1048.75 367.02 1049.1 361.02 1049.45 367.14 1049.8 362.88 1050.15 369.31 1050.5 363.06 1050.7 369.14 1050.85 361.71 1051.2 367.65 1051.55 362.68 1051.9 368.34 1052.25 363.09 1052.6 367.8 1052.95 362.37 1053.3 369.42 1053.65 364.92 1054 368.65 1054.35 363.06 1054.7 368.68 1055.05 364.83 1055.4 368.95 1055.7 364.05 1055.75 371.12 1056.1 364.51 1056.45 369.96 1056.8 365.14 1057.15 368.97 1057.5 365.31 1057.85 370.73 1058.2 364.45 1058.55 371.28 1058.9 364.78 1059.25 370.97 1059.6 365.03 1059.95 371.37 1060.3 366.25 1060.65 371.55 1061 365.5 1061.35 371.6 1061.7 365.6 1062.05 369.53 1062.4 366.65 1062.7 369.94 1062.75 364.54 1063.1 370.17 1063.45 365.55 1063.8 370.09 1064.15 364.24 1064.5 372.05 1064.85 365.89 1065.2 371.87 1065.55 366.64 1065.9 372.11 1066.25 365.28 1066.6 373.13 1066.95 365.37 1067.3 372.06 1067.65 366.26 1068 371.5 1068.35 364.93 1068.7 372.25 1069.05 365.43 1069.4 371.54 1069.75 364.62 1070.1 370.22 1070.45 365.94 1070.8 371.61 1071.15 366.76 1071.5 372.13 1071.85 365.51 1072.2 372.69 1072.55 364.41 1072.9 372.39 1073.25 363.99 1073.6 374.13 1073.95 366.22 1074.3 371.22 1074.65 365.56 1075 371.1 1075.35 364.19 1075.7 371.44 1076.05 365.63 1076.4 371.19 1076.75 365.59 1077.1 371.6 1077.45 367.64 1077.8 372.93 1078.15 365.76 1078.5 372.18 1078.85 366.94 1079.2 371.26 1079.55 367.74 1079.9 371.39 1080.25 367.52 1080.6 370.91 1080.7 367.46 1080.95 371.22 1081.3 366.11 1081.65 371.92 1082 366.92 1082.35 373.15 1082.7 367.12 1083.05 370.82 1083.4 366.93 1083.75 372.2 1084.1 367.46 1084.45 370.9 1084.8 367.54 1085.15 370.85 1085.5 367.47 1085.85 371.19 1086.2 365.93 1086.55 372.86 1086.9 366.9 1087.25 372.71 1087.6 364.87 1087.95 372.54 1088.3 365.63 1088.65 370.41 1089 366.96 1089.35 371.51 1089.7 366.33 1090.05 372.22 1090.4 367.12 1090.7 370.57 1090.75 365.71 1091.1 371.62 1091.45 366.25 1091.8 372.46 1092.15 366.29 1092.5 371.72 1092.85 366.7 1093.2 371.9 1093.55 365.91 1093.7 370.8 1093.9 366.18 1094.25 370.98 1094.3 366.27 1094.6 363.57 1094.7 354.71 1094.95 359.21 1095.3 352.56 1095.65 356.46 1095.7 348.52 1096 353.95 1096.35 348.69 1096.7 356.47 1097.05 348.25 1097.4 352.11 1097.7 348.1 1097.75 352.51 1098.1 346.88 1098.45 352.18 1098.8 347.03 1099.15 353.63 1099.5 347.48 1099.85 352.52 1100.2 346.02 1100.55 352.24 1100.7 345.9 1100.9 353.62 1101.25 346.49 1101.6 351.36 1101.95 346.24 1102.3 353.85 1102.65 347.12 1103 352.27 1103.35 347.64 1103.7 352.3 1104.05 348.59 1104.4 354.99 1104.75 349.31 1105.1 353.23 1105.45 348.57 1105.7 354.04 1105.8 351.16 1106.15 357.65 1106.5 351.38 1106.85 359.62 1107.2 353.41 1107.55 364.79 1107.9 358.18 1108.25 363.54 1108.6 360.35 1108.7 365.47 1108.95 359.91 1109.3 366.26 1109.65 360.97 1110 365.61 1110.35 362.12 1110.7 366.92 1111.05 363.25 1111.4 366.69 1111.75 363.46 1112.1 368.24 1112.45 363.38 1112.8 369.1 1113.15 363.09 1113.5 369.07 1113.7 363.48 1113.85 368.98 1114.2 363.38 1114.55 370.25 1114.9 363.16 1115.25 369.12 1115.6 364.44 1115.95 368.91 1116.3 364.88 1116.65 369.07 1117 363.88 1117.35 370.75 1117.7 364.94 1118.05 369.15 1118.4 361 1118.7 368.87 1118.75 366.06 1119.1 370.35 1119.45 365.5 1119.8 370 1120.15 365.07 1120.5 369.81 1120.85 364.24 1121.2 370.2 1121.55 363.79 1121.9 371.12 1122.25 363.91 1122.6 370.19 1122.95 366.52 1123.3 371.33 1123.65 365.32 1124 370.56 1124.35 365.65 1124.7 370.52 1125.05 366.68 1125.4 369.92 1125.7 364.9 1125.75 371.92 1126.1 365.1 1126.45 370.69 1126.8 366.61 1127.15 371.99 1127.5 364.75 1127.85 370.86 1128.2 364.67 1128.55 371.39 1128.9 366.25 1129.25 369.9 1129.6 365.39 1129.95 370.46 1130.3 365.82 1130.65 370.8 1131 366.01 1131.35 370.24 1131.7 367.11 1132.05 371.94 1132.4 365.24 1132.75 370.36 1133.1 366.52 1133.45 371.5 1133.8 364.71 1134.15 372.12 1134.5 364.87 1134.85 371.01 1135.2 365.36 1135.55 372.48 1135.9 365.62 1136.25 371.79 1136.6 365.71 1136.95 370.26 1137.3 365.17 1137.65 370.37 1138 365.46 1138.35 372.41 1138.7 366.01 1139.05 370.47 1139.4 366.4 1139.75 372.02 1140.1 365.5 1140.45 371.99 1140.8 367.6 1141.15 372.5 1141.5 367.62 1141.85 371.38 1142.2 366.19 1142.55 372.89 1142.9 366.08 1143.25 371.2 1143.6 365.52 1143.7 372.42 1143.95 366.76 1144.3 371.18 1144.65 366.71 1145 372.71 1145.35 365.41 1145.7 372.34 1146.05 365.81 1146.4 372.54 1146.75 367.32 1147.1 370.82 1147.45 365.31 1147.8 372.56 1148.15 366.05 1148.5 371.96 1148.85 367.46 1149.2 371.72 1149.55 366.69 1149.9 372.33 1150.25 365.37 1150.6 372.68 1150.95 366.34 1151.3 371.83 1151.65 366.83 1152 371.5 1152.35 366.48 1152.7 371.26 1153.05 365.86 1153.4 372.17 1153.7 366.71 1153.75 371.51 1154.1 362.57 1154.45 371.04 1154.8 366.78 1155.15 372.3 1155.5 365.36 1155.85 372.54 1156.2 366.77 1156.4 372.23 1156.55 366.65 1156.9 371.21 1157 366.87 1157.25 364.07 1157.4 354.07 1157.6 358.65 1157.95 351.11 1158.3 355.69 1158.4 349.52 1158.65 354.38 1159 347.07 1159.35 353.07 1159.7 346 1160.05 351.83 1160.4 346.04 1160.75 350.77 1161.1 347.05 1161.45 350.73 1161.8 345.78 1162.15 350.6 1162.5 345.58 1162.85 350.78 1163.2 343.49 1163.4 351.75 1163.55 344.93 1163.9 354.4 1164.25 346.14 1164.6 352.34 1164.95 347.28 1165.3 352.41 1165.65 346.83 1166 351.65 1166.35 346.98 1166.4 352.03 1166.7 346.34 1167.05 353.93 1167.4 348.16 1167.75 352.55 1168.1 349.48 1168.4 354.34 1168.45 350.2 1168.8 358.61 1169.15 350.92 1169.5 358.6 1169.85 355.03 1169.9 359.3 1170.2 351.6 1170.55 360.69 1170.9 356.71 1171.25 364.3 1171.4 358.47 1171.6 365.31 1171.95 359.41 1172.3 366.98 1172.65 362.17 1173 366.15 1173.35 362.98 1173.4 367.11 1173.7 363.08 1174.05 366.56 1174.4 362.95 1174.75 366.95 1175.1 361.97 1175.45 368.12 1175.8 363.89 1176.15 368.62 1176.4 363.69 1176.5 369.07 1176.85 363.38 1177.2 369.86 1177.55 364.15 1177.9 369.62 1178.25 364.11 1178.6 369.98 1178.95 364.47 1179.3 369.18 1179.65 364.61 1180 369.99 1180.35 363.13 1180.7 369.7 1181.05 364.21 1181.4 370.33 1181.75 363.8 1182.1 370.94 1182.45 363.81 1182.8 371.41 1183.15 365.94 1183.5 369.45 1183.85 364.7 1184.2 370.15 1184.55 363.91 1184.9 370.53 1185.25 366.02 1185.6 370.22 1185.95 365.07 1186.3 370.57 1186.65 365.02 1187 369.77 1187.35 365.62 1187.7 369.86 1188.05 365.98 1188.4 371.73 1188.75 365.33 1189.1 370.23 1189.45 365.72 1189.8 371.06 1190.15 366.48 1190.5 370.34 1190.85 366.53 1191.2 372.1 1191.55 364.58 1191.9 374.2 1192.25 365.69 1192.6 370.97 1192.95 365.15 1193.3 370.32 1193.65 365.17 1194 370.15 1194.35 366.77 1194.7 370.14 1195.05 364.89 1195.4 371.76 1195.75 365.54 1196.1 370.42 1196.45 365.95 1196.8 371.61 1197.15 365.58 1197.5 370.12 1197.85 365.59 1198.2 372.32 1198.55 365.53 1198.9 370.34 1199.25 364.99 1199.6 372.27 1199.95 366.36 1200.3 371.7 1200.65 366.21 1201 371.65 1201.35 366.01 1201.7 371.08 1202.05 366.64 1202.4 371.08 1202.75 367.04 1203.1 371.38 1203.45 365.73 1203.8 371.09 1204.15 366.51 1204.5 370.8 1204.85 366 1205.2 370.73 1205.55 367.38 1205.9 371.17 1206.25 366.33 1206.4 372.67 1206.6 367.09 1206.95 371.25 1207.3 365.71 1207.65 372.63 1208 365.2 1208.35 371.5 1208.7 366.92 1209.05 371.47 1209.4 367.44 1209.75 372.03 1210.1 366.32 1210.45 371.13 1210.8 367.04 1211.15 371.58 1211.5 366.99 1211.85 371.4 1212.2 366.17 1212.55 370.84 1212.9 367.35 1213.25 371.84 1213.6 366 1213.95 371.05 1214.3 366.29 1214.65 371.96 1215 365.3 1215.35 372.63 1215.7 366.13 1216.05 370.46 1216.4 365.18 1216.75 372.07 1217.1 364.68 1217.45 370.54 1217.8 365.71 1218.15 372.06 1218.5 365.02 1218.85 371.03 1219.2 365.08 1219.55 370.31 1219.6 366.58 1219.9 371.02 1220.2 366.69 1220.25 368.59 1220.6 352.61 1220.95 356.49 1221.3 349.64 1221.6 352.1 1221.65 345.04 1222 352.35 1222.35 344.77 1222.7 349.93 1223.05 344.35 1223.4 349.89 1223.6 342.6 1223.75 349.46 1224.1 342.43 1224.45 348.18 1224.8 342.9 1225.15 348.16 1225.5 343.83 1225.85 347.31 1226.2 342.11 1226.55 347.7 1226.6 342.62 1226.9 347.58 1227.25 344.37 1227.6 347.55 1227.95 344.4 1228.3 348.06 1228.65 344.57 1229 348.7 1229.35 343.24 1229.6 349.12 1229.7 343.74 1230.05 349.06 1230.4 343.54 1230.75 351.02 1231.1 346.98 1231.45 352.35 1231.6 346.08 1231.8 351.67 1232.15 349.59 1232.5 354.52 1232.85 350.94 1233.1 356.62 1233.2 351.85 1233.55 359.3 1233.9 354.67 1234.25 362.34 1234.6 359.27 1234.95 364.7 1235.3 358.84 1235.65 365 1236 359.75 1236.35 365.74 1236.6 361.64 1236.7 368.04 1237.05 361.97 1237.4 368.15 1237.75 362.1 1238.1 368.11 1238.45 361.49 1238.8 368.36 1239.15 362.66 1239.5 369.39 1239.6 361.87 1239.85 368.37 1240.2 363.39 1240.55 369.05 1240.9 362.9 1241.25 368.71 1241.6 362.34 1241.95 368.72 1242.3 362.76 1242.65 369.83 1243 364.2 1243.35 368.74 1243.7 363.34 1244.05 369.82 1244.4 363.17 1244.6 370.88 1244.75 365.5 1245.1 368.93 1245.45 365.17 1245.8 370.45 1246.15 364.78 1246.5 371.47 1246.85 363.62 1247.2 369.03 1247.55 365.38 1247.9 369.39 1248.25 364.07 1248.6 369.9 1248.95 366.25 1249.3 370.7 1249.65 365.02 1250 371.14 1250.35 365.98 1250.7 371.21 1251.05 365.77 1251.4 370.5 1251.6 364.25 1251.75 370.73 1252.1 365.48 1252.45 369.65 1252.8 365.49 1253.15 370.53 1253.5 364.76 1253.85 371.71 1254.2 365.23 1254.55 371.6 1254.9 366.04 1255.25 372.11 1255.6 364.96 1255.95 370.94 1256.3 364.61 1256.65 371.55 1257 366.25 1257.35 371.95 1257.7 365.14 1258.05 371 1258.4 365.16 1258.75 371.38 1259.1 365.02 1259.45 370.54 1259.8 366.02 1260.15 370.13 1260.5 366.58 1260.85 370.2 1261.2 366.04 1261.55 370.67 1261.9 365.15 1262.25 371.51 1262.6 365.15 1262.95 371.44 1263.3 366.86 1263.65 371.26 1264 366.33 1264.35 372.62 1264.7 366.63 1265.05 372.89 1265.4 367.16 1265.75 371.21 1266.1 365.26 1266.45 371.26 1266.8 367.49 1267.15 372.03 1267.5 365.83 1267.85 372.09 1268.2 367.43 1268.55 371.36 1268.9 365.51 1269.25 373 1269.6 365.68 1269.95 372.66 1270.3 364.15 1270.65 371.47 1271 366.42 1271.35 372.95 1271.7 365.21 1272.05 372.56 1272.4 366.23 1272.75 370.6 1273.1 365.93 1273.45 370.67 1273.8 366.92 1274.15 371 1274.5 366.33 1274.85 370.63 1275.2 365.91 1275.55 370.76 1275.9 366.03 1276.25 372.76 1276.6 367.01 1276.95 370.87 1277.3 365.33 1277.65 370.49 1278 366 1278.35 371.36 1278.7 366.04 1279.05 372.47 1279.4 363.98 1279.6 371.31 1279.75 365.47 1280.1 372.45 1280.45 365.32 1280.8 372.49 1281.15 364.86 1281.5 373.35 1281.85 367.03 1282.2 370.95 1282.55 364.74 1282.7 371.53 1282.9 365.8 1283.25 372.56 1283.3 366.12 1283.6 361.54 1283.7 355.18 1283.95 357.34 1284.3 349.33 1284.65 355.06 1284.7 348.43 1285 352.14 1285.35 346.45 1285.7 351.36 1286.05 347.31 1286.4 352.96 1286.7 346.35 1286.75 350.02 1287.1 344.46 1287.45 351.25 1287.8 344.23 1288.15 350.09 1288.5 344.23 1288.85 350.57 1289.2 345.8 1289.55 349.69 1289.7 344.06 1289.9 349.82 1290.25 343.9 1290.6 350.76 1290.95 344.53 1291.3 350.01 1291.65 346.22 1292 350.58 1292.35 346.06 1292.7 352 1293.05 346.46 1293.4 350.91 1293.75 347.33 1294.1 353.7 1294.45 348 1294.7 354.16 1294.8 347.93 1295.15 353.77 1295.5 352.02 1295.85 356.75 1296.2 352.69 1296.55 360.62 1296.9 356.75 1297.25 362.81 1297.6 358.96 1297.7 363.23 1297.95 360.31 1298.3 365.28 1298.65 360.85 1299 366.41 1299.35 360.33 1299.7 367.31 1300.05 362.68 1300.4 366.77 1300.75 362.22 1301.1 368.7 1301.45 363.18 1301.8 368.46 1302.15 363.6 1302.5 368.69 1302.7 363.14 1302.85 368.47 1303.2 362.33 1303.55 368.54 1303.9 362.91 1304.25 368.16 1304.6 363.94 1304.95 369.22 1305.3 363.12 1305.65 368.63 1306 364.6 1306.35 371.61 1306.7 363.26 1307.05 369.24 1307.4 362.59 1307.7 370.62 1307.75 365.23 1308.1 370.5 1308.45 363.9 1308.8 370.3 1309.15 364.28 1309.5 370.65 1309.85 364.91 1310.2 369.15 1310.55 363.73 1310.9 371.63 1311.25 364.7 1311.6 370.38 1311.95 365.38 1312.3 370.94 1312.65 365.57 1313 369.76 1313.35 361.71 1313.7 371.13 1314.05 365.37 1314.4 371.44 1314.7 365.89 1314.75 370.16 1315.1 365.58 1315.45 371.29 1315.8 364.87 1316.15 369.72 1316.5 366.81 1316.85 372.11 1317.2 366.14 1317.55 370.2 1317.9 362.94 1318.25 370.46 1318.6 364.42 1318.95 371.03 1319.3 366.6 1319.65 371.8 1320 366.2 1320.35 370.29 1320.7 365.03 1321.05 371.36 1321.4 365.07 1321.75 370.31 1322.1 365.52 1322.45 370.23 1322.8 365.43 1323.15 370.27 1323.5 366.72 1323.85 371.63 1324.2 366.17 1324.55 371.48 1324.9 365.91 1325.25 371.99 1325.6 366.94 1325.95 372.55 1326.3 366.84 1326.65 372.11 1327 367.29 1327.35 371.12 1327.7 366.4 1328.05 371 1328.4 365.53 1328.75 371.59 1329.1 366.67 1329.45 370.45 1329.8 366.16 1330.15 370.59 1330.5 366.24 1330.85 372.73 1331.2 365.38 1331.55 373.04 1331.9 367.62 1332.25 371.1 1332.6 365.94 1332.7 372.37 1332.95 365.96 1333.3 371.89 1333.65 366.86 1334 372.71 1334.35 365.56 1334.7 372.52 1335.05 366.84 1335.4 372.51 1335.75 366.32 1336.1 371.99 1336.45 366.63 1336.8 370.65 1337.15 363.83 1337.5 371.21 1337.85 365.15 1338.2 372.65 1338.55 365.82 1338.9 371.46 1339.25 365.99 1339.6 371.21 1339.95 365.61 1340.3 372.36 1340.65 366.92 1341 372.02 1341.35 365.14 1341.7 370.9 1342.05 365.15 1342.4 371.47 1342.7 364.73 1342.75 370.85 1343.1 365.19 1343.45 370.21 1343.8 366.19 1344.15 372.23 1344.5 364.82 1344.85 370 1345.2 366.4 1345.5 370.96 1345.55 364.8 1345.9 370.87 1346.1 365.2 1346.25 366.68 1346.5 353.09 1346.6 358.53 1346.95 350.73 1347.3 353.29 1347.5 348.54 1347.65 352.45 1348 347.71 1348.35 350.75 1348.7 346 1349.05 349.8 1349.4 345.78 1349.5 351.43 1349.75 343.86 1350.1 349.52 1350.45 345.51 1350.8 349.41 1351.15 344.39 1351.5 350.64 1351.85 344.08 1352.2 350.67 1352.5 345.23 1352.55 348.86 1352.9 344.07 1353.25 349.86 1353.6 345.58 1353.95 350.35 1354.3 344.96 1354.65 350.46 1355 344.19 1355.35 349.76 1355.5 344 1355.7 350.48 1356.05 346.27 1356.4 352.97 1356.75 346.05 1357.1 352.33 1357.45 348.12 1357.5 352.63 1357.8 347.73 1358.15 355.62 1358.5 347.78 1358.85 357.94 1359 353.04 1359.2 359.48 1359.55 356.2 1359.9 360.67 1360.25 357.15 1360.5 365.52 1360.6 359.39 1360.95 364.73 1361.3 359.39 1361.65 366.8 1362 361.13 1362.35 367.45 1362.5 361.71 1362.7 367.24 1363.05 361.46 1363.4 368.53 1363.75 360.98 1364.1 367.44 1364.45 361.91 1364.8 368.53 1365.15 363.26 1365.5 369.1 1365.85 363.07 1366.2 369.68 1366.55 362.81 1366.9 369.83 1367.25 362.69 1367.6 368.34 1367.95 363.17 1368.3 368.22 1368.65 363.1 1369 368.86 1369.35 364.95 1369.7 370.44 1370.05 363.85 1370.4 369.37 1370.5 364.32 1370.75 369.78 1371.1 365.48 1371.45 369.94 1371.8 364.91 1372.15 373.51 1372.5 365.35 1372.85 370.71 1373.2 366.07 1373.55 369.76 1373.9 365.41 1374.25 371.37 1374.6 364.61 1374.95 371.08 1375.3 364.34 1375.65 369.8 1376 364.86 1376.35 370.01 1376.7 364.75 1377.05 370.87 1377.4 365.07 1377.5 372.08 1377.75 364.93 1378.1 371.71 1378.45 364.46 1378.8 371.48 1379.15 366.73 1379.5 371.12 1379.85 366.82 1380.2 372.09 1380.55 365.08 1380.9 370.55 1381.25 366.53 1381.6 372.16 1381.95 365.76 1382.3 371.63 1382.65 366.08 1383 371.52 1383.35 366.34 1383.7 370.57 1384.05 365.77 1384.4 370.46 1384.75 367.18 1385.1 372.35 1385.45 365.72 1385.8 371.88 1386.15 365.96 1386.5 372.01 1386.85 366.21 1387.2 370.7 1387.55 365.8 1387.9 370.38 1388.25 366.59 1388.6 370.31 1388.95 367.45 1389.3 372.14 1389.65 366.87 1390 372.62 1390.35 366.84 1390.7 370.55 1391.05 365.93 1391.4 372.12 1391.75 366.32 1392.1 371.19 1392.45 366.11 1392.8 372.86 1393.15 365.13 1393.5 371.78 1393.85 366.21 1394.2 372.03 1394.55 365.58 1394.9 370.92 1395.25 366.81 1395.5 372.74 1395.6 367.7 1395.95 372 1396.3 367.46 1396.65 372.03 1397 366.07 1397.35 372.14 1397.7 365.91 1398.05 372.4 1398.4 363.54 1398.75 370.68 1399.1 366.55 1399.45 371.97 1399.8 366.81 1400.15 371.2 1400.5 365.15 1400.85 372.37 1401.2 366.37 1401.55 371.97 1401.9 367.28 1402.25 371.36 1402.6 365.11 1402.95 371.89 1403.3 365.17 1403.65 371.69 1404 363.16 1404.35 371.14 1404.7 367.16 1405.05 371.76 1405.4 364.7 1405.5 371.27 1405.75 365.66 1406.1 371.46 1406.45 366.87 1406.8 370.12 1407.15 366.58 1407.5 371.58 1407.85 366.59 1408.1 371.7 1408.2 366.3 1408.55 370.75 1408.7 366.49 1408.9 366.23 1409.1 354.83 1409.25 359.02 1409.6 351.57 1409.95 352.84 1410.1 347.37 1410.3 351.2 1410.65 345.75 1411 350.66 1411.35 344.97 1411.7 349.02 1412.05 344.18 1412.1 348.76 1412.4 342.92 1412.75 349.74 1413.1 344.3 1413.45 348.19 1413.8 343.85 1414.15 350.59 1414.5 343.8 1414.85 349.62 1415.1 342.61 1415.2 349.53 1415.55 342.69 1415.9 349.41 1416.25 344.59 1416.6 350.32 1416.95 343.08 1417.3 349.19 1417.65 345.03 1418 350.45 1418.1 345.82 1418.35 350.53 1418.7 345.09 1419.05 351.47 1419.4 347.42 1419.75 352.77 1420.1 347.97 1420.45 353.16 1420.8 350.36 1421.15 357.06 1421.5 352.13 1421.6 357.39 1421.85 353.39 1422.2 359.56 1422.55 357.67 1422.9 364.03 1423.1 359.22 1423.25 363.18 1423.6 359.56 1423.95 364.72 1424.3 359.58 1424.65 365.57 1425 360.27 1425.1 367.88 1425.35 362.23 1425.7 366.17 1426.05 362.34 1426.4 368.18 1426.75 362.66 1427.1 368.34 1427.45 361.54 1427.8 369.16 1428.1 362.77 1428.15 367.21 1428.5 361.89 1428.85 369.89 1429.2 362.62 1429.55 368.91 1429.9 363.37 1430.25 367.98 1430.6 363.19 1430.95 368.96 1431.3 362.93 1431.65 370.72 1432 364.22 1432.35 369.18 1432.7 364.91 1433.05 369.3 1433.1 364.5 1433.4 369.52 1433.75 364.41 1434.1 369.67 1434.45 365.69 1434.8 369.02 1435.15 364.5 1435.5 370.16 1435.85 365.16 1436.2 369.37 1436.55 365.32 1436.9 370.42 1437.25 364.27 1437.6 372.01 1437.95 366.28 1438.3 370.49 1438.65 364.44 1439 370.4 1439.35 364.17 1439.7 371.32 1440.05 365.57 1440.1 371.05 1440.4 365.12 1440.75 371.59 1441.1 366.68 1441.45 371.61 1441.8 365.43 1442.15 370.53 1442.5 365.54 1442.85 370.77 1443.2 365.17 1443.55 371.78 1443.9 364.41 1444.25 370.58 1444.6 365.12 1444.95 371.82 1445.3 366.44 1445.65 370.19 1446 364.8 1446.35 370.76 1446.7 367.11 1447.05 373.41 1447.4 366.91 1447.75 372.42 1448.1 366.83 1448.45 370.45 1448.8 367.17 1449.15 372.03 1449.5 367.1 1449.85 371.17 1450.2 365.65 1450.55 370.27 1450.9 364.89 1451.25 372.07 1451.6 365.76 1451.95 371.77 1452.3 367.13 1452.65 372.61 1453 365.8 1453.35 371.04 1453.7 366.38 1454.05 372.76 1454.4 365.46 1454.75 372.32 1455.1 366.39 1455.45 371.91 1455.8 365.6 1456.15 372.44 1456.5 366.13 1456.85 371.02 1457.2 365.2 1457.55 370.8 1457.9 366.6 1458.1 372.67 1458.25 367.78 1458.6 371.94 1458.95 367.56 1459.3 372.65 1459.65 367.09 1460 372.68 1460.35 367.22 1460.7 372.87 1461.05 366.08 1461.4 370.77 1461.75 367 1462.1 371.74 1462.45 366.62 1462.8 370.97 1463.15 366.06 1463.5 370.82 1463.85 366.88 1464.2 370.49 1464.55 367.26 1464.9 370.54 1465.25 365.85 1465.6 372.38 1465.95 366.83 1466.3 370.45 1466.65 364.98 1467 370.88 1467.35 365.79 1467.7 372.34 1468.05 367.19 1468.1 370.07 1468.4 366.81 1468.75 370.3 1469.1 367.03 1469.45 372.02 1469.8 366.19 1470.15 372.29 1470.5 365.13 1470.85 371.22 1471.2 364.96 1471.55 370.4 1471.8 366.61 1471.9 368.55 1472.2 353.9 1472.25 360.2 1472.6 351.96 1472.95 353.74 1473.2 348.44 1473.3 352.79 1473.65 347.04 1474 354.55 1474.35 345.89 1474.7 351.37 1475.05 346.56 1475.2 349.5 1475.4 344.38 1475.75 349.48 1476.1 345.12 1476.45 351.74 1476.8 344.11 1477.15 351.41 1477.5 344.23 1477.85 351.1 1478.2 343.96 1478.55 349.5 1478.9 345.8 1479.25 350.37 1479.6 345.28 1479.95 351.6 1480.3 344.67 1480.65 351.39 1481 344.44 1481.2 350.88 1481.35 346.65 1481.7 351.37 1482.05 346.72 1482.4 355.7 1482.75 348.13 1483.1 353.54 1483.2 347.11 1483.45 353.92 1483.8 350.03 1484.15 357.86 1484.5 351.65 1484.7 357.82 1484.85 354.84 1485.2 359.98 1485.55 356.96 1485.9 364.69 1486.2 359.15 1486.25 363.42 1486.6 360.42 1486.95 365.83 1487.3 360.86 1487.65 365.5 1488 361.61 1488.2 369.7 1488.35 362.05 1488.7 367.5 1489.05 362.03 1489.4 367.32 1489.75 361.55 1490.1 367.54 1490.45 363.85 1490.8 369.09 1491.15 363.7 1491.2 369.44 1491.5 362.91 1491.85 369.43 1492.2 363.2 1492.55 369.54 1492.9 364.88 1493.25 368 1493.6 362.77 1493.95 369.09 1494.3 364.95 1494.65 370.39 1495 363.34 1495.35 369.22 1495.7 364.56 1496.05 369.86 1496.2 363.48 1496.4 370.41 1496.75 365.53 1497.1 370.05 1497.45 365.51 1497.8 370.38 1498.15 365.77 1498.5 370.06 1498.85 364.24 1499.2 370.7 1499.55 365.67 1499.9 369.4 1500.25 364.45 1500.6 371.63 1500.95 365.68 1501.3 369.44 1501.65 365.61 1502 369.51 1502.35 365.85 1502.7 369.74 1503.05 364.26 1503.2 372.65 1503.4 365.82 1503.75 372.12 1504.1 366.18 1504.45 371.44 1504.8 365.65 1505.15 369.9 1505.5 364.87 1505.85 370.61 1506.2 364.36 1506.55 371.47 1506.9 365.75 1507.25 370.81 1507.6 366.98 1507.95 372.18 1508.3 365.03 1508.65 371.2 1509 365.56 1509.35 371.19 1509.7 365.88 1510.05 370.44 1510.4 364.82 1510.75 371.29 1511.1 366.28 1511.45 371.69 1511.8 366.07 1512.15 370.62 1512.5 365.25 1512.85 372.5 1513.2 366.91 1513.55 371.22 1513.9 365.31 1514.25 372.68 1514.6 366.74 1514.95 372.73 1515.3 365.56 1515.65 371.92 1516 365.87 1516.35 371.07 1516.7 366.44 1517.05 371.58 1517.4 367.53 1517.75 371.31 1518.1 367.37 1518.45 372.57 1518.8 365.91 1519.15 372.3 1519.5 365.54 1519.85 370.59 1520.2 366.75 1520.55 372.35 1520.9 366.49 1521.2 370.78 1521.25 366.68 1521.6 371.68 1521.95 365.7 1522.3 371.17 1522.65 366.54 1523 372.79 1523.35 365.77 1523.7 372.77 1524.05 367.29 1524.4 371.61 1524.75 366.61 1525.1 372.32 1525.45 366.3 1525.8 372.58 1526.15 364.37 1526.5 371.18 1526.85 365.44 1527.2 371.01 1527.55 366.36 1527.9 372.4 1528.25 366.33 1528.6 370.41 1528.95 367.15 1529.3 372.48 1529.65 363.67 1530 371.83 1530.35 366.26 1530.7 370.6 1531.05 366.75 1531.2 371.61 1531.4 366.14 1531.75 371.27 1532.1 365.61 1532.45 371.04 1532.8 366.32 1533.15 371.45 1533.5 365.52 1533.85 371.93 1534 366.63 1534.2 371.74 1534.55 366.87 1534.6 371.23 1534.9 356.65 1535 359.29 1535.25 352.61 1535.6 355.6 1535.95 347.51 1536 355.24 1536.3 348.82 1536.65 352.92 1537 346.74 1537.35 351.76 1537.7 347.29 1538 352.57 1538.05 346.39 1538.4 352.38 1538.75 346.84 1539.1 352.67 1539.45 346.34 1539.8 351.74 1540.15 347.01 1540.5 350.4 1540.85 346.65 1541 351.84 1541.2 344.78 1541.55 352.21 1541.9 342.8 1542.25 353.37 1542.6 344.98 1542.95 351.92 1543.3 346.09 1543.65 351.44 1544 346.36 1544.35 351.43 1544.7 348.19 1545.05 354.11 1545.4 349.2 1545.75 352.67 1546 349.39 1546.1 354.06 1546.45 350.71 1546.8 356.56 1547.15 351.58 1547.5 358.3 1547.85 355.6 1548.2 362.19 1548.55 357.77 1548.9 364.38 1549 358.37 1549.25 365.69 1549.6 360.44 1549.95 366.53 1550.3 359.84 1550.65 366.92 1551 362.49 1551.35 368.07 1551.7 363.38 1552.05 368.46 1552.4 361.85 1552.75 367.24 1553.1 362.24 1553.45 367.92 1553.8 362.99 1554 369.67 1554.15 364.39 1554.5 369.46 1554.85 364.12 1555.2 370.17 1555.55 364.54 1555.9 370.13 1556.25 364.38 1556.6 369.9 1556.95 363.13 1557.3 369.56 1557.65 363.64 1558 369.44 1558.35 363.32 1558.7 369.14 1559 364.33 1559.05 369.43 1559.4 366.04 1559.75 369.41 1560.1 365.73 1560.45 370.14 1560.8 365.41 1561.15 371.05 1561.5 364.87 1561.85 369.49 1562.2 365.09 1562.55 370.36 1562.9 364.55 1563.25 370.07 1563.6 365.12 1563.95 371.72 1564.3 364.4 1564.65 373.71 1565 363.82 1565.35 371.33 1565.7 364.93 1566 370.37 1566.05 366.7 1566.4 371.6 1566.75 366.68 1567.1 372.09 1567.45 366.21 1567.8 370.61 1568.15 366.86 1568.5 371.5 1568.85 365.01 1569.2 370.96 1569.55 365 1569.9 371.91 1570.25 365.24 1570.6 371.65 1570.95 366.58 1571.3 371.49 1571.65 366.95 1572 371.08 1572.35 366.79 1572.7 372.36 1573.05 365.78 1573.4 370.58 1573.75 367.2 1574.1 372.4 1574.45 366.37 1574.8 372.67 1575.15 366.71 1575.5 371.1 1575.85 364.97 1576.2 371.45 1576.55 367.13 1576.9 370.61 1577.25 366.98 1577.6 372.1 1577.95 364.94 1578.3 371.31 1578.65 365.53 1579 370.97 1579.35 365.28 1579.7 372.37 1580.05 365.08 1580.4 372.71 1580.75 366.17 1581.1 371.06 1581.45 367.27 1581.8 371.67 1582.15 367.4 1582.5 372.85 1582.85 366.33 1583.2 371.32 1583.55 366.19 1583.9 371.52 1584 365.81 1584.25 370.84 1584.6 365.56 1584.95 371.97 1585.3 365.97 1585.65 372.9 1586 366.65 1586.35 371.02 1586.7 365.09 1587.05 372.09 1587.4 365.1 1587.75 371.75 1588.1 365.92 1588.45 371.4 1588.8 366.28 1589.15 372.39 1589.5 366.74 1589.85 372.74 1590.2 367.35 1590.55 371.17 1590.9 366.56 1591.25 370.4 1591.6 365.91 1591.95 372.7 1592.3 365.76 1592.65 372.47 1593 365.36 1593.35 371.24 1593.7 366.4 1594 372.6 1594.05 365.04 1594.4 371.81 1594.75 366.3 1595.1 370.31 1595.45 366.36 1595.8 370.15 1596.15 365.76 1596.5 370.49 1596.85 365.33 1597.1 370.34 1597.2 365.01 1597.55 372.1 1597.7 366.55 1597.9 366.25 1598.1 355.53 1598.25 359.73 1598.6 352.58 1598.95 354.71 1599.1 348.25 1599.3 354.47 1599.65 348.39 1600 354.32 1600.35 347.58 1600.7 352.39 1601.05 346.53 1601.1 352.9 1601.4 347.05 1601.75 350.41 1602.1 346.54 1602.45 350.76 1602.8 346.35 1603.15 352.37 1603.5 346.65 1603.85 351.48 1604.1 345.79 1604.2 350.86 1604.55 346.12 1604.9 351.39 1605.25 346.15 1605.6 352.02 1605.95 345.7 1606.3 352.21 1606.65 346.13 1607 352.2 1607.1 346.76 1607.35 351.25 1607.7 347.65 1608.05 354.34 1608.4 348.56 1608.75 354.69 1609.1 347.55 1609.45 355.01 1609.8 350.95 1610.15 358.19 1610.5 353.54 1610.6 360.39 1610.85 354.58 1611.2 362.66 1611.55 356.6 1611.9 364.96 1612.1 359.06 1612.25 365.19 1612.6 360.41 1612.95 366.95 1613.3 361.85 1613.65 367.04 1614 360.81 1614.1 367.12 1614.35 362.21 1614.7 367.19 1615.05 361.82 1615.4 367.64 1615.75 362.18 1616.1 369.49 1616.45 363.72 1616.8 368.6 1617.1 362.1 1617.15 369.7 1617.5 360.08 1617.85 370.07 1618.2 362.5 1618.55 370.04 1618.9 363.55 1619.25 369.36 1619.6 363.72 1619.95 370.4 1620.3 364.62 1620.65 369.72 1621 364.6 1621.35 368.7 1621.7 365.51 1622.05 370.05 1622.1 364.2 1622.4 371.03 1622.75 363.98 1623.1 369.9 1623.45 365.47 1623.8 371.27 1624.15 365.23 1624.5 369.78 1624.85 364.5 1625.2 370.43 1625.55 364.32 1625.9 370.35 1626.25 365.13 1626.6 373.12 1626.95 365.29 1627.3 370.15 1627.65 366.52 1628 369.64 1628.35 365.91 1628.7 371.66 1629.05 366.03 1629.1 370.01 1629.4 365.83 1629.75 370.88 1630.1 366.24 1630.45 370.78 1630.8 366.2 1631.15 371.14 1631.5 365.1 1631.85 370.25 1632.2 366.05 1632.55 372.13 1632.9 365.7 1633.25 370.84 1633.6 366.95 1633.95 371.8 1634.3 364.69 1634.65 372.24 1635 365.52 1635.35 370.36 1635.7 364.65 1636.05 370.72 1636.4 365.65 1636.75 371.03 1637.1 364.92 1637.45 372.29 1637.8 365.25 1638.15 370.16 1638.5 365.96 1638.85 371.82 1639.2 365.24 1639.55 371.44 1639.9 366.96 1640.25 370.55 1640.6 366.33 1640.95 371.94 1641.3 365.1 1641.65 371.18 1642 366.74 1642.35 371.17 1642.7 367.16 1643.05 372.47 1643.4 366.95 1643.75 371.54 1644.1 366.61 1644.45 370.69 1644.8 365.22 1645.15 370.82 1645.5 365.45 1645.85 371.44 1646.2 365.33 1646.55 372.78 1646.9 366.6 1647.1 372.25 1647.25 367.27 1647.6 370.81 1647.95 365.19 1648.3 371.61 1648.65 367.69 1649 372.45 1649.35 367.29 1649.7 370.85 1650.05 365.11 1650.4 371.89 1650.75 365.63 1651.1 371.04 1651.45 366.35 1651.8 370.73 1652.15 366.41 1652.5 371.91 1652.85 365.97 1653.2 370.84 1653.55 364.97 1653.9 371.42 1654.25 365.19 1654.6 371.05 1654.95 365.87 1655.3 370.3 1655.65 366.58 1656 371.13 1656.35 365.41 1656.7 370.42 1657.05 366.27 1657.1 371.63 1657.4 366.13 1657.75 371.75 1658.1 365.8 1658.45 370.93 1658.8 366.13 1659.15 370.16 1659.3 366.01 1659.5 371.93 1659.85 364.94 1659.9 370.66 1660.2 356.12 1660.3 358.86 1660.55 353.32 1660.9 355.92 1661.25 347.74 1661.3 353.3 1661.6 346 1661.95 350.57 1662.3 346.73 1662.65 349.63 1663 343.62 1663.3 349.03 1663.35 344.49 1663.7 348.76 1664.05 344.71 1664.4 349.2 1664.75 342.88 1665.1 348.63 1665.45 342.88 1665.8 348.96 1666.15 342.77 1666.3 349.14 1666.5 343.26 1666.85 348.25 1667.2 343.69 1667.55 349.93 1667.9 344.84 1668.25 349.25 1668.6 345.52 1668.95 349.17 1669.3 344.44 1669.65 349.55 1670 345.74 1670.35 351.57 1670.7 346.85 1671.05 352.6 1671.3 347.97 1671.4 354 1671.75 348.09 1672.1 354.67 1672.45 351.75 1672.8 358.17 1673.15 353.38 1673.5 361.28 1673.85 355.85 1674.2 363.65 1674.3 359.56 1674.55 364.19 1674.9 359.35 1675.25 366.54 1675.6 361.39 1675.95 365.27 1676.3 360.79 1676.65 368.01 1677 361.41 1677.35 367.54 1677.7 361.72 1678.05 367.65 1678.4 362.72 1678.75 368.3 1679.1 362.28 1679.3 368.44 1679.45 363.81 1679.8 369.47 1680.15 362.42 1680.5 369.25 1680.85 361.51 1681.2 369.88 1681.55 364.45 1681.9 369.05 1682.25 363.06 1682.6 369.09 1682.95 364.41 1683.3 369.1 1683.65 363.45 1684 370.85 1684.3 364.26 1684.35 369.26 1684.7 364.08 1685.05 370.98 1685.4 365.19 1685.75 369.84 1686.1 365.98 1686.45 369.31 1686.8 365.75 1687.15 371.27 1687.5 364.99 1687.85 370.91 1688.2 365.97 1688.55 371.3 1688.9 365.83 1689.25 371.69 1689.6 364.95 1689.95 371.34 1690.3 366.52 1690.65 371.93 1691 365.72 1691.3 370.06 1691.35 364.67 1691.7 369.79 1692.05 366.55 1692.4 370.26 1692.75 366.68 1693.1 371.67 1693.45 364.5 1693.8 372.27 1694.15 365.41 1694.5 372.27 1694.85 366.93 1695.2 371.84 1695.55 366.43 1695.9 371.53 1696.25 366.32 1696.6 372.26 1696.95 365.13 1697.3 371.8 1697.65 364.67 1698 370.94 1698.35 365.09 1698.7 370.66 1699.05 366.68 1699.4 372.09 1699.75 365.92 1700.1 371.29 1700.45 367.07 1700.8 370.92 1701.15 364.99 1701.5 372.67 1701.85 366.4 1702.2 371.89 1702.55 367.21 1702.9 371.05 1703.25 367.21 1703.6 371.73 1703.95 367.36 1704.3 370.77 1704.65 362.92 1705 372.11 1705.35 365.55 1705.7 372.94 1706.05 364.06 1706.4 371.68 1706.75 367.34 1707.1 372.83 1707.45 365.65 1707.8 372.95 1708.15 366.43 1708.5 371.88 1708.85 367.71 1709.2 371.27 1709.3 365.26 1709.55 372.07 1709.9 367.33 1710.25 370.98 1710.6 367.39 1710.95 373.05 1711.3 365.92 1711.65 370.72 1712 365.17 1712.35 371.85 1712.7 366.81 1713.05 371.65 1713.4 365.51 1713.75 372.22 1714.1 367.18 1714.45 372.24 1714.8 367.07 1715.15 372.19 1715.5 366.24 1715.85 370.55 1716.2 366.56 1716.55 372.47 1716.9 365.54 1717.25 371.84 1717.6 367.05 1717.95 370.73 1718.3 365.38 1718.65 371.48 1719 365.9 1719.3 370.92 1719.35 365.16 1719.7 372.1 1720.05 365.1 1720.4 370.71 1720.75 365.06 1721.1 370.35 1721.45 366.98 1721.8 370.43 1721.9 366.12 1722.15 371.22 1722.5 366.94 1722.85 366.05 1722.9 356.03 1723.2 358.9 1723.55 352.05 1723.9 355.78 1724.25 349.29 1724.6 353.91 1724.95 349.78 1725.3 353.97 1725.65 348.72 1725.9 354.72 1726 347.63 1726.35 354.55 1726.7 348.21 1727.05 353.08 1727.4 346.91 1727.75 352.64 1728.1 347.98 1728.45 354.29 1728.8 347.81 1728.9 353.22 1729.15 349.14 1729.5 353.06 1729.85 349.02 1730.2 353.38 1730.55 349.02 1730.9 354.55 1731.25 347.78 1731.6 353.85 1731.9 347.31 1731.95 354.03 1732.3 350.17 1732.65 354.96 1733 349.33 1733.35 354.9 1733.7 349.09 1733.9 354.78 1734.05 352.23 1734.4 357.46 1734.75 352.3 1735.1 358.81 1735.4 355.33 1735.45 359.88 1735.8 355.32 1736.15 362.37 1736.5 359.22 1736.85 364.2 1736.9 360.26 1737.2 365.4 1737.55 359.71 1737.9 365.25 1738.25 362.56 1738.6 366.34 1738.9 362.58 1738.95 367.57 1739.3 361.65 1739.65 368.08 1740 362.04 1740.35 368.75 1740.7 363.68 1741.05 369.29 1741.4 362.46 1741.75 368.6 1741.9 363.96 1742.1 370.09 1742.45 363.58 1742.8 370.28 1743.15 362.83 1743.5 370.18 1743.85 364.47 1744.2 368.78 1744.55 363.95 1744.9 370.15 1745.25 364.89 1745.6 369.33 1745.95 365.41 1746.3 370.47 1746.65 364.21 1746.9 369.73 1747 365.93 1747.35 370.92 1747.7 364.75 1748.05 371.22 1748.4 365.04 1748.75 371.22 1749.1 365.71 1749.45 370.84 1749.8 365.51 1750.15 370.34 1750.5 365.88 1750.85 370.08 1751.2 364.49 1751.55 370.45 1751.9 365.03 1752.25 370.32 1752.6 364.4 1752.95 370.26 1753.3 365.29 1753.65 369.83 1753.9 365.49 1754 370.18 1754.35 364.65 1754.7 371.53 1755.05 365.25 1755.4 370.56 1755.75 366.78 1756.1 371.15 1756.45 366.02 1756.8 370.25 1757.15 364.85 1757.5 371.88 1757.85 364.69 1758.2 372.42 1758.55 366.14 1758.9 370.67 1759.25 364.56 1759.6 372.1 1759.95 365.01 1760.3 370.77 1760.65 365.96 1761 370.31 1761.35 363.11 1761.7 371.33 1762.05 365.47 1762.4 372.01 1762.75 364.71 1763.1 370.53 1763.45 364.85 1763.8 370.85 1764.15 364.82 1764.5 371.06 1764.85 365.73 1765.2 370.23 1765.55 365.4 1765.9 372.4" stroke="#009E73" stroke-width="2" fill="none" stroke-linejoin="round"/>
<path d="M1031 369V383M1094 369V385M1156.7 369V383.8M1219.9 369V383.4M1283 369V381.8M1345.8 369V381.4M1408.4 369V383M1471.5 369V382.2M1534.3 369V382.7M1597.4 369V382.7M1659.6 369V382.2M1722.2 369V383.7" stroke="#009E73" stroke-width="2" fill="none"/>
<path d="M998 425.77 998.35 434.85 998.7 425.35 999.05 432.07 999.4 424.61 999.75 435.24 1000.1 426.33 1000.45 433.94 1000.8 427.99 1001.15 432.98 1001.5 425.25 1001.85 434.86 1002.2 425.79 1002.55 431.97 1002.9 427.28 1003.25 435.54 1003.6 426.99 1003.95 433.92 1004.3 427.29 1004.65 434.47 1005 424.79 1005.35 433.27 1005.7 426.02 1006.05 433.06 1006.4 428.03 1006.75 433.19 1007.1 425.06 1007.45 433.11 1007.8 422.76 1008.15 438.81 1008.5 425.31 1008.85 432.03 1009.2 426.71 1009.55 433.19 1009.9 427.38 1010.25 432.68 1010.6 424.66 1010.95 433.21 1011.3 426.13 1011.65 432.35 1012 425.14 1012.35 432.09 1012.7 427.71 1013.05 434.18 1013.4 426.8 1013.75 433.94 1014.1 426.89 1014.45 432.24 1014.8 425.53 1015.15 434.08 1015.5 424.45 1015.85 433.44 1016.2 425.88 1016.55 433.62 1016.9 427.84 1017.25 432.08 1017.6 424.99 1017.95 434.62 1018.3 425.75 1018.65 432.35 1019 427.5 1019.35 433.03 1019.7 424.4 1020.05 435.51 1020.4 426.26 1020.75 433.7 1021.1 426.57 1021.45 433.33 1021.8 424.55 1022.15 433.78 1022.5 427.72 1022.85 434.81 1023.2 426.72 1023.55 434.78 1023.9 425.62 1024.25 433.28 1024.6 427.02 1024.95 434.76 1025.3 426.97 1025.65 434.32 1026 428 1026.35 432.87 1026.7 426.35 1027.05 434.32 1027.4 426.77 1027.75 434.65 1028.1 426.77 1028.45 435.13 1028.8 424.49 1029.15 433.85 1029.5 427.44 1029.85 435.37 1030.2 425.55 1030.55 434.69 1030.9 425.32 1031.1 434.53 1031.25 425 1031.6 431.37 1031.9 423.19 1031.95 428.82 1032.3 422.5 1032.65 432.07 1033 421.59 1033.35 427.43 1033.7 422.16 1034.05 429.55 1034.4 421.64 1034.75 429.48 1035.1 422.47 1035.45 427.27 1035.8 422.34 1036.1 427.69 1036.15 420 1036.5 429.48 1036.85 421.32 1037.2 429.31 1037.55 420.28 1037.9 430.11 1038.25 421.87 1038.6 429.28 1038.95 419.68 1039.3 429.28 1039.65 416.74 1040 427.41 1040.35 420.83 1040.7 429.26 1041.05 421.66 1041.1 427.76 1041.4 419.34 1041.75 430.14 1042.1 420.38 1042.45 429.88 1042.8 420.71 1043.15 429.57 1043.5 420.86 1043.6 426.22 1043.85 419.9 1044.2 427.8 1044.55 420.51 1044.6 425.4 1044.9 418.43 1045.25 427.09 1045.6 419.52 1045.95 430.07 1046.3 422.41 1046.65 432.2 1047 423.62 1047.35 433.07 1047.7 426.94 1048.05 434.45 1048.1 426.24 1048.4 433.16 1048.75 427.63 1049.1 436.61 1049.45 429.59 1049.8 435.29 1050.15 427.42 1050.5 435.85 1050.85 428.95 1051.2 437.55 1051.55 429.63 1051.9 435.05 1052.1 428.46 1052.25 435.97 1052.6 427.74 1052.95 436.76 1053.3 429.34 1053.65 435.67 1054 425.34 1054.35 436.04 1054.7 428.45 1055.05 435.39 1055.4 427.86 1055.75 440.65 1056.1 428.45 1056.45 437.84 1056.8 429.02 1057.15 436.64 1057.5 431.16 1057.85 437.18 1058.2 427 1058.55 436.16 1058.9 430.3 1059.25 437.95 1059.6 428.79 1059.95 437.52 1060.3 429.85 1060.65 439.37 1061 431.82 1061.35 436.49 1061.7 430.17 1062.05 437.95 1062.4 431.04 1062.75 436.84 1063.1 430.11 1063.45 436.76 1063.8 429.29 1064.15 438.49 1064.5 431.65 1064.85 436.21 1065.2 429.79 1065.55 439.06 1065.9 430.76 1066.25 435.96 1066.6 431.73 1066.95 439.31 1067.3 431.11 1067.65 439.37 1068 428.92 1068.35 438.1 1068.7 431.04 1069.05 438.04 1069.4 430.48 1069.75 438.82 1070.1 428.94 1070.45 438.89 1070.8 429.7 1071.15 438.47 1071.5 430.11 1071.85 438.12 1072.2 428.6 1072.55 441.36 1072.9 430.11 1073.25 437.99 1073.6 430.12 1073.95 436.29 1074.3 430.44 1074.65 438.92 1075 430.87 1075.35 436.29 1075.7 430.92 1076.05 435.81 1076.4 430.42 1076.75 438.18 1077.1 430.04 1077.45 436.1 1077.8 430.68 1078.15 438.31 1078.5 429.38 1078.85 438.16 1079.2 430.26 1079.55 436.96 1079.9 430 1080.25 438.29 1080.6 431.1 1080.95 438.06 1081.3 429.33 1081.65 442.46 1082 431.45 1082.35 439.15 1082.7 429.67 1083.05 437.46 1083.4 429.93 1083.75 438.84 1084.1 425.01 1084.45 438.15 1084.8 428.14 1085.15 436.47 1085.5 428.66 1085.85 435.67 1086.2 430.95 1086.55 436.98 1086.9 431.28 1087.25 435.9 1087.6 428.23 1087.95 438.61 1088.3 431.5 1088.65 437.25 1089 430.19 1089.35 438.11 1089.7 430.43 1090.05 438.47 1090.4 431.11 1090.75 435.77 1091.1 428.54 1091.45 435.91 1091.8 430.62 1092.15 436.98 1092.5 428.89 1092.85 440.67 1093.2 430.76 1093.55 436.76 1093.9 429.94 1094.1 438.13 1094.25 428.21 1094.6 438.15 1094.7 429.85 1094.95 436.2 1095.3 425.05 1095.5 431.34 1095.65 425.04 1096 430.54 1096.35 425.38 1096.7 433.04 1097.05 423.46 1097.4 431.45 1097.75 425.67 1098.1 433.15 1098.45 423.82 1098.8 431.48 1099.15 422.85 1099.5 431.95 1099.7 423.23 1099.85 431.7 1100.2 423.19 1100.55 433.03 1100.9 425.19 1101.25 432.79 1101.6 423.89 1101.95 432.1 1102.3 423.38 1102.65 431.33 1103 422.2 1103.35 429.2 1103.7 424.89 1104.05 430.61 1104.4 423.43 1104.7 429.72 1104.75 422.72 1105.1 431.2 1105.45 423.05 1105.8 431.61 1106.15 420.81 1106.5 429.06 1106.85 420.44 1107.2 427.31 1107.55 422.36 1107.9 429.39 1108.2 418.84 1108.25 428.27 1108.6 420.46 1108.95 430.89 1109.2 422.36 1109.3 429.03 1109.65 422.18 1110 431.02 1110.35 425 1110.7 432.87 1111.05 425.29 1111.4 435.47 1111.7 427.72 1111.75 434.94 1112.1 427.35 1112.45 436.7 1112.8 429.75 1113.15 436.23 1113.5 427.72 1113.85 437.75 1114.2 425.23 1114.55 437.36 1114.9 427.34 1115.25 437.37 1115.6 428.39 1115.7 435.79 1115.95 427.85 1116.3 438.57 1116.65 427.63 1117 436.43 1117.35 428.71 1117.7 438.31 1118.05 429.67 1118.4 437.49 1118.75 428.46 1119.1 438.2 1119.45 429.94 1119.8 437.23 1120.15 430.44 1120.5 437.77 1120.85 430.84 1121.2 438.02 1121.55 428.44 1121.9 436.57 1122.25 427.82 1122.6 436.07 1122.95 427.62 1123.3 435.18 1123.65 429.11 1124 435.76 1124.35 429.02 1124.7 437.63 1125.05 430.98 1125.4 438.18 1125.75 430.07 1126.1 437.51 1126.45 430.42 1126.8 438.25 1127.15 430.91 1127.5 435.78 1127.85 430.75 1128.2 435.62 1128.55 428.65 1128.9 438.18 1129.25 427.98 1129.6 437.56 1129.95 431 1130.3 435.54 1130.65 430.03 1131 437.8 1131.35 431.11 1131.7 437.33 1132.05 431.01 1132.4 436.74 1132.75 429.66 1133.1 442.08 1133.45 428.72 1133.8 436.5 1134.15 429.77 1134.5 438.13 1134.85 430.14 1135.2 437.28 1135.55 428.69 1135.9 436.57 1136.25 428.49 1136.6 435.7 1136.95 430.74 1137.3 435.8 1137.65 431.28 1138 439.14 1138.35 430.25 1138.7 435.92 1139.05 425.78 1139.4 438.39 1139.75 431.64 1140.1 437.3 1140.45 427.54 1140.8 436.45 1141.15 430.13 1141.5 435.99 1141.85 428.29 1142.2 439.83 1142.55 430.36 1142.9 437.31 1143.25 428.53 1143.6 440.63 1143.95 431.75 1144.3 437.27 1144.65 428.86 1145 437.17 1145.35 429.13 1145.7 436.36 1146.05 430.37 1146.4 439.46 1146.75 430.4 1147.1 437.57 1147.45 429.53 1147.8 436.5 1148.15 431.71 1148.5 439.18 1148.85 429.68 1149.2 438.95 1149.55 429.84 1149.9 436.82 1150.25 425.41 1150.6 436.65 1150.95 431.1 1151.3 437.36 1151.65 431.54 1152 439.58 1152.35 431.79 1152.7 438.39 1153.05 430.8 1153.4 438.19 1153.75 431.29 1154.1 437.05 1154.45 429.53 1154.8 437.87 1155.15 432.18 1155.5 437.67 1155.85 430.01 1156.2 436.37 1156.55 432.12 1156.9 439.38 1157.25 431.2 1157.6 438.6 1157.7 430.95 1157.95 438.82 1158.3 428.86 1158.4 437.34 1158.65 424.16 1159 434.14 1159.2 425.42 1159.35 434.62 1159.7 425.3 1160.05 431.7 1160.4 425.44 1160.75 431.89 1161.1 426.97 1161.45 432.32 1161.8 423.6 1162.15 432.02 1162.5 424.37 1162.85 433.97 1163.2 425.59 1163.4 431.8 1163.55 423.77 1163.9 434.09 1164.25 424.87 1164.6 433.4 1164.95 425.5 1165.3 433.59 1165.65 420.36 1166 432.62 1166.35 423.87 1166.7 432.58 1167.05 422.92 1167.4 430.47 1167.75 424.55 1168.1 431.8 1168.4 422.91 1168.45 430.3 1168.8 422.86 1169.15 432.39 1169.5 422.61 1169.85 432.01 1170.2 421.85 1170.55 429.42 1170.9 423.78 1171.25 428.89 1171.6 420.48 1171.9 428.74 1171.95 421.03 1172.3 428.71 1172.65 422.67 1172.9 431.81 1173 425.5 1173.35 432.53 1173.7 424.31 1174.05 434.7 1174.4 426.3 1174.75 434.92 1175.1 429.77 1175.4 438.55 1175.45 429.12 1175.8 438.95 1176.15 428.89 1176.5 436.13 1176.85 428.91 1177.2 436.22 1177.55 430.87 1177.9 438.96 1178.25 431.06 1178.6 438.35 1178.95 430.23 1179.3 443.14 1179.4 431.92 1179.65 440.38 1180 429.78 1180.35 437.32 1180.7 430.52 1181.05 438.97 1181.4 432.59 1181.75 440.28 1182.1 431.25 1182.45 439.65 1182.8 430.96 1183.15 440.42 1183.5 431.3 1183.85 438.8 1184.2 431.3 1184.55 438.64 1184.9 431.44 1185.25 440.08 1185.6 429.85 1185.95 438.69 1186.3 429.35 1186.65 438.29 1187 430.65 1187.35 437.68 1187.7 431.78 1188.05 439.38 1188.4 432.19 1188.75 439.11 1189.1 432.28 1189.45 437.04 1189.8 432.29 1190.15 438.78 1190.5 432 1190.85 436.88 1191.2 431.64 1191.55 436.66 1191.9 432.08 1192.25 437.66 1192.6 430.17 1192.95 439.59 1193.3 431.44 1193.65 439.57 1194 430.91 1194.35 439.9 1194.7 430.03 1195.05 441.73 1195.4 428.95 1195.75 439.39 1196.1 430.82 1196.45 438.71 1196.8 429.66 1197.15 438.82 1197.5 429.39 1197.85 440.25 1198.2 429.38 1198.55 442.22 1198.9 430.28 1199.25 436.57 1199.6 428.65 1199.95 436.97 1200.3 429.8 1200.65 438.42 1201 429.37 1201.35 438.44 1201.7 429.4 1202.05 437.6 1202.4 429.4 1202.75 438.16 1203.1 430.43 1203.45 436.18 1203.8 428.96 1204.15 437.43 1204.5 429.2 1204.85 437.56 1205.2 429.04 1205.55 440.08 1205.9 429.04 1206.25 438.1 1206.6 429.66 1206.95 438.9 1207.3 431.8 1207.65 439.38 1208 431.6 1208.35 436.11 1208.7 431.49 1209.05 435.73 1209.4 430.69 1209.75 437.1 1210.1 428.28 1210.45 438.16 1210.8 430.25 1211.15 439.18 1211.5 430.03 1211.85 438.12 1212.2 429.17 1212.55 438.73 1212.9 428.74 1213.25 437.94 1213.6 428.39 1213.95 437.12 1214.3 430.38 1214.65 437.96 1215 430.84 1215.35 438.5 1215.7 431.17 1216.05 436.73 1216.4 428.63 1216.75 435.93 1217.1 429.66 1217.45 437.36 1217.8 428.38 1218.15 441.89 1218.5 429.34 1218.85 435.51 1219.2 428.6 1219.55 438.19 1219.9 427.99 1220.25 437.19 1220.6 429.75 1220.95 438.2 1221.3 430.2 1221.4 435.44 1221.65 430.46 1222 437.32 1222.35 428.57 1222.6 436.3 1222.7 427.75 1223.05 434.77 1223.4 424.29 1223.75 432.38 1224.1 421.18 1224.45 431.8 1224.8 424.34 1225.15 430.83 1225.5 425.58 1225.85 430.59 1226.2 425.4 1226.55 432.98 1226.9 425.26 1227.25 432.92 1227.6 424.25 1227.95 431.82 1228.3 424.97 1228.65 430.36 1229 423.51 1229.35 429.21 1229.7 423.95 1230.05 431.82 1230.4 423.56 1230.75 431.73 1231.1 423.01 1231.45 430.72 1231.8 422.93 1232.15 429.91 1232.5 423.2 1232.6 430.4 1232.85 423.49 1233.2 433.27 1233.55 423.28 1233.9 433.82 1234.25 422.93 1234.6 427.96 1234.95 422.65 1235.1 427.19 1235.3 419.85 1235.65 428.86 1236 419.04 1236.1 425.7 1236.35 420.59 1236.7 426.94 1237.05 422.12 1237.1 430.94 1237.4 422.82 1237.75 432.54 1238.1 423.03 1238.45 432.09 1238.8 426.63 1239.15 435.33 1239.5 427.84 1239.6 434.5 1239.85 427.41 1240.2 433.23 1240.55 426.9 1240.9 435.16 1241.25 427.7 1241.6 436.4 1241.95 428.53 1242.3 434.39 1242.65 429.83 1243 435.03 1243.35 430.07 1243.6 437.83 1243.7 429.51 1244.05 434.33 1244.4 429.58 1244.75 435.32 1245.1 430.01 1245.45 437.78 1245.8 426.87 1246.15 436.97 1246.5 429.57 1246.85 434.33 1247.2 427.54 1247.55 434.1 1247.9 427.04 1248.25 436.69 1248.6 426.78 1248.95 435.4 1249.3 427.25 1249.65 434.92 1250 429.6 1250.35 434.87 1250.7 426.57 1251.05 437.02 1251.4 427.91 1251.75 435.42 1252.1 427.77 1252.45 436.88 1252.8 428.04 1253.15 436.14 1253.5 430.08 1253.85 434.86 1254.2 427.69 1254.55 435.06 1254.9 429.37 1255.25 434.48 1255.6 427.57 1255.95 435.83 1256.3 427.85 1256.65 434.36 1257 428.46 1257.35 434.43 1257.7 428.91 1258.05 435.99 1258.4 429.08 1258.75 436.31 1259.1 429.06 1259.45 435.83 1259.8 427.86 1260.15 435.75 1260.5 429.51 1260.85 440.73 1261.2 428.41 1261.55 434.27 1261.9 429.65 1262.25 440.64 1262.6 428.97 1262.95 438.99 1263.3 429.43 1263.65 437.45 1264 429.34 1264.35 435.97 1264.7 427.86 1265.05 435.95 1265.4 427.49 1265.75 438.97 1266.1 428.47 1266.45 435.44 1266.8 428.98 1267.15 436.48 1267.5 426.96 1267.85 436.84 1268.2 429.5 1268.55 439.06 1268.9 427.61 1269.25 436.07 1269.6 427.74 1269.95 436 1270.3 428.77 1270.65 437.91 1271 427.79 1271.35 434.62 1271.7 428.03 1272.05 437.2 1272.4 429.88 1272.75 436.58 1273.1 426.94 1273.45 440.35 1273.8 428.88 1274.15 437.81 1274.5 429.23 1274.85 436.31 1275.2 428.14 1275.55 436.99 1275.9 428.68 1276.25 436.79 1276.6 430.3 1276.95 435.57 1277.3 430.34 1277.65 437.8 1278 429.42 1278.35 435.31 1278.7 428.45 1279.05 436.18 1279.4 429.59 1279.75 434.46 1280.1 430 1280.45 437.26 1280.8 429.26 1281.15 435.55 1281.5 428.82 1281.85 436.4 1282.2 430.05 1282.55 434.89 1282.9 427.8 1283.25 437.69 1283.6 423.91 1283.95 437.78 1284.3 430.6 1284.65 438.14 1285 427.94 1285.35 434.57 1285.6 428.94 1285.7 437.86 1286.05 427.05 1286.3 435.67 1286.4 428.47 1286.75 433.41 1287.1 422.21 1287.45 430.66 1287.8 424.7 1288.15 429.85 1288.5 421.89 1288.85 431.31 1289.2 423 1289.55 430.66 1289.9 425.26 1290.25 432.79 1290.6 422.84 1290.95 430.03 1291.3 423.43 1291.65 432.19 1292 424.85 1292.35 432.2 1292.7 423.91 1293.05 428.99 1293.4 421.43 1293.75 428.88 1294.1 421.67 1294.45 429.33 1294.8 424.35 1295.15 429.1 1295.5 421.2 1295.85 430.1 1296.2 423.84 1296.3 431.38 1296.55 420.94 1296.9 431.45 1297.25 420.39 1297.6 430.88 1297.95 423.08 1298.3 429.45 1298.65 417.8 1298.8 428.04 1299 421.93 1299.35 427.84 1299.7 420.55 1299.8 428.74 1300.05 419.26 1300.4 426.91 1300.75 423.41 1300.8 430.5 1301.1 422.31 1301.45 431.88 1301.8 425.4 1302.15 432.63 1302.5 424.19 1302.85 433.62 1303.2 428.19 1303.3 435.14 1303.55 426.31 1303.9 433.75 1304.25 429 1304.6 435.16 1304.95 428.97 1305.3 435.96 1305.65 427.87 1306 437.85 1306.35 427.74 1306.7 436.94 1307.05 428.02 1307.3 435.62 1307.4 428.91 1307.75 437.42 1308.1 428.35 1308.45 435.02 1308.8 429.72 1309.15 437.41 1309.5 428.48 1309.85 438.56 1310.2 428.93 1310.55 436.02 1310.9 428.85 1311.25 435.5 1311.6 430.04 1311.95 437.7 1312.3 430.14 1312.65 438.6 1313 429.41 1313.35 437.44 1313.7 430.87 1314.05 437.19 1314.4 427.61 1314.75 438.2 1315.1 429.38 1315.45 436.83 1315.8 428.44 1316.15 435.58 1316.5 429.31 1316.85 437.15 1317.2 429.15 1317.55 435.65 1317.9 429.99 1318.25 438.16 1318.6 428.51 1318.95 435.7 1319.3 430.52 1319.65 437.77 1320 431.32 1320.35 438.13 1320.7 427.76 1321.05 437.94 1321.4 429.25 1321.75 436.13 1322.1 429.17 1322.45 437.51 1322.8 429.04 1323.15 436.82 1323.5 428.94 1323.85 435.49 1324.2 430.14 1324.55 437.76 1324.9 428.49 1325.25 436.67 1325.6 429.01 1325.95 441.77 1326.3 429.55 1326.65 438.64 1327 428.59 1327.35 438.86 1327.7 429.13 1328.05 439.08 1328.4 430.15 1328.75 440.65 1329.1 428.49 1329.45 436.21 1329.8 429.79 1330.15 436.79 1330.5 430.28 1330.85 436.25 1331.2 428.43 1331.55 436.54 1331.9 428.37 1332.25 436.4 1332.6 428.2 1332.95 436.16 1333.3 426.86 1333.65 435.64 1334 430.79 1334.35 435.92 1334.7 429.29 1335.05 437.79 1335.4 428.89 1335.75 438.02 1336.1 428.79 1336.45 436.13 1336.8 425.77 1337.15 438.99 1337.5 428.71 1337.85 437.13 1338.2 429.06 1338.55 437.49 1338.9 430.54 1339.25 437.48 1339.6 428.3 1339.95 436.46 1340.3 429.25 1340.65 437.56 1341 430.93 1341.35 436.6 1341.7 429.96 1342.05 439.13 1342.4 428.63 1342.75 437.14 1343.1 430.84 1343.45 437.23 1343.8 428.45 1344.15 436.61 1344.5 431.42 1344.85 437.17 1345.2 429.57 1345.55 437.03 1345.9 431.55 1346.25 439.73 1346.6 430.18 1346.95 438.83 1347.3 428.99 1347.65 439.42 1348 428.74 1348.35 439.28 1348.7 430.18 1349.05 438.83 1349.3 428.95 1349.4 439.76 1349.75 431.2 1349.9 437.45 1350.1 430.92 1350.45 435.93 1350.7 424.7 1350.8 433.31 1351.15 424.29 1351.5 432.85 1351.85 425.09 1352.2 432.11 1352.55 425.26 1352.9 434.56 1353.25 420.26 1353.6 431.13 1353.95 423.9 1354.3 431.73 1354.65 425.94 1354.9 431.27 1355 426.1 1355.35 432.92 1355.7 423.65 1356.05 433.74 1356.4 423.91 1356.75 431.96 1357.1 425.02 1357.45 431.89 1357.8 424.03 1358.15 430.95 1358.5 423.33 1358.85 430.97 1359.2 424.41 1359.55 433.31 1359.9 424.95 1360.25 431.53 1360.6 422.11 1360.95 431.68 1361.3 421.89 1361.65 430.29 1362 422.74 1362.35 430.45 1362.4 423.82 1362.7 431.06 1363.05 422.38 1363.4 429.28 1363.75 422.87 1364.1 430.24 1364.4 422.4 1364.45 431.58 1364.8 424.06 1365.15 432.08 1365.5 427.52 1365.85 433.69 1366.2 427.96 1366.55 434.95 1366.9 431.03 1367.25 437.92 1367.6 430.74 1367.95 439.08 1368.3 429.16 1368.65 439.42 1369 428.76 1369.35 436.55 1369.7 429.73 1370.05 436.68 1370.4 429.22 1370.75 436.87 1370.9 429.18 1371.1 439.31 1371.45 430.49 1371.8 440.81 1372.15 432.29 1372.5 439.33 1372.85 432.3 1373.2 439.25 1373.55 431.17 1373.9 439.56 1374.25 430.23 1374.6 438.59 1374.95 431.2 1375.3 438.53 1375.65 430 1376 439.29 1376.35 431.68 1376.7 443.52 1377.05 430.68 1377.4 438.58 1377.75 429.85 1378.1 440.14 1378.45 430.1 1378.8 437.59 1379.15 430.91 1379.5 440.2 1379.85 430.58 1380.2 438.14 1380.55 431.04 1380.9 438.88 1381.25 430.47 1381.6 439.41 1381.95 431.65 1382.3 438.27 1382.65 431.56 1383 437.97 1383.35 431.76 1383.7 440.05 1384.05 431.42 1384.4 440.06 1384.75 432.03 1385.1 438.64 1385.45 432.14 1385.8 437.25 1386.15 430.69 1386.5 440.13 1386.85 430.43 1387.2 439.55 1387.55 429.68 1387.9 439.28 1388.25 430.28 1388.6 437.99 1388.95 431.48 1389.3 436.86 1389.65 431.67 1390 439.88 1390.35 431 1390.7 437.93 1391.05 431.12 1391.4 438.54 1391.75 429.2 1392.1 440.12 1392.45 432.37 1392.8 439.49 1393.15 429.99 1393.5 437.15 1393.85 431.96 1394.2 439.33 1394.55 431.57 1394.9 439.26 1395.25 431.04 1395.6 437.04 1395.95 429.41 1396.3 437.45 1396.65 431.03 1397 439.9 1397.35 429.54 1397.7 438.33 1398.05 432.13 1398.4 439.62 1398.75 429.72 1399.1 439.29 1399.45 429.82 1399.8 437.26 1400.15 429.17 1400.5 436.56 1400.85 428.9 1401.2 438.22 1401.55 430.21 1401.9 438.19 1402.25 429.26 1402.6 439.04 1402.95 431.75 1403.3 437.35 1403.65 428.99 1404 439.33 1404.35 428.9 1404.7 436.99 1405.05 429.83 1405.4 438.51 1405.75 430 1406.1 439.16 1406.45 427.86 1406.8 437.26 1407.15 430.76 1407.5 439.76 1407.85 430.3 1408.2 439.42 1408.55 430.77 1408.9 439.77 1409.25 431.76 1409.6 438.56 1409.95 429.76 1410.3 438.92 1410.65 427.69 1411 439.47 1411.35 429.49 1411.7 438.8 1412.05 430.25 1412.4 437.87 1412.75 431.96 1412.9 437 1413.1 431.01 1413.45 436.2 1413.7 432 1413.8 437.02 1414.15 427.81 1414.5 431.3 1414.85 427.1 1415.2 433.58 1415.55 426.38 1415.9 434.34 1416.25 426.5 1416.6 433.95 1416.95 424.4 1417.3 432.96 1417.65 424.97 1418 432.34 1418.35 423.07 1418.7 432.34 1419.05 424.65 1419.4 432.77 1419.75 425.56 1420.1 434.18 1420.45 424.87 1420.8 431.88 1421.15 424.36 1421.5 431.69 1421.85 423.75 1422.2 432.19 1422.55 423.14 1422.9 431.87 1423.25 423.78 1423.6 429.45 1423.7 423.77 1423.95 432.17 1424.3 422.14 1424.65 429.49 1425 424.13 1425.35 429.03 1425.7 423.69 1426.05 428.66 1426.2 421.72 1426.4 427.64 1426.75 421.12 1427.1 428.31 1427.2 419.37 1427.45 430 1427.8 419.93 1428.15 430.95 1428.2 422.12 1428.5 432.07 1428.85 425.04 1429.2 433.26 1429.55 424.61 1429.9 434.39 1430.25 426.27 1430.6 436.68 1430.7 428.38 1430.95 435.97 1431.3 427.57 1431.65 435.9 1432 426.82 1432.35 436.37 1432.7 430.1 1433.05 437.13 1433.4 430.51 1433.75 437.51 1434.1 429.91 1434.45 436.91 1434.7 428.15 1434.8 438.66 1435.15 430.1 1435.5 438.61 1435.85 430.19 1436.2 438.22 1436.55 430.66 1436.9 438.04 1437.25 428.2 1437.6 437.28 1437.95 431.09 1438.3 439.1 1438.65 431.02 1439 435.58 1439.35 430.05 1439.7 441.51 1440.05 430.42 1440.4 438.16 1440.75 430.6 1441.1 437.08 1441.45 427.92 1441.8 435.91 1442.15 430.45 1442.5 436.52 1442.85 428.08 1443.2 435.73 1443.55 428.9 1443.9 436.4 1444.25 431.22 1444.6 438.36 1444.95 429.74 1445.3 437.94 1445.65 430.02 1446 438.24 1446.35 429.07 1446.7 435.51 1447.05 428.16 1447.4 436.78 1447.75 430.32 1448.1 438.62 1448.45 427.83 1448.8 435.52 1449.15 428.03 1449.5 435.55 1449.85 428.07 1450.2 435.54 1450.55 430.71 1450.9 436.05 1451.25 431.19 1451.6 440.9 1451.95 429.49 1452.3 438.06 1452.65 428.08 1453 435.7 1453.35 431 1453.7 436.26 1454.05 430.2 1454.4 436.95 1454.75 429.44 1455.1 435.7 1455.45 429.27 1455.8 436.36 1456.15 430.47 1456.5 435.98 1456.85 430.48 1457.2 435.35 1457.55 429.19 1457.9 435.52 1458.25 430.02 1458.6 436.51 1458.95 428.42 1459.3 437.03 1459.65 427.02 1460 437.52 1460.35 427.77 1460.7 437.37 1461.05 430.03 1461.4 435.6 1461.75 429.21 1462.1 438.57 1462.45 430.29 1462.8 437.25 1463.15 427.85 1463.5 435.97 1463.85 430.29 1464.2 436.68 1464.55 430.56 1464.9 437.02 1465.25 428.1 1465.6 436.97 1465.95 429.78 1466.3 438.19 1466.65 428.7 1467 435.07 1467.35 428.05 1467.7 436.39 1468.05 430.8 1468.4 437.33 1468.75 429.29 1469.1 437.84 1469.45 430.24 1469.8 438.01 1470.15 428.9 1470.5 435.94 1470.85 429.85 1471.2 436.29 1471.55 427.36 1471.9 436.55 1472.25 427.63 1472.6 435.33 1472.95 429.91 1473.3 437.17 1473.65 430.79 1474 438.2 1474.35 428.17 1474.7 437.05 1475.05 430.13 1475.4 437.29 1475.75 428.73 1476.1 439.12 1476.45 427.4 1476.7 436.77 1476.8 429.31 1477.15 436.77 1477.5 429.12 1477.6 437.29 1477.85 427.92 1478.2 431.64 1478.4 424.58 1478.55 429.79 1478.9 423.94 1479.25 429.9 1479.6 422.59 1479.95 429.76 1480.3 422.65 1480.65 429.55 1481 422.02 1481.35 429.54 1481.7 422.27 1482.05 431.66 1482.4 422.11 1482.6 431.7 1482.75 422.22 1483.1 430.37 1483.45 421.32 1483.8 430.62 1484.15 421.6 1484.5 429.11 1484.85 424.14 1485.2 430.54 1485.55 422.13 1485.9 431.77 1486.25 420.85 1486.6 429.43 1486.95 420.61 1487.3 430.9 1487.6 422.87 1487.65 434.55 1488 423.32 1488.35 429.53 1488.7 420.45 1489.05 427.54 1489.4 420.13 1489.75 430.67 1490.1 415.49 1490.45 426.87 1490.8 417.99 1491.1 426.26 1491.15 418.64 1491.5 428.72 1491.85 420.85 1492.1 430.17 1492.2 423.3 1492.55 428.49 1492.9 424.46 1493.25 430.8 1493.6 424.45 1493.95 433.35 1494.3 427.67 1494.6 433.5 1494.65 428.84 1495 439.72 1495.35 426.1 1495.7 433.93 1496.05 428.96 1496.4 435.87 1496.75 428.77 1497.1 435.97 1497.45 427.67 1497.8 434.04 1498.15 426.56 1498.5 436.26 1498.6 427.08 1498.85 434.56 1499.2 428.65 1499.55 434.93 1499.9 428.31 1500.25 439.7 1500.6 426.89 1500.95 435.09 1501.3 430.08 1501.65 437.68 1502 426.65 1502.35 437.28 1502.7 426.83 1503.05 438.25 1503.4 426.72 1503.75 436.21 1504.1 429.53 1504.45 437 1504.8 428.7 1505.15 436.68 1505.5 426.69 1505.85 434.98 1506.2 427.6 1506.55 434.54 1506.9 427.87 1507.25 437.35 1507.6 424.79 1507.95 437.27 1508.3 426.56 1508.65 437.02 1509 428.26 1509.35 436.39 1509.7 429.93 1510.05 436.36 1510.4 429.53 1510.75 435.8 1511.1 426.8 1511.45 434.61 1511.8 427.92 1512.15 437.6 1512.5 429.93 1512.85 434.61 1513.2 429.85 1513.55 436.32 1513.9 426.73 1514.25 436.77 1514.6 428.2 1514.95 434.23 1515.3 427.71 1515.65 435.79 1516 428.83 1516.35 437.1 1516.7 429.41 1517.05 435.89 1517.4 429.97 1517.75 435.11 1518.1 427.46 1518.45 436.45 1518.8 428.38 1519.15 435.52 1519.5 427.14 1519.85 434.72 1520.2 428.77 1520.55 436.51 1520.9 427.11 1521.25 437.47 1521.6 430.15 1521.95 436.23 1522.3 428.34 1522.65 435.07 1523 428.38 1523.35 436.94 1523.7 430.13 1524.05 440.23 1524.4 424.61 1524.75 436.94 1525.1 429.46 1525.45 435.41 1525.8 428.62 1526.15 435.12 1526.5 427.65 1526.85 435.2 1527.2 428.51 1527.55 438.1 1527.9 427.88 1528.25 436.43 1528.6 427.22 1528.95 438.09 1529.3 427.54 1529.65 438.21 1530 428.6 1530.35 436.26 1530.7 427.16 1531.05 435.18 1531.4 428.2 1531.75 437.93 1532.1 430.34 1532.45 437.19 1532.8 427.17 1533.15 437.77 1533.5 429.51 1533.85 436.55 1534.2 429.28 1534.55 435.52 1534.9 430.38 1535.25 435.73 1535.6 429.35 1535.95 436.79 1536.3 427.91 1536.65 438.02 1537 427.75 1537.35 437.08 1537.7 427.59 1538.05 438.53 1538.4 429.75 1538.75 437 1539.1 430.55 1539.45 435.7 1539.8 427.99 1540.15 436.7 1540.5 427.65 1540.6 437.41 1540.85 428.48 1541 435.64 1541.2 427.06 1541.55 433.45 1541.8 422.7 1541.9 433.56 1542.25 422.89 1542.6 432.03 1542.95 423.85 1543.3 430.01 1543.65 424.49 1544 431.44 1544.35 423.2 1544.7 432.1 1545.05 422.39 1545.4 433.03 1545.75 425.22 1546 430.38 1546.1 424.78 1546.45 432.47 1546.8 422.36 1547.15 431.81 1547.5 421.86 1547.85 434.25 1548.2 424.22 1548.55 430.96 1548.9 421.85 1549.25 431.47 1549.6 424.73 1549.95 431.44 1550.3 423.51 1550.65 431.16 1551 423.15 1551.35 429.96 1551.7 424.4 1552.05 428.94 1552.4 423.48 1552.75 431.18 1553.1 421.93 1553.45 428.47 1553.5 420.81 1553.8 428.27 1554.15 422.41 1554.5 426.06 1554.85 421.02 1555.2 428.8 1555.5 421.08 1555.55 430.54 1555.9 422.89 1556.25 430.66 1556.6 426.64 1556.95 433.93 1557.3 428.28 1557.65 434.94 1558 426.9 1558.35 435.15 1558.7 429.4 1559.05 436.43 1559.4 428.74 1559.75 437.67 1560.1 428.15 1560.45 435.09 1560.8 428.07 1561.15 436.27 1561.5 430.36 1561.85 436.68 1562 424.78 1562.2 436.19 1562.55 430.58 1562.9 437.53 1563.25 428.79 1563.6 436.41 1563.95 431.43 1564.3 438.09 1564.65 430.99 1565 439.08 1565.35 431.45 1565.7 441.18 1566.05 429.64 1566.4 435.91 1566.75 431.06 1567.1 438.96 1567.45 428.51 1567.8 437.86 1568.15 430.93 1568.5 436.96 1568.85 429.55 1569.2 436.16 1569.55 429.62 1569.9 436.33 1570.25 430.82 1570.6 439.51 1570.95 430.52 1571.3 439.42 1571.65 430.4 1572 436.43 1572.35 429.55 1572.7 438.2 1573.05 429.91 1573.4 439.32 1573.75 430.53 1574.1 439.58 1574.45 428.59 1574.8 439.37 1575.15 429.42 1575.5 437.24 1575.85 431.85 1576.2 436.84 1576.55 430.36 1576.9 439.85 1577.25 431.71 1577.6 436.7 1577.95 429.31 1578.3 437.29 1578.65 432.06 1579 439.07 1579.35 429.61 1579.7 439.46 1580.05 431.07 1580.4 440.24 1580.75 427.26 1581.1 438.48 1581.45 431.03 1581.8 439.01 1582.15 431.28 1582.5 442.2 1582.85 430.47 1583.2 441.36 1583.55 432.32 1583.9 439.42 1584.25 429.07 1584.6 438.14 1584.95 431.82 1585.3 440.07 1585.65 430.64 1586 437.33 1586.35 431.03 1586.7 439.55 1587.05 430.28 1587.4 438.8 1587.75 432.09 1588.1 438.63 1588.45 432.53 1588.8 438.27 1589.15 429.27 1589.5 440.05 1589.85 431.03 1590.2 436.93 1590.55 429.88 1590.9 439.08 1591.25 429.54 1591.6 438.55 1591.95 429.81 1592.3 438.42 1592.65 431.97 1593 439.2 1593.35 432.98 1593.7 443.8 1594.05 430.8 1594.4 437.43 1594.75 429.6 1595.1 438.76 1595.45 431.32 1595.8 439.26 1596.15 433.02 1596.5 439.89 1596.85 432.31 1597.2 437.93 1597.55 431.21 1597.9 439.14 1598.25 429.82 1598.6 438.33 1598.95 429.66 1599.3 440.34 1599.65 432.55 1600 437.46 1600.35 433.05 1600.7 440.17 1601.05 432.96 1601.4 437.61 1601.75 430.32 1602.1 440.02 1602.45 431.67 1602.8 440.62 1603.15 429.88 1603.5 441.17 1603.85 430.24 1604 437.92 1604.2 432.52 1604.55 438.02 1604.6 431.82 1604.9 438.17 1605.25 426.17 1605.4 433.39 1605.6 425.87 1605.95 432.49 1606.3 427.86 1606.65 435.83 1607 424.18 1607.35 432.61 1607.7 426.11 1608.05 434.57 1608.4 425.54 1608.75 432.42 1609.1 427.13 1609.45 434.23 1609.6 426.32 1609.8 434.1 1610.15 426.32 1610.5 432.78 1610.85 426.36 1611.2 433.15 1611.55 424.53 1611.9 433.42 1612.25 427.82 1612.6 433.02 1612.95 425.07 1613.3 431.82 1613.65 424.01 1614 434.87 1614.35 425.02 1614.6 434.16 1614.7 424.9 1615.05 432.04 1615.4 424.79 1615.75 433.03 1616.1 425.74 1616.45 431.11 1616.8 424.07 1617.1 430.31 1617.15 423.2 1617.5 431.15 1617.85 424.69 1618.1 430.12 1618.2 424.59 1618.55 431.54 1618.9 423.22 1619.1 432.93 1619.25 424.44 1619.6 433.3 1619.95 426.36 1620.3 435.36 1620.65 427.28 1621 438.11 1621.35 428.89 1621.6 439.84 1621.7 431.65 1622.05 441.72 1622.4 430.99 1622.75 439.58 1623.1 430.87 1623.45 439.54 1623.8 433.06 1624.15 440.34 1624.5 427.59 1624.85 439.45 1625.2 431.04 1625.55 439.52 1625.6 432.81 1625.9 438.43 1626.25 431.21 1626.6 440.03 1626.95 431.01 1627.3 441.13 1627.65 433.19 1628 441.36 1628.35 431.56 1628.7 439.3 1629.05 433.33 1629.4 440.06 1629.75 434.58 1630.1 441.85 1630.45 433.35 1630.8 439.33 1631.15 431.75 1631.5 441.33 1631.85 431.89 1632.2 441.39 1632.55 432.13 1632.9 439.38 1633.25 434.43 1633.6 441.3 1633.95 431.55 1634.3 439.5 1634.65 432.34 1635 440.87 1635.35 433.68 1635.7 442.29 1636.05 433.28 1636.4 440.63 1636.75 432.47 1637.1 439.9 1637.45 434.48 1637.8 440.84 1638.15 433.6 1638.5 440.7 1638.85 433.77 1639.2 439.51 1639.55 432.87 1639.9 440.76 1640.25 434.43 1640.6 439.21 1640.95 428.07 1641.3 442.4 1641.65 434.75 1642 441.78 1642.35 432.99 1642.7 440.41 1643.05 434.69 1643.4 439.61 1643.75 432.09 1644.1 440.46 1644.45 430.77 1644.8 440.37 1645.15 433.56 1645.5 441.47 1645.85 433.29 1646.2 440.97 1646.55 433.95 1646.9 441.29 1647.25 432.04 1647.6 439.04 1647.95 431.38 1648.3 441.06 1648.65 431.14 1649 441.84 1649.35 431.48 1649.7 442.07 1650.05 431.72 1650.4 441.09 1650.75 434.27 1651.1 438.91 1651.45 431.73 1651.8 441.26 1652.15 432.44 1652.5 441.73 1652.85 433.12 1653.2 441.36 1653.55 433.24 1653.9 440.57 1654.25 433.58 1654.6 440.34 1654.95 431.76 1655.3 438.95 1655.65 428.77 1656 441.1 1656.35 431.22 1656.7 440.65 1657.05 433.79 1657.4 440.93 1657.75 432.81 1658.1 439.74 1658.45 432.02 1658.8 440.59 1659.15 433.36 1659.5 441.21 1659.85 433.74 1660.2 439.42 1660.55 431.86 1660.9 439.02 1661.25 432.22 1661.6 439.81 1661.95 434.05 1662.3 439.55 1662.65 432.11 1663 438.34 1663.35 432.12 1663.7 439.53 1664.05 432.4 1664.4 440.29 1664.75 428.28 1665.1 438.48 1665.45 432.4 1665.8 441.24 1666.15 432.42 1666.5 443.38 1666.85 433.2 1667.2 440.29 1667.55 430.85 1667.6 441.25 1667.9 431.88 1668.25 438.03 1668.6 432.21 1668.7 439.15 1668.95 430.21 1669.3 436.88 1669.5 426.11 1669.65 433.52 1670 428.61 1670.35 436.45 1670.7 427.09 1671.05 435.8 1671.4 428.74 1671.75 435.99 1672.1 424.49 1672.45 434.22 1672.8 426.17 1673.15 433.9 1673.5 425.55 1673.7 436.69 1673.85 424.28 1674.2 434.52 1674.55 424.83 1674.9 432.66 1675.25 426.63 1675.6 434.54 1675.95 423.64 1676.3 434.7 1676.65 425.92 1677 432.34 1677.35 427.53 1677.7 434.56 1678.05 423.8 1678.4 433.09 1678.7 424.7 1678.75 434.01 1679.1 423.82 1679.45 433.58 1679.8 426.4 1680.15 432.72 1680.5 424.12 1680.85 433.19 1681.2 419.18 1681.55 431.77 1681.9 423.25 1682.2 430.64 1682.25 422.11 1682.6 429.22 1682.95 423.34 1683.2 434.03 1683.3 423.56 1683.65 433.37 1684 426.03 1684.35 435 1684.7 428.05 1685.05 436.38 1685.4 430.23 1685.7 439.56 1685.75 431.01 1686.1 438.93 1686.45 431.24 1686.8 436.37 1687.15 429.2 1687.5 438.85 1687.85 432.56 1688.2 440.32 1688.55 432.91 1688.9 439.25 1689.25 432.93 1689.6 439.4 1689.7 430.38 1689.95 439.6 1690.3 432.79 1690.65 437.61 1691 430.51 1691.35 437.94 1691.7 432.43 1692.05 437.91 1692.4 431.17 1692.75 438.43 1693.1 432.41 1693.45 440.66 1693.8 433.04 1694.15 438.25 1694.5 429.97 1694.85 439.82 1695.2 429.65 1695.55 439.66 1695.9 427.65 1696.25 440.12 1696.6 428.5 1696.95 438.71 1697.3 431.12 1697.65 437.41 1698 431.62 1698.35 439.15 1698.7 432.3 1699.05 439.86 1699.4 432.2 1699.75 439.39 1700.1 431.48 1700.45 437.02 1700.8 428.33 1701.15 439.24 1701.5 432.25 1701.85 437.52 1702.2 431.38 1702.55 438.63 1702.9 430.32 1703.25 438.54 1703.6 431.72 1703.95 437.44 1704.3 429.54 1704.65 440.44 1705 430.12 1705.35 438.52 1705.7 432.75 1706.05 437.7 1706.4 430.55 1706.75 439.8 1707.1 430.51 1707.45 439.39 1707.8 429.64 1708.15 439.48 1708.5 431.93 1708.85 439.34 1709.2 431.73 1709.55 439.88 1709.9 430.2 1710.25 437.7 1710.6 432.69 1710.95 438.69 1711.3 430.19 1711.65 437.36 1712 431.88 1712.35 438.98 1712.7 432.61 1713.05 436.8 1713.4 432.26 1713.75 439.81 1714.1 431.87 1714.45 439.86 1714.8 429.9 1715.15 436.57 1715.5 430.4 1715.85 437.01 1716.2 431.47 1716.55 437.74 1716.9 431.2 1717.25 438.82 1717.6 430.36 1717.95 437.77 1718.3 431.76 1718.65 437.67 1719 429.18 1719.35 437.66 1719.7 430.38 1720.05 439.97 1720.4 431.11 1720.75 438.02 1721.1 431.73 1721.45 437.34 1721.8 432.23 1722.15 437.45 1722.5 430.05 1722.85 437.38 1723.2 430.4 1723.55 436.88 1723.9 429.51 1724.25 436.84 1724.6 429.09 1724.95 437.67 1725.3 430.11 1725.65 437.61 1726 429.2 1726.35 436.55 1726.7 432.23 1727.05 438.84 1727.4 430.34 1727.75 438.29 1728.1 430.91 1728.45 436.95 1728.8 428.83 1729.15 436.68 1729.5 430 1729.85 439.52 1730.2 430.71 1730.55 436.45 1730.9 429.29 1731.25 436.91 1731.6 429.47 1731.7 438.16 1731.95 429.91 1732.3 436.9 1732.65 428.69 1733 433.1 1733.1 426.83 1733.35 432.22 1733.7 423.69 1734.05 431.5 1734.4 426.83 1734.75 432.95 1735.1 426.11 1735.45 432.95 1735.8 424.14 1736.15 430.82 1736.5 423.89 1736.85 432.97 1737.2 423.61 1737.3 431.88 1737.55 423.91 1737.9 433.19 1738.25 424.94 1738.6 433.6 1738.95 424.97 1739.3 432.24 1739.65 424.13 1740 431.04 1740.35 425.13 1740.7 430.08 1741.05 423.74 1741.4 430.53 1741.75 424.53 1742.1 432.74 1742.3 423.73 1742.45 430.89 1742.8 421.71 1743.15 430.47 1743.5 422.84 1743.85 428.9 1744.2 423.17 1744.55 428.9 1744.8 420.24 1744.9 428.6 1745.25 420.69 1745.6 430.88 1745.8 419.95 1745.95 428.5 1746.3 422.1 1746.65 429.12 1746.8 421.91 1747 430.83 1747.35 418.97 1747.7 432.55 1748.05 424.41 1748.4 434.14 1748.75 428.1 1749.1 435.18 1749.3 429.95 1749.45 436.56 1749.8 430.18 1750.15 436.79 1750.5 429.78 1750.85 437.66 1751.2 428.38 1751.55 435.57 1751.9 428.89 1752.25 437.54 1752.6 428.91 1752.95 437.72 1753.3 428.18 1753.65 438.71 1754 429.97 1754.35 438.76 1754.7 430.07 1755.05 438.02 1755.4 428 1755.75 437.97 1756.1 430.05 1756.45 437 1756.8 428.88 1757.15 435.41 1757.5 424.56 1757.85 438.65 1758.2 427.89 1758.55 436.84 1758.9 430.16 1759.25 437.56 1759.6 431.14 1759.95 438.41 1760.3 430.73 1760.65 437.31 1761 428.2 1761.35 437.5 1761.7 429.7 1762.05 437.54 1762.4 428.47 1762.75 438.69 1763.1 428.62 1763.45 435.66 1763.8 428.26 1764.15 438.61 1764.5 429.77 1764.85 438.09 1765.2 428.41 1765.55 435.95 1765.9 430.63" stroke="#F0E442" stroke-width="2" fill="none" stroke-linejoin="round"/>
<path d="M1031.6 430V470.4M1095.2 430V472.4M1158.9 430V471M1223.1 430V469.8M1286.8 430V469.8M1350.4 430V468.4M1414.2 430V471M1478.1 430V465.4M1541.5 430V468.4M1605.1 430V470.4M1669.2 430V474.4M1732.8 430V473" stroke="#F0E442" stroke-width="1.7" fill="none"/>
<path d="M998 529.34 998.35 535.46 998.7 531.4 999.05 535.42 999.4 530.43 999.75 534.91 1000.1 529.5 1000.45 535.59 1000.8 530.89 1001.15 536.29 1001.5 529.3 1001.85 536.39 1002.2 531.15 1002.55 536.28 1002.9 531.15 1003.25 535.84 1003.6 528.91 1003.95 534.71 1004.3 530.45 1004.65 536.55 1005 529.71 1005.35 536.28 1005.7 531.31 1006.05 535.75 1006.4 529.85 1006.75 536.47 1007.1 531.08 1007.45 534.99 1007.8 530.12 1008.15 534.72 1008.5 527.63 1008.85 538.25 1009.2 530.51 1009.55 535.79 1009.9 530.39 1010.25 534.5 1010.6 531.23 1010.95 536.11 1011.3 528.82 1011.65 536.72 1012 529.63 1012.35 535.33 1012.7 529.3 1013.05 535.39 1013.4 530.3 1013.75 536.11 1014.1 530.1 1014.45 535.72 1014.8 531.04 1015.15 535.1 1015.5 530.19 1015.85 534.83 1016.2 529.08 1016.55 534.86 1016.9 530.12 1017.25 535.14 1017.6 529.27 1017.95 535.87 1018.3 528.96 1018.65 535.72 1019 530.32 1019.35 536.22 1019.7 529.3 1020.05 536.86 1020.4 531.27 1020.75 534.44 1021.1 530.41 1021.45 538.54 1021.8 530.85 1022.15 535.74 1022.5 529.31 1022.85 535.43 1023.2 531.09 1023.55 534.52 1023.9 529.77 1024.25 535.78 1024.6 531.07 1024.95 535.35 1025.3 529.71 1025.65 534.47 1026 531.12 1026.35 536.51 1026.7 529.02 1027.05 535.94 1027.4 530.98 1027.75 536.5 1028.1 529.31 1028.45 534.85 1028.8 531.17 1029.15 536.68 1029.5 528.89 1029.85 536.36 1030.2 528.82 1030.55 538.81 1030.9 531.11 1031.25 535.79 1031.6 531.24 1031.95 536.51 1032.3 528.75 1032.65 536.6 1033 530.43 1033.35 536.03 1033.7 529.9 1034.05 535.41 1034.4 531.13 1034.75 534.2 1035.1 530.93 1035.45 534.51 1035.8 530.31 1036.15 534.7 1036.5 528.95 1036.85 534.54 1037.2 530.69 1037.55 536.16 1037.9 530.83 1038.25 535.11 1038.6 530.28 1038.95 535.55 1039.3 529.45 1039.65 536.21 1040 529.58 1040.35 534.54 1040.7 528.87 1041.05 534.21 1041.4 531.01 1041.75 534.37 1042.1 531.22 1042.45 536.15 1042.8 529.84 1043.15 534.87 1043.2 529.42 1043.5 534.59 1043.85 531.09 1044.2 539.18 1044.55 529.11 1044.9 536.11 1045.25 529.92 1045.6 535.61 1045.95 529.48 1046.3 536.61 1046.65 530.28 1047 536.72 1047.35 529.33 1047.7 536.55 1048.05 531.78 1048.4 534.96 1048.75 531.82 1049.1 535.05 1049.45 529.77 1049.8 539.38 1050.15 530.91 1050.5 536.31 1050.85 530.28 1051.2 536.82 1051.55 532.28 1051.9 536.04 1052.25 531.91 1052.6 537.31 1052.95 531.94 1053.3 536.48 1053.65 532.96 1054 538.5 1054.35 531.28 1054.7 538.02 1055.05 532.48 1055.2 539.12 1055.4 531.97 1055.75 537.26 1056.1 530.36 1056.45 537.35 1056.7 529.55 1056.8 535.19 1057.15 530.64 1057.5 536.63 1057.85 530.55 1058.2 535.64 1058.55 528.68 1058.9 534.74 1059.25 528.46 1059.6 534.85 1059.95 529.21 1060.2 534.54 1060.3 527.88 1060.65 534.77 1061 528.71 1061.35 533.34 1061.7 530.06 1062.05 534.98 1062.4 528.97 1062.75 534.84 1063.1 530 1063.45 534.72 1063.8 529.25 1064.15 534.83 1064.5 529.65 1064.85 534.51 1065.2 528.12 1065.55 533.1 1065.9 528.8 1066.2 534.24 1066.25 527.39 1066.6 534.77 1066.95 529.29 1067.3 531.86 1067.65 525.94 1068 531.88 1068.35 527.06 1068.7 530.82 1069.05 526.94 1069.4 531.24 1069.75 526.99 1070.1 531.22 1070.45 526.34 1070.8 534.17 1071.15 526.24 1071.2 533.41 1071.5 528.7 1071.85 533.55 1072.2 526.39 1072.55 532.94 1072.9 527.63 1073.25 533.29 1073.6 527.94 1073.95 535.78 1074.3 527.25 1074.65 535.46 1075 526.99 1075.35 533.51 1075.7 528.36 1076.05 532.74 1076.4 527.95 1076.75 534.16 1077.1 527.22 1077.45 534.24 1077.8 529.35 1078.15 533.36 1078.5 529.19 1078.85 533.08 1079.2 528.32 1079.55 534.29 1079.9 528.7 1080.25 534.27 1080.6 529.2 1080.95 535.27 1081.3 528.31 1081.65 533.48 1082 527.54 1082.35 534.01 1082.7 527.55 1083.05 535.31 1083.4 529.49 1083.75 533.88 1084.1 528.97 1084.45 533.42 1084.8 528.99 1085.15 535.15 1085.2 529.73 1085.5 534.24 1085.85 528.22 1086.2 535.18 1086.55 529.18 1086.9 535.61 1087.25 529.59 1087.6 534.65 1087.95 530.12 1088.3 535 1088.65 528.21 1089 535.43 1089.35 530.27 1089.7 536.26 1090.05 529.88 1090.4 533.77 1090.75 530.57 1091.1 534.29 1091.45 528.85 1091.8 534.74 1092.15 529.08 1092.5 533.96 1092.85 528.97 1093.2 534.1 1093.55 529.27 1093.9 535.09 1094.25 530.26 1094.6 535.49 1094.95 529.76 1095.3 533.91 1095.65 528.47 1096 534.92 1096.35 528.48 1096.7 534.59 1097.05 529.9 1097.4 534.75 1097.75 530.1 1098.1 534.93 1098.45 528.61 1098.8 535.23 1099.15 529.73 1099.5 534.94 1099.85 530.94 1100.2 535.36 1100.55 529.34 1100.9 535.97 1101.25 529.69 1101.6 534.78 1101.95 529.8 1102.3 535.39 1102.65 530.18 1103 535.48 1103.35 528.95 1103.7 536.44 1104.05 530.44 1104.4 534.88 1104.75 529.55 1105.1 534.43 1105.2 528.87 1105.45 538.16 1105.8 530.15 1106.15 535.65 1106.5 529.92 1106.7 535.2 1106.85 528.6 1107.2 534.18 1107.55 528.76 1107.9 535.08 1108.25 530.44 1108.6 535.91 1108.95 531.01 1109.3 535.82 1109.65 531.09 1110 535.83 1110.35 529.96 1110.7 534.63 1111.05 529.59 1111.4 534.88 1111.75 530.18 1112.1 537.35 1112.45 530.54 1112.8 535.73 1113.15 530.98 1113.5 539.02 1113.85 531.38 1114.2 535.85 1114.55 532.26 1114.7 536.49 1114.9 531.9 1115.25 536.92 1115.6 531.16 1115.95 536.78 1116.3 530.75 1116.65 538.38 1117 532.75 1117.35 536.95 1117.7 531.04 1118.05 537.63 1118.4 533.22 1118.7 538.71 1118.75 533.05 1119.1 537.19 1119.45 531.73 1119.8 535.46 1120.15 530.17 1120.2 536.03 1120.5 528.07 1120.85 534.37 1121.2 528.5 1121.55 534.49 1121.9 528.49 1122.25 533.78 1122.6 529.84 1122.95 534.17 1123.3 528.1 1123.65 535.19 1123.7 528.69 1124 534.78 1124.35 527.7 1124.7 535.42 1125.05 528.6 1125.4 533.17 1125.75 530.09 1126.1 533.75 1126.45 527.88 1126.8 533.87 1127.15 525.75 1127.5 534.52 1127.85 528.41 1128.2 533.4 1128.55 529.46 1128.9 533.44 1129.25 529.45 1129.6 534.71 1129.7 529.53 1129.95 532.51 1130.3 528.24 1130.65 532.41 1131 527.17 1131.35 532.83 1131.7 526.6 1132.05 531.19 1132.2 527.38 1132.4 531.61 1132.75 527.58 1133.1 531.68 1133.45 526.38 1133.8 531.31 1134.15 527.94 1134.5 533.33 1134.7 528.7 1134.85 535.87 1135.2 528.75 1135.55 533.41 1135.9 526.85 1136.25 532.21 1136.6 528.89 1136.95 533.49 1137.3 528.37 1137.65 532.83 1138 528.47 1138.35 533.58 1138.7 528.86 1139.05 533.04 1139.4 529.12 1139.75 533.55 1140.1 527.92 1140.45 532.83 1140.8 528.54 1141.15 533.19 1141.5 528.43 1141.85 533.14 1142.2 529.04 1142.55 534.66 1142.9 529.03 1143.25 534.68 1143.6 527.49 1143.95 532.75 1144.3 528.3 1144.65 535.57 1145 529.76 1145.35 535.26 1145.7 527.73 1146.05 533.37 1146.4 529.46 1146.75 534.66 1147.1 528.08 1147.45 533.01 1147.8 528.47 1148.15 535.49 1148.5 527.74 1148.7 535.73 1148.85 528.81 1149.2 535.15 1149.55 528.65 1149.9 535.71 1150.25 528.81 1150.6 538.03 1150.95 527.86 1151.3 533.19 1151.65 529.02 1152 535.3 1152.35 530.13 1152.7 533.76 1153.05 529.39 1153.4 535.17 1153.75 528.36 1154.1 534.41 1154.45 528.11 1154.8 534.4 1155.15 529.18 1155.5 535.11 1155.85 529.73 1156.2 537.61 1156.55 529.87 1156.9 534.04 1157.25 529.23 1157.6 534.91 1157.95 528.08 1158.3 534.08 1158.65 529.31 1159 535.91 1159.35 530.35 1159.7 533.89 1160.05 530.14 1160.4 536.04 1160.75 529.1 1161.1 534.73 1161.45 529.95 1161.8 534.01 1162.15 530.39 1162.5 536.11 1162.85 527.26 1163.2 535.89 1163.55 529.11 1163.9 533.74 1164.25 530.56 1164.6 533.71 1164.95 529.47 1165.3 537.88 1165.65 526.39 1166 536.22 1166.35 530.04 1166.7 534.07 1167.05 530.55 1167.4 535.15 1167.75 530.36 1168.1 535.36 1168.45 528.87 1168.7 536.11 1168.8 530.11 1169.15 537.27 1169.5 530.18 1169.85 535.66 1170.2 529.03 1170.5 536.2 1170.55 528.69 1170.9 536.01 1171.25 529.58 1171.6 536.21 1171.95 531.15 1172.3 534.32 1172.65 531.05 1173 536.49 1173.35 531.3 1173.7 535.07 1174.05 529.6 1174.4 535.36 1174.75 529.28 1175.1 536.68 1175.45 530.26 1175.8 535.68 1176.15 529.38 1176.5 535.35 1176.85 531.01 1177.2 537.27 1177.55 529.66 1177.9 535.9 1178.25 530.42 1178.5 536.62 1178.6 530.17 1178.95 535.26 1179.3 527.67 1179.65 537.71 1180 531.09 1180.35 536.28 1180.7 530.5 1181.05 537.14 1181.4 532.27 1181.75 537.28 1182.1 528.98 1182.45 536.98 1182.5 531.61 1182.8 536.52 1183.15 530.26 1183.5 535.68 1183.85 529.15 1184 536.53 1184.2 531.32 1184.55 536.65 1184.9 530.7 1185.25 534.63 1185.6 529.5 1185.95 534.88 1186.3 529.09 1186.65 534.61 1187 529.05 1187.35 534.65 1187.5 529.09 1187.7 534.61 1188.05 529.58 1188.4 533.2 1188.75 528.94 1189.1 534.04 1189.45 528.01 1189.8 533.93 1190.15 529.24 1190.5 534 1190.85 529.11 1191.2 534.12 1191.55 528.33 1191.9 533.27 1192.25 528.93 1192.6 534.97 1192.95 527.53 1193.3 534.71 1193.5 527.57 1193.65 534.89 1194 526.93 1194.35 531.96 1194.7 528.22 1195.05 532.91 1195.4 526.32 1195.75 534.18 1196 526.02 1196.1 532.42 1196.45 526.28 1196.8 534.75 1197.15 527.26 1197.5 530.98 1197.85 526.7 1198.2 532.79 1198.5 527.38 1198.55 532.57 1198.9 528.18 1199.25 534.89 1199.6 525.79 1199.95 533.01 1200.3 528.48 1200.65 535.15 1201 526.83 1201.35 533.16 1201.7 527.67 1202.05 531.93 1202.4 526.43 1202.75 532.08 1203.1 527.75 1203.45 533.72 1203.8 526.64 1204.15 534.3 1204.5 528.47 1204.85 532.59 1205.2 526.97 1205.55 533.06 1205.9 528.39 1206.25 533.37 1206.6 524.69 1206.95 534.5 1207.3 529.51 1207.65 533.37 1208 527.93 1208.35 533.65 1208.7 529.28 1209.05 532.84 1209.4 528.59 1209.75 533.57 1210.1 527.64 1210.45 535.01 1210.8 529.47 1211.15 535.25 1211.5 527.58 1211.85 534.58 1212.2 528.29 1212.5 534.57 1212.55 530 1212.9 534.94 1213.25 530.15 1213.6 533.68 1213.95 526.15 1214.3 534 1214.65 529.44 1215 535.2 1215.35 529.47 1215.7 535.63 1216.05 529.73 1216.4 534.17 1216.75 528.55 1217.1 533.19 1217.45 528.92 1217.8 533.82 1218.15 529.24 1218.5 535.89 1218.85 529.98 1219.2 534.53 1219.55 529.83 1219.9 534.7 1220.25 530.19 1220.6 535.01 1220.95 529.92 1221.3 533.57 1221.65 528.2 1222 535.46 1222.35 527.82 1222.7 534.65 1223.05 528.12 1223.4 535.48 1223.75 530.2 1224.1 533.82 1224.45 529.28 1224.8 534.3 1225.15 529.8 1225.5 535.66 1225.85 530.41 1226.2 534.61 1226.55 530.06 1226.9 534.02 1227.25 530.26 1227.6 535.05 1227.95 530.66 1228.3 537.01 1228.65 529.6 1229 537.33 1229.35 529.49 1229.7 535.69 1230.05 528.82 1230.4 536.15 1230.75 530.83 1231.1 534.16 1231.45 530.63 1231.8 535.89 1232.15 530.02 1232.5 535.64 1232.85 530.27 1233.2 533.72 1233.55 529.72 1233.6 535.99 1233.9 528.71 1234.25 534.94 1234.6 529.74 1234.95 536.08 1235.3 528.83 1235.65 534.08 1236 530.63 1236.35 535.88 1236.7 528.88 1237.05 535.49 1237.4 530.96 1237.75 534.39 1238.1 530.99 1238.45 535.24 1238.8 530.39 1239.15 534.69 1239.5 531.42 1239.85 536.34 1240.2 531.47 1240.55 535.98 1240.9 531.57 1241.25 535.92 1241.6 530.24 1241.95 536.06 1242.3 530.53 1242.65 537.77 1243 531.49 1243.35 536.92 1243.7 530.35 1244.05 537.15 1244.4 531.23 1244.75 537.96 1245.1 532.6 1245.45 540.09 1245.6 531.79 1245.8 537.1 1246.15 531.14 1246.5 536.48 1246.85 529.36 1247.1 536.33 1247.2 529.2 1247.55 536.07 1247.9 528.69 1248.25 535.4 1248.6 530.23 1248.95 535.62 1249.3 527.07 1249.65 533.72 1250 529.88 1250.35 535.39 1250.6 529.76 1250.7 537.51 1251.05 528.97 1251.4 535.17 1251.75 527.77 1252.1 534.81 1252.45 527.73 1252.8 534.71 1253.15 527.33 1253.5 533.33 1253.85 528.73 1254.2 533.71 1254.55 528.26 1254.9 533.66 1255.25 527.83 1255.6 532.89 1255.95 528.39 1256.3 533.69 1256.6 528.42 1256.65 534.7 1257 526.87 1257.35 532.92 1257.7 526.79 1258.05 531.19 1258.4 525.49 1258.75 530.47 1259.1 524.84 1259.45 532.37 1259.8 526.72 1260.15 530.85 1260.5 526.35 1260.85 532.6 1261.2 525.69 1261.55 532.13 1261.6 527.49 1261.9 531.32 1262.25 526.55 1262.6 532.52 1262.95 527.95 1263.3 533.55 1263.65 527.32 1264 533.03 1264.35 527.98 1264.7 533.45 1265.05 528.14 1265.4 533.87 1265.75 528.73 1266.1 532.24 1266.45 528.5 1266.8 532.06 1267.15 528.27 1267.5 533.14 1267.85 527.36 1268.2 532.7 1268.55 527.95 1268.9 532.32 1269.25 528.86 1269.6 532.95 1269.95 527.13 1270.3 533.37 1270.65 528.67 1271 534.53 1271.35 527.08 1271.7 532.79 1272.05 527.89 1272.4 532.56 1272.75 528.57 1273.1 534.09 1273.45 527.38 1273.8 536.72 1274.15 528.12 1274.5 534.53 1274.85 527.45 1275.2 533.12 1275.55 529.54 1275.6 534.08 1275.9 528.77 1276.25 534.15 1276.6 528.09 1276.95 534.21 1277.3 529.71 1277.65 534.88 1278 527.68 1278.35 534.72 1278.7 529.76 1279.05 534.77 1279.4 529.32 1279.75 534.66 1280.1 527.73 1280.45 534.66 1280.8 527.73 1281.15 534.44 1281.5 528.96 1281.85 533.1 1282.2 530.2 1282.55 533.77 1282.9 529.61 1283.25 534.74 1283.6 529.36 1283.95 535.05 1284.3 530 1284.65 533.31 1285 528.68 1285.35 533.91 1285.7 530.18 1286.05 534.08 1286.4 528.48 1286.75 533.97 1287.1 528.92 1287.45 535.78 1287.8 529.35 1288.15 535.4 1288.5 529.76 1288.85 535.07 1289.2 529.52 1289.55 534.71 1289.9 528.63 1290.25 535.36 1290.6 530.28 1290.95 533.53 1291.3 529.78 1291.65 533.93 1292 529.11 1292.35 535.02 1292.7 529.26 1293.05 533.56 1293.4 527.14 1293.75 533.85 1294.1 526.5 1294.45 534.26 1294.8 528.4 1295.15 534.84 1295.5 527.42 1295.6 535.89 1295.85 529.19 1296.2 535.12 1296.55 530.07 1296.9 535.27 1297.25 528.24 1297.6 533.76 1297.8 526.76 1297.95 534.43 1298.3 528.39 1298.65 534.37 1299 530.23 1299.35 535.98 1299.7 530.2 1300.05 534.95 1300.4 530.65 1300.75 536.06 1301.1 528.67 1301.45 534.2 1301.8 529.33 1302.15 534.8 1302.5 530.89 1302.85 535.12 1303.2 530.51 1303.55 535.84 1303.9 530.73 1304.25 535.96 1304.6 531.72 1304.95 536.02 1305.3 531.23 1305.65 535.11 1305.8 529.84 1306 536.9 1306.35 531.9 1306.7 536.02 1307.05 530.5 1307.4 537.03 1307.75 532.71 1308.1 536.19 1308.45 532.61 1308.8 537.15 1309.15 532.65 1309.5 537.26 1309.8 532.52 1309.85 538.24 1310.2 532.59 1310.55 535.74 1310.9 531.68 1311.25 534.62 1311.3 529.33 1311.6 535.43 1311.95 528.49 1312.3 533.78 1312.65 528.77 1313 535.59 1313.35 530 1313.7 534.89 1314.05 529.77 1314.4 535.34 1314.75 529.12 1314.8 533.88 1315.1 527.98 1315.45 534.23 1315.8 529.24 1316.15 533.64 1316.5 528.91 1316.85 533.53 1317.2 529.06 1317.55 535.09 1317.9 527.4 1318.25 534.95 1318.6 529.42 1318.95 533.53 1319.3 527.25 1319.65 532.62 1320 527.88 1320.35 533.67 1320.7 526.93 1320.8 533.26 1321.05 529.15 1321.4 532.62 1321.75 527.08 1322.1 533.47 1322.45 526.85 1322.8 531.98 1323.15 525.39 1323.3 531.09 1323.5 525.22 1323.85 531 1324.2 527.34 1324.55 532.08 1324.9 526.94 1325.25 532.02 1325.6 525.85 1325.8 533.15 1325.95 526.39 1326.3 532.37 1326.65 523.85 1327 532.33 1327.35 523.93 1327.7 531.97 1328.05 527.64 1328.4 532.99 1328.75 527.35 1329.1 532.09 1329.45 526.35 1329.8 533.52 1330.15 527.37 1330.5 533.42 1330.85 526.59 1331.2 532.95 1331.55 528.52 1331.9 533.54 1332.25 528.49 1332.6 533.68 1332.95 526.85 1333.3 533.8 1333.65 528.35 1334 532.72 1334.35 526.23 1334.7 532.87 1335.05 529.19 1335.4 533.78 1335.75 528.22 1336.1 533.2 1336.45 527.64 1336.8 533.6 1337.15 528.62 1337.5 533.5 1337.85 528.03 1338.2 534.24 1338.55 528.31 1338.9 532.69 1339.25 528.06 1339.6 535.14 1339.8 528.17 1339.95 534.68 1340.3 527.54 1340.65 534.78 1341 528.83 1341.35 536.79 1341.7 529.38 1342.05 533.72 1342.4 528.13 1342.75 533.8 1343.1 527.73 1343.45 534.96 1343.8 529.31 1344.15 533.53 1344.5 528.87 1344.85 534.99 1345.2 527.66 1345.55 533.96 1345.9 527.56 1346.25 533.39 1346.6 527.6 1346.95 534.57 1347.3 528.99 1347.65 533.71 1348 529.88 1348.35 534.72 1348.7 527.97 1349.05 534.44 1349.4 527.82 1349.75 534.17 1350.1 529.8 1350.45 533.15 1350.8 528.41 1351.15 536.44 1351.5 527.98 1351.85 535.57 1352.2 528.1 1352.55 535.49 1352.9 528.08 1353.25 534.42 1353.6 529.02 1353.95 533.92 1354.3 529.96 1354.65 535.5 1355 529.84 1355.35 533.97 1355.7 528.84 1356.05 535.24 1356.4 528.96 1356.75 535.36 1357.1 529.69 1357.45 535.72 1357.8 530.28 1358.15 533.67 1358.5 529.19 1358.85 535.92 1359.2 529.55 1359.55 534.56 1359.8 530.47 1359.9 535.67 1360.25 528.93 1360.6 535.81 1360.95 530.27 1361.3 535.66 1361.4 530.33 1361.65 533.89 1362 529.06 1362.35 536.16 1362.7 530.01 1363.05 533.7 1363.4 529.06 1363.75 534.37 1364.1 529.46 1364.45 534.54 1364.8 530.63 1365.15 535.11 1365.5 529.56 1365.85 534.28 1366.2 530.6 1366.55 535.57 1366.9 529.4 1367.25 536.54 1367.6 530.85 1367.95 537.91 1368.3 530.76 1368.65 535.99 1369 529.63 1369.35 536.06 1369.4 530.86 1369.7 534.89 1370.05 531.76 1370.4 536.94 1370.75 530.36 1371.1 535.51 1371.45 530.34 1371.8 536.17 1372.15 532.11 1372.5 536.89 1372.85 532.71 1373.2 536.32 1373.4 533 1373.55 538.31 1373.9 531.95 1374.25 539.31 1374.6 529.75 1374.9 536.5 1374.95 529.78 1375.3 534.93 1375.65 530.32 1376 534.59 1376.35 528.24 1376.7 533.4 1377.05 528.51 1377.4 534.12 1377.75 528.92 1378.1 534.14 1378.4 527.66 1378.45 533.54 1378.8 528.48 1379.15 532.63 1379.5 527.89 1379.85 532.75 1380.2 527.94 1380.55 533.39 1380.9 529.31 1381.25 534.36 1381.6 527.75 1381.95 534.13 1382.3 527.6 1382.65 532.63 1383 527.29 1383.35 533.51 1383.7 528.05 1384.05 533.71 1384.4 528.27 1384.75 533.16 1385.1 528.71 1385.45 531.43 1385.8 528.07 1386.15 531.7 1386.5 526.08 1386.85 530.13 1386.9 525.13 1387.2 532.53 1387.55 526.69 1387.9 532.69 1388.25 525.36 1388.6 533.23 1388.95 524.87 1389.3 531.65 1389.4 526.1 1389.65 531.51 1390 528.31 1390.35 532.38 1390.7 527.31 1391.05 534.88 1391.4 528.01 1391.75 532.16 1392.1 527.34 1392.45 533.18 1392.8 527.36 1393.15 532.3 1393.5 528.59 1393.85 533.17 1394.2 528.09 1394.55 533.62 1394.9 527.29 1395.25 532.7 1395.6 526.53 1395.95 533.66 1396.3 528.16 1396.65 533.35 1397 526.69 1397.35 534.62 1397.7 528.28 1398.05 532.26 1398.4 528.22 1398.75 533.09 1399.1 528.16 1399.45 533.5 1399.8 527.56 1400.15 534.48 1400.5 528.55 1400.85 533.84 1401.2 529.4 1401.55 533.69 1401.9 529.42 1402.25 533.59 1402.6 528.67 1402.95 534.99 1403.3 529.45 1403.4 533.78 1403.65 527.91 1404 534.2 1404.35 528.51 1404.7 532.98 1405.05 529.11 1405.4 534.91 1405.75 527.86 1406.1 535.17 1406.45 528.04 1406.8 535.45 1407.15 528.67 1407.5 534.89 1407.85 529.59 1408.2 533.82 1408.55 530.1 1408.9 533.37 1409.25 527.87 1409.6 533.24 1409.95 528.64 1410.3 535.28 1410.65 528.18 1411 535.22 1411.35 530.04 1411.7 534.7 1412.05 528.64 1412.4 535.43 1412.75 529.55 1413.1 534.14 1413.45 528.83 1413.8 535.22 1414.15 529.54 1414.5 534.21 1414.85 529.72 1415.2 535.77 1415.55 528.09 1415.9 534.48 1416.25 530.29 1416.6 536.1 1416.95 529.01 1417.3 534.62 1417.65 529.97 1418 534.78 1418.35 529.24 1418.7 535.78 1419.05 528.41 1419.4 533.9 1419.75 530.61 1420.1 535.12 1420.45 529.55 1420.8 536.23 1421.15 530.44 1421.5 536.03 1421.85 528.63 1422.2 535.98 1422.55 528.88 1422.9 535 1423.25 528.64 1423.4 534.5 1423.6 528.7 1423.95 536.15 1424.3 530.84 1424.65 534.9 1425 530.28 1425.35 535.35 1425.5 529.83 1425.7 534.03 1426.05 530.86 1426.4 536.65 1426.75 531.1 1427.1 536.3 1427.45 530.26 1427.8 536.23 1428.15 529.11 1428.5 534.62 1428.85 531.07 1429.2 536.42 1429.55 530.15 1429.9 535.2 1430.25 531.23 1430.6 536.64 1430.95 528.3 1431.3 536.8 1431.65 529.91 1432 536.42 1432.35 529.81 1432.7 539.72 1433.05 529.75 1433.4 536.82 1433.5 530.84 1433.75 535.79 1434.1 530.07 1434.45 535.7 1434.8 531.18 1435.15 538.31 1435.5 532.07 1435.85 536.29 1436.2 533.27 1436.55 537.3 1436.9 533.68 1437.25 538.37 1437.5 533.45 1437.6 537.16 1437.95 530.78 1438.3 538.07 1438.65 531.54 1439 536.21 1439.35 529.22 1439.7 536.56 1440.05 529.87 1440.4 536.04 1440.75 530.14 1441.1 533.89 1441.45 530.83 1441.8 533.73 1442.15 529.79 1442.5 535.78 1442.85 529.97 1443.2 535 1443.55 529.16 1443.9 534.34 1444.25 529.04 1444.6 535.55 1444.95 527.83 1445.3 534.28 1445.65 528.35 1446 535.18 1446.35 530.14 1446.7 533.9 1447.05 528.33 1447.4 533.78 1447.75 528.32 1448.1 536 1448.45 525.49 1448.5 533.63 1448.8 528.91 1449.15 532.35 1449.5 527.2 1449.85 532.66 1450.2 528.29 1450.55 533.38 1450.9 524.44 1451 532.42 1451.25 523.61 1451.6 532.54 1451.95 527.86 1452.3 531.26 1452.65 523.8 1453 533.92 1453.35 526.61 1453.5 532.27 1453.7 528.84 1454.05 532.67 1454.4 527.07 1454.75 532.54 1455.1 528.97 1455.45 533.29 1455.8 528.21 1456.15 534.02 1456.5 528.05 1456.85 536.88 1457.2 527.65 1457.55 533.84 1457.9 529.02 1458.25 534.21 1458.6 529.36 1458.95 534.16 1459.3 529.55 1459.65 534.65 1460 529.29 1460.35 533.69 1460.7 529.34 1461.05 535.21 1461.4 529.54 1461.75 533.83 1462.1 529.52 1462.45 534.88 1462.8 528.57 1463.15 534.52 1463.5 528.85 1463.85 537.9 1464.2 529.17 1464.55 535.49 1464.9 528.45 1465.25 534.37 1465.6 528.55 1465.95 535.37 1466.3 530.53 1466.65 533.7 1467 529.46 1467.35 534.48 1467.5 529.55 1467.7 535.45 1468.05 528.49 1468.4 535.63 1468.75 528.74 1469.1 533.94 1469.45 528.55 1469.8 534.12 1470.15 528.59 1470.5 534.95 1470.85 530.42 1471.2 536.16 1471.55 529.61 1471.9 536.06 1472.25 529.75 1472.6 535.54 1472.95 528.53 1473.3 535.53 1473.65 530.36 1474 536.4 1474.35 528.55 1474.7 534.79 1475.05 528.82 1475.4 535 1475.75 529.11 1476.1 536.33 1476.45 529.44 1476.8 536.4 1477.15 530.72 1477.5 534.76 1477.85 531.25 1478.2 534.81 1478.55 529.12 1478.9 535.91 1479.25 531.03 1479.6 536.29 1479.95 529.4 1480.3 535.99 1480.65 529.15 1481 534.3 1481.35 530.28 1481.7 534.32 1482.05 529.89 1482.4 534.92 1482.75 531.52 1483.1 536.72 1483.45 529.07 1483.8 538.39 1484.15 530.38 1484.5 536.84 1484.85 530.75 1485.2 536.7 1485.55 529.9 1485.9 535.04 1486.25 531.36 1486.6 536.04 1486.95 529.24 1487.3 534.95 1487.5 531.54 1487.65 537 1488 529.19 1488.35 536 1488.7 529.51 1488.9 535.16 1489.05 530.15 1489.4 536.44 1489.75 530.7 1490.1 536.28 1490.45 530.25 1490.8 537.27 1491.15 531.43 1491.5 536 1491.85 529.82 1492.2 535.63 1492.55 532.17 1492.9 535.92 1493.25 531.23 1493.6 537.42 1493.95 532.1 1494.3 537.74 1494.65 530.49 1495 536.2 1495.35 532.33 1495.7 535.85 1496.05 530.74 1496.4 536.54 1496.75 532.57 1496.9 538.05 1497.1 531.38 1497.45 536.1 1497.8 531.35 1498.15 540.54 1498.5 532.85 1498.85 538.39 1499.2 531.95 1499.55 538.1 1499.9 532.84 1500.25 537.54 1500.6 531.52 1500.9 539.75 1500.95 533.32 1501.3 537.42 1501.65 532.23 1502 536.4 1502.35 532.17 1502.4 536.44 1502.7 530.76 1503.05 536.11 1503.4 530.64 1503.75 536.46 1504.1 530.73 1504.45 534.95 1504.8 530.11 1505.15 534.55 1505.5 528.78 1505.85 535.78 1505.9 529.74 1506.2 536.1 1506.55 529.65 1506.9 535.52 1507.25 529.12 1507.6 534.06 1507.95 530.69 1508.3 535.52 1508.65 530.59 1509 535.67 1509.35 530.88 1509.7 535.05 1510.05 528.4 1510.4 534.06 1510.75 529.08 1511.1 534.89 1511.45 528.19 1511.8 534 1511.9 530.57 1512.15 533.35 1512.5 528.86 1512.85 532.98 1513.2 529.59 1513.55 533.77 1513.9 527.69 1514.25 533.31 1514.4 527.05 1514.6 534.03 1514.95 525.96 1515.3 533.5 1515.65 528.39 1516 533.78 1516.35 529.13 1516.7 534.1 1516.9 529.55 1517.05 533.91 1517.4 527.6 1517.75 533.03 1518.1 528.77 1518.45 536.26 1518.8 529.5 1519.15 534.93 1519.5 527.8 1519.85 534.08 1520.2 528.18 1520.55 535.05 1520.9 528.01 1521.25 534.12 1521.6 528.34 1521.95 534.61 1522.3 529.99 1522.65 534.92 1523 530.43 1523.35 534.34 1523.7 529.89 1524.05 534.29 1524.4 530.45 1524.75 535.79 1525.1 529.79 1525.45 535.14 1525.8 530.67 1526.15 533.85 1526.5 530.34 1526.85 533.9 1527.2 529.6 1527.55 535.22 1527.9 529.41 1528.25 534.17 1528.6 530.66 1528.95 535.75 1529.3 529.41 1529.65 536.55 1530 530.56 1530.35 534.99 1530.7 530.84 1530.9 534.88 1531.05 530.22 1531.4 535.76 1531.75 529.59 1532.1 537.26 1532.45 529.76 1532.8 536.74 1533.15 528.96 1533.5 538.2 1533.85 529.15 1534.2 536.57 1534.55 529.7 1534.9 535.91 1535.25 530.68 1535.6 535.91 1535.95 530.11 1536.3 536.46 1536.65 529.8 1537 537.15 1537.35 531.16 1537.7 534.76 1538.05 530.46 1538.4 535.32 1538.75 531.07 1539.1 536.07 1539.45 528.45 1539.8 536.54 1540.15 531.05 1540.5 536.68 1540.85 529.71 1541.2 535.9 1541.55 531.06 1541.9 535.02 1542.25 529.88 1542.6 536.7 1542.95 530.27 1543.3 535.27 1543.65 530.22 1544 536.31 1544.35 530.7 1544.7 535.75 1545.05 531.81 1545.4 536.73 1545.75 528.41 1546.1 537.47 1546.45 531.55 1546.8 536.04 1547.15 530.85 1547.5 537.02 1547.85 529.74 1548.2 537.4 1548.55 529.87 1548.9 535.25 1549.25 531.65 1549.6 536.11 1549.95 529.23 1550.3 536.8 1550.65 530.48 1550.9 537.19 1551 529.95 1551.35 536 1551.7 531.5 1552.05 536.74 1552.4 529.92 1552.75 535.79 1552.9 530.15 1553.1 537.28 1553.45 530.39 1553.8 537.3 1554.15 530.65 1554.5 538.14 1554.85 530.37 1555.2 537.97 1555.55 529.98 1555.9 538.36 1556.25 530.87 1556.6 536.85 1556.95 531.96 1557.3 537.49 1557.65 532.05 1558 536.85 1558.35 532.49 1558.7 538.29 1559.05 532.58 1559.4 536.36 1559.75 533.4 1560.1 538.82 1560.45 531.77 1560.8 537.37 1560.9 531.44 1561.15 538.87 1561.5 532.2 1561.85 538.81 1562.2 532.61 1562.55 538.34 1562.9 534.11 1563.25 539.6 1563.6 532.86 1563.95 540.05 1564.3 532.83 1564.65 538.63 1564.9 533.13 1565 539.06 1565.35 533.77 1565.7 538.75 1566.05 532.69 1566.4 537.09 1566.75 531.49 1567.1 536.05 1567.45 530.68 1567.8 535.5 1568.15 530.99 1568.5 535.99 1568.85 530.84 1569.2 535.17 1569.55 529.47 1569.9 536.32 1570.25 530.72 1570.6 535.26 1570.95 530.16 1571.3 534.57 1571.65 529.77 1572 536.63 1572.35 529.41 1572.7 536.81 1573.05 529.97 1573.4 534.97 1573.75 531.07 1574.1 535.87 1574.45 529.6 1574.8 536.23 1575.15 528.93 1575.5 536.17 1575.85 529.26 1575.9 535.51 1576.2 530.26 1576.55 535.71 1576.9 529.27 1577.25 533.51 1577.6 529.74 1577.95 534.36 1578.3 527.11 1578.4 534.36 1578.65 526.78 1579 534.32 1579.35 529.62 1579.7 533.79 1580.05 527.78 1580.4 535.43 1580.75 529.16 1580.9 534.65 1581.1 528.11 1581.45 534.25 1581.8 528.84 1582.15 533.88 1582.5 528.05 1582.85 536.12 1583.2 528.64 1583.55 534.75 1583.9 528.38 1584.25 536.08 1584.6 530.81 1584.95 535.51 1585.3 530.25 1585.65 535.5 1586 530.88 1586.35 535.89 1586.7 529.05 1587.05 534.06 1587.4 531.2 1587.75 535.44 1588.1 529.54 1588.45 535.18 1588.8 528.96 1589.15 535.35 1589.5 529.73 1589.85 534.47 1590.2 529.31 1590.55 534.45 1590.9 530.25 1591.25 535.86 1591.6 529.52 1591.95 536.38 1592.3 530.29 1592.65 536.2 1593 529.87 1593.35 536.16 1593.7 530.16 1594.05 536.46 1594.4 529.7 1594.75 536.19 1594.9 531.3 1595.1 537.2 1595.45 530.85 1595.8 535.91 1596.15 530.75 1596.5 536.25 1596.85 531.37 1597.2 536.13 1597.55 531.57 1597.9 537.41 1598.25 530.73 1598.6 537.64 1598.95 531.97 1599.3 537.75 1599.65 530.44 1600 536.97 1600.35 529.86 1600.7 536.75 1601.05 532.19 1601.4 538.1 1601.75 530.45 1602.1 536.69 1602.45 530.87 1602.8 537.36 1603.15 531.27 1603.5 537.1 1603.85 532.07 1604.2 537.3 1604.55 531.85 1604.9 536.46 1605.25 532.11 1605.6 537.1 1605.95 530.89 1606.3 536.72 1606.65 531.95 1607 535.58 1607.35 532.34 1607.7 536.99 1608.05 531.91 1608.4 535.86 1608.75 530.92 1609.1 537.08 1609.45 532.72 1609.8 538.01 1610.15 531.25 1610.5 539.75 1610.85 532.69 1611.2 538.09 1611.55 531.49 1611.9 536.7 1612.25 530.57 1612.6 536.62 1612.95 532.28 1613.3 536.5 1613.65 532.06 1614 537.21 1614.35 531.09 1614.7 537.94 1614.9 530.76 1615.05 537.81 1615.4 531.44 1615.75 537.48 1616.1 531.35 1616.45 536.01 1616.6 531.8 1616.8 538.47 1617.15 532.76 1617.5 536.98 1617.85 532.36 1618.2 537.34 1618.55 531.27 1618.9 538.74 1619.25 531.49 1619.6 536.93 1619.95 533.1 1620.3 536.79 1620.65 531.83 1621 538.7 1621.35 532.76 1621.7 537.5 1622.05 533.35 1622.4 538.91 1622.75 532.93 1623.1 537.41 1623.45 533.47 1623.8 538.39 1624.15 533.8 1624.5 538.69 1624.6 533.05 1624.85 539.16 1625.2 534.58 1625.55 540.08 1625.9 532.86 1626.25 540.33 1626.6 534.2 1626.95 539.72 1627.3 533.66 1627.65 540.53 1628 534.02 1628.35 539.67 1628.6 534.97 1628.7 539.07 1629.05 534.99 1629.4 538.13 1629.75 532.87 1630.1 538.81 1630.45 532.92 1630.8 536.65 1631.15 531.01 1631.5 538.09 1631.85 531.76 1632.2 537.79 1632.55 530.88 1632.9 537.93 1633.25 528.43 1633.6 536.83 1633.95 532.31 1634.3 540.1 1634.65 530.59 1635 535.64 1635.35 532.24 1635.7 536.57 1636.05 532.19 1636.4 536.49 1636.75 531.99 1637.1 537.12 1637.45 531.83 1637.8 536.72 1638.15 530.71 1638.5 536.76 1638.85 529.95 1639.2 535.22 1639.55 531.13 1639.6 538.47 1639.9 530.37 1640.25 536.95 1640.6 530.67 1640.95 533.79 1641.3 528.2 1641.65 533.95 1642 528.27 1642.1 533.98 1642.35 526.27 1642.7 534.77 1643.05 528.34 1643.4 533.45 1643.75 528.99 1644.1 533.82 1644.45 529.13 1644.6 533.99 1644.8 530.94 1645.15 534.98 1645.5 529.94 1645.85 534.92 1646.2 529.18 1646.55 535.97 1646.9 529.15 1647.25 534.44 1647.6 529.92 1647.95 534.53 1648.3 530.36 1648.65 534.64 1649 529.92 1649.35 535.35 1649.7 529.92 1650.05 534.77 1650.4 530.07 1650.75 535.02 1651.1 531.5 1651.45 535.95 1651.8 530.49 1652.15 537.83 1652.5 531.41 1652.85 536.12 1653.2 530.29 1653.55 539.93 1653.9 530.65 1654.25 535.88 1654.6 530.11 1654.95 536.84 1655.3 527.81 1655.65 537.59 1656 530.98 1656.35 536.45 1656.7 532.12 1657.05 539.89 1657.4 530.37 1657.75 536.25 1658.1 531.62 1658.45 535.68 1658.6 532.59 1658.8 540.02 1659.15 528.59 1659.5 537.75 1659.85 532.79 1660.2 536.12 1660.55 531.73 1660.9 537.56 1661.25 531.54 1661.6 536.59 1661.95 532.48 1662.3 537.39 1662.65 532.01 1663 537.08 1663.35 532.59 1663.7 538.01 1664.05 532.06 1664.4 538.04 1664.75 533.03 1665.1 537.47 1665.45 531.36 1665.8 536.46 1666.15 531.35 1666.5 537.78 1666.85 531.69 1667.2 537.34 1667.55 532.37 1667.9 538.3 1668.25 531.41 1668.6 538.39 1668.95 532.94 1669.3 537.43 1669.65 530.85 1670 536.33 1670.35 531.43 1670.7 536.72 1671.05 532.12 1671.4 537.1 1671.75 532.21 1672.1 537.86 1672.45 531.41 1672.8 537.69 1673.15 529.61 1673.5 538.35 1673.85 531.4 1674.2 538.02 1674.55 532.41 1674.9 537.66 1675.25 532.08 1675.6 538.86 1675.95 531.22 1676.3 539.11 1676.65 533.63 1677 537.93 1677.35 532.34 1677.7 536.93 1678.05 533.47 1678.4 537.41 1678.6 532.29 1678.75 538.62 1679.1 533.37 1679.45 539.12 1679.8 533.63 1680.15 538.4 1680.2 533.09 1680.5 537.05 1680.85 533.34 1681.2 537.07 1681.55 532.12 1681.9 539.18 1682.25 529.65 1682.6 537.11 1682.95 532.03 1683.3 538.35 1683.65 532.84 1684 539.62 1684.35 532.04 1684.7 538.64 1685.05 533.16 1685.4 538.9 1685.75 533.17 1686.1 537.66 1686.45 534.3 1686.8 538.71 1687.15 533.88 1687.5 538.68 1687.85 533.36 1688.2 539.41 1688.55 533.95 1688.9 540.34 1689.25 535.32 1689.6 538.95 1689.95 535.45 1690.3 538.94 1690.65 533.63 1691 540.07 1691.35 534.5 1691.7 540.49 1692.05 535.52 1692.2 540.74 1692.4 534.42 1692.75 538.81 1693.1 534.53 1693.45 539.91 1693.7 533.58 1693.8 540.3 1694.15 534.26 1694.5 538.07 1694.85 531.75 1695.2 539.06 1695.55 532.3 1695.9 539.06 1696.25 531.47 1696.6 538.39 1696.95 532.95 1697.2 536.52 1697.3 532 1697.65 536.33 1698 531.92 1698.35 537.5 1698.7 531.68 1699.05 536.01 1699.4 530.87 1699.75 536.44 1700.1 532.99 1700.45 537.99 1700.8 531.25 1701.15 536.78 1701.5 531.25 1701.85 537 1702.2 531.61 1702.55 537.37 1702.9 531.52 1703.2 536.39 1703.25 529.83 1703.6 537.06 1703.95 530.48 1704.3 536.94 1704.65 529.99 1705 534.79 1705.35 529.37 1705.7 535.73 1706.05 530.67 1706.4 535.74 1706.75 529.47 1707.1 534.17 1707.45 530.5 1707.8 534.75 1708.15 531.29 1708.2 536.24 1708.5 530.32 1708.85 536.15 1709.2 530.48 1709.55 537.01 1709.9 529.67 1710.25 535.98 1710.6 531.22 1710.95 535.14 1711.3 532.12 1711.65 536.2 1712 530.56 1712.35 535.72 1712.7 531.24 1713.05 537.74 1713.4 530.44 1713.75 536.78 1714.1 530 1714.45 537.8 1714.8 532.34 1715.15 536.53 1715.5 531.37 1715.85 537.32 1716.2 531.34 1716.55 537.81 1716.9 531.02 1717.25 536.6 1717.6 531.73 1717.95 537.95 1718.3 533.01 1718.65 536.77 1719 532.07 1719.35 536.08 1719.7 532.07 1720.05 538.64 1720.4 532.32 1720.75 538.53 1721.1 532.61 1721.45 537.68 1721.8 532.22 1722.15 536.77 1722.2 533.28 1722.5 538.77 1722.85 532.89 1723.2 537.47 1723.55 533.14 1723.9 537.71 1724.25 532.33 1724.6 538.1 1724.95 532.63 1725.3 538.44 1725.65 531.67 1726 538.19 1726.35 532.16 1726.7 538.07 1727.05 532.64 1727.4 539.17 1727.75 532.37 1728.1 538.52 1728.45 533.71 1728.8 538.23 1729.15 531.39 1729.5 539.23 1729.85 532.18 1730.2 541.53 1730.55 533.02 1730.9 538.37 1731.25 533.79 1731.6 537.78 1731.95 532.45 1732.3 537.89 1732.65 533.41 1733 537.22 1733.35 532.86 1733.7 540.94 1734.05 533.86 1734.4 537.12 1734.75 532.07 1735.1 538.52 1735.45 533.45 1735.8 538.94 1736.15 532.67 1736.5 537.74 1736.85 531.85 1737.2 538.94 1737.55 534.26 1737.9 539.59 1738.25 531.6 1738.6 537.69 1738.95 533.13 1739.3 539.42 1739.65 532.13 1740 539.17 1740.35 532.24 1740.7 538.56 1741.05 533.53 1741.4 537.55 1741.75 534.51 1742.1 538.08 1742.2 532.64 1742.45 538.74 1742.8 532.24 1743.15 539.14 1743.5 534.25 1743.85 537.69 1743.9 532.07 1744.2 538.47 1744.55 533.33 1744.9 539.11 1745.25 533.07 1745.6 540.05 1745.95 533.37 1746.3 539.31 1746.65 533.61 1747 538.71 1747.35 533 1747.7 539.58 1748.05 534.19 1748.4 540.27 1748.75 533.58 1749.1 538.26 1749.45 533.06 1749.8 539.62 1750.15 534.45 1750.5 539.78 1750.85 533.78 1751.2 539.87 1751.55 535.2 1751.9 540.32 1752.25 535.78 1752.6 539.36 1752.95 534.68 1753.3 540.17 1753.65 535.1 1754 541.62 1754.35 534.72 1754.7 542.27 1755.05 535.88 1755.4 542.12 1755.75 536.97 1755.9 541 1756.1 535.25 1756.45 541.19 1756.8 534.04 1757.15 539.94 1757.4 535.05 1757.5 539.39 1757.85 532.24 1758.2 538.79 1758.55 532.91 1758.9 539.6 1759.25 532.14 1759.6 538.85 1759.95 533.56 1760.3 538.28 1760.65 533.23 1760.9 538.83 1761 532.68 1761.35 538.8 1761.7 531.7 1762.05 537.58 1762.4 531.25 1762.75 538.39 1763.1 533.63 1763.45 537.05 1763.8 532.16 1764.15 536.52 1764.5 532.12 1764.85 538.2 1765.2 530.51 1765.55 536.53 1765.9 531.71" stroke="#0072B2" stroke-width="2" fill="none" stroke-linejoin="round"/>
<path d="M1055.5 533V559.8M1119 533V564.4M1182.8 533V563M1245.9 533V561.8M1310.1 533V560.4M1373.7 533V560.4M1437.8 533V560.4M1501.2 533V562.4M1565.2 533V559.4M1628.9 533V562.4M1692.5 533V564.4M1756.2 533V560.4M1005.6 530V524.5" stroke="#0072B2" stroke-width="1.6" fill="none"/>
<g font-family='"Liberation Sans", Arial, Helvetica, sans-serif' fill="#000">
<text x="884.5" y="28.4" font-size="38">(b<tspan dx="2">)</tspan></text>
<text transform="translate(956.5 104) scale(1 1.035)" font-size="30" text-anchor="end">0.6 <tspan font-size="26">µ</tspan>A</text>
<text transform="translate(956.5 194.2) scale(1 1.035)" font-size="30" text-anchor="end">50 nA</text>
<text transform="translate(958 281) scale(1 1.035)" font-size="30" text-anchor="end">10 nA</text>
<text transform="translate(954.2 372.8) scale(1 1.035)" font-size="30" text-anchor="end">4 nA</text>
<text transform="translate(955.2 457.2) scale(1 1.035)" font-size="30" text-anchor="end">3 nA</text>
<text transform="translate(956.2 545.2) scale(1 1.035)" font-size="30" text-anchor="end">2 nA</text>
<text transform="translate(1864.6 94) scale(1 1.035)" font-size="30" text-anchor="end">- 0.8 V</text>
<text transform="translate(1864.6 188.3) scale(1 1.035)" font-size="30" text-anchor="end">- 0.6 V</text>
<text transform="translate(1865.8 273.7) scale(1 1.035)" font-size="30" text-anchor="end">- 0.4 V</text>
<text transform="translate(1864.6 368) scale(1 1.035)" font-size="30" text-anchor="end">- 0.2 V</text>
<text transform="translate(1863.5 458.2) scale(1 1.035)" font-size="30" text-anchor="end">0.0 V</text>
<text transform="translate(1864 544) scale(1 1.035)" font-size="30" text-anchor="end">0.2 V</text>
<text transform="translate(1001.8 612) scale(1 1.035)" font-size="30" text-anchor="start">1 s</text>
<text transform="translate(1941.3 312.6) scale(1 1.035)" font-size="36.5">V<tspan font-size="23" dx="-4.5" dy="7.9">GS</tspan></text>
<text transform="translate(851.1 364.2) rotate(-90) scale(1 1.045)" font-size="34">I<tspan dy="8.4">DS</tspan><tspan dy="-8.4"> (t)</tspan></text>
</g>
<path d="M981.3 57.1V118.8M976.8 57.1h9M976.8 118.8h9M981.3 148.1V216.8M976.8 148.1h9M976.8 216.8h9M981.3 252.8V290.8M976.8 252.8h9M976.8 290.8h9M981.3 345.8V378.1M976.8 345.8h9M976.8 378.1h9M981.3 426.4V469M976.8 426.4h9M976.8 469h9M981.3 528.5V546.3M976.8 528.5h9M976.8 546.3h9" stroke="#000" stroke-width="1.7" fill="none"/>
<path d="M1000 586.2H1039.6M1000.6 581.6V590.6M1039 581.6V590.6" stroke="#000" stroke-width="1.8" fill="none"/>
<path d="M1878 53.6C1895 53.8 1904.6 55 1904.6 60V294C1904.6 299.5 1909 302.2 1917 302.4H1931.6M1904.6 311C1904.6 305.5 1909 302.6 1917 302.4M1904.6 311V545C1904.6 550 1895 551.4 1878 551.9" stroke="#000" stroke-width="3" fill="none"/>
</svg>
</body></html>
